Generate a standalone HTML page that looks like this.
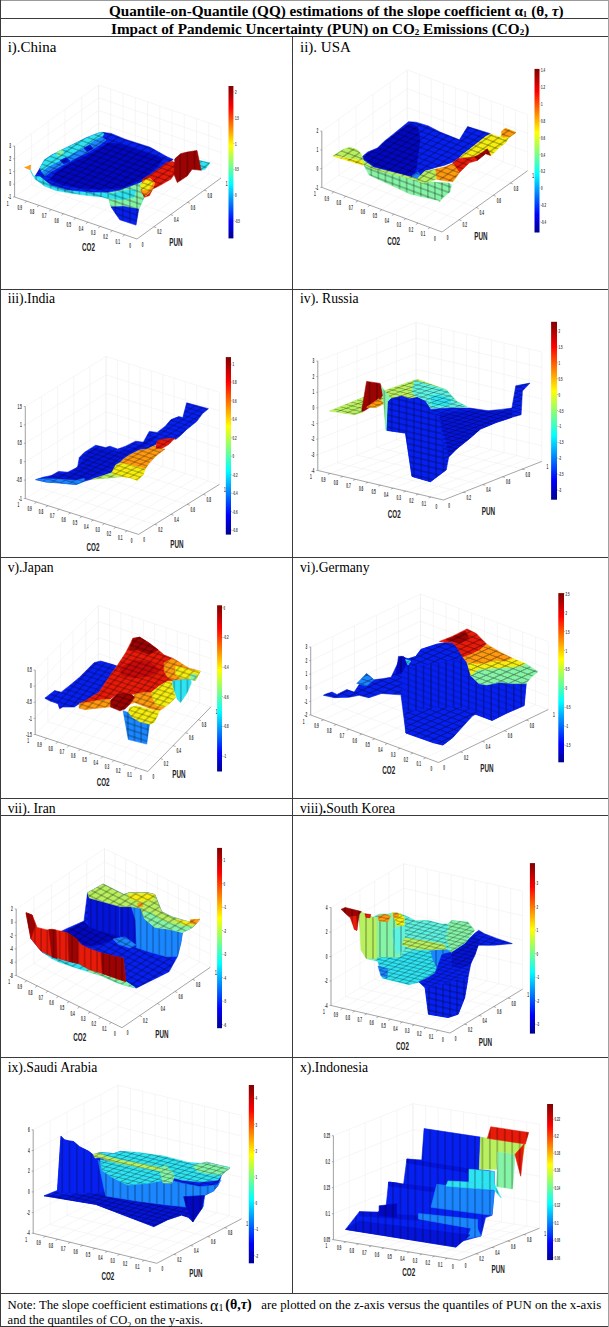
<!DOCTYPE html>
<html><head><meta charset="utf-8">
<style>
*{margin:0;padding:0;box-sizing:border-box}
html,body{width:609px;height:1327px;background:#fff;overflow:hidden}
body{position:relative;font-family:"Liberation Serif",serif;color:#111}
.h{position:absolute;left:0;width:609px;height:1px;background:#3a3a3a}
.v{position:absolute;width:1px;background:#3a3a3a}
.t{position:absolute;white-space:nowrap;line-height:1}
.hd{font-weight:bold;font-size:15.2px;color:#000}
.lb{font-size:13.7px;color:#000}
.note{font-size:12.75px;color:#000}
svg{position:absolute}
.sf{font-family:"Liberation Sans",sans-serif}
</style></head><body>
<!-- borders -->
<div class="h" style="top:0;background:#9a9a9a"></div>
<div class="h" style="top:18px"></div>
<div class="h" style="top:36px"></div>
<div class="h" style="top:289px"></div>
<div class="h" style="top:557px"></div>
<div class="h" style="top:798px"></div>
<div class="h" style="top:815px"></div>
<div class="h" style="top:1057px"></div>
<div class="h" style="top:1293px"></div>
<div class="h" style="top:1326px"></div>
<div class="v" style="left:0;top:0;height:1327px"></div>
<div class="v" style="left:608px;top:0;height:1327px;background:#a0a0a0"></div>
<div class="v" style="left:292px;top:36px;height:1257px"></div>

<div class="t hd" style="left:109px;top:3px">Quantile-on-Quantile (QQ) estimations of the slope coefficient α<sub style="font-size:9px;vertical-align:-1px">1</sub> (θ, <i>τ</i>)</div>
<div class="t hd" style="left:111px;top:21px">Impact of Pandemic Uncertainty (PUN) on CO<sub style="font-size:9px;vertical-align:-1px">2</sub> Emissions (CO<sub style="font-size:9px;vertical-align:-1px">2</sub>)</div>

<div class="t lb" style="left:7.7px;top:39.5px;font-size:15px">i).China</div>
<div class="t lb" style="left:300px;top:39.5px;font-size:15px">ii). USA</div>
<div class="t lb" style="left:7.7px;top:292px">iii).India</div>
<div class="t lb" style="left:300px;top:292px">iv). Russia</div>
<div class="t lb" style="left:7.7px;top:560.5px">v).Japan</div>
<div class="t lb" style="left:300px;top:560.5px">vi).Germany</div>
<div class="t lb" style="left:7.7px;top:801.5px">vii). Iran</div>
<div class="t lb" style="left:300px;top:801.5px">viii)<b>.</b>South Korea</div>
<div class="t lb" style="left:7.7px;top:1060.5px">ix).Saudi Arabia</div>
<div class="t lb" style="left:300px;top:1060.5px">x).Indonesia</div>

<div class="t note" style="left:7.6px;top:1298.5px">Note: The slope coefficient estimations</div>
<div class="t note" style="left:210px;top:1297.5px"><span style="font-size:16px">α</span><span style="font-size:10px">1</span></div>
<div class="t note" style="left:225.3px;top:1297.5px;font-weight:bold;font-size:14px">(θ,<i>τ</i>)</div>
<div class="t note" style="left:261.3px;top:1298.5px;font-size:12.84px">are plotted on the z-axis versus the quantiles of PUN on the x-axis</div>
<div class="t note" style="left:7.6px;top:1313.5px;font-size:12.62px">and the quantiles of CO<sub style="font-size:8px">2</sub> on the y-axis.</div>

<svg width="609" height="1327" viewBox="0 0 609 1327" style="left:0;top:0" font-family="Liberation Sans, sans-serif"><defs><linearGradient id="jet" x1="0" y1="1" x2="0" y2="0"><stop offset="0" stop-color="#00008f"/><stop offset="0.11" stop-color="#0000ff"/><stop offset="0.36" stop-color="#00ffff"/><stop offset="0.61" stop-color="#ffff00"/><stop offset="0.86" stop-color="#ff0000"/><stop offset="1" stop-color="#800000"/></linearGradient></defs>
<line x1="31.4" y1="184.8" x2="153.8" y2="226.8" stroke="#ececec" stroke-width="0.5"/>
<line x1="48.2" y1="172.6" x2="170.6" y2="214.6" stroke="#ececec" stroke-width="0.5"/>
<line x1="65.0" y1="160.4" x2="187.4" y2="202.4" stroke="#ececec" stroke-width="0.5"/>
<line x1="81.8" y1="148.2" x2="204.2" y2="190.2" stroke="#ececec" stroke-width="0.5"/>
<line x1="26.8" y1="201.2" x2="110.8" y2="140.2" stroke="#ececec" stroke-width="0.5"/>
<line x1="39.1" y1="205.4" x2="123.1" y2="144.4" stroke="#ececec" stroke-width="0.5"/>
<line x1="51.3" y1="209.6" x2="135.3" y2="148.6" stroke="#ececec" stroke-width="0.5"/>
<line x1="63.6" y1="213.8" x2="147.6" y2="152.8" stroke="#ececec" stroke-width="0.5"/>
<line x1="75.8" y1="218.0" x2="159.8" y2="157.0" stroke="#ececec" stroke-width="0.5"/>
<line x1="88.0" y1="222.2" x2="172.0" y2="161.2" stroke="#ececec" stroke-width="0.5"/>
<line x1="100.3" y1="226.4" x2="184.3" y2="165.4" stroke="#ececec" stroke-width="0.5"/>
<line x1="112.5" y1="230.6" x2="196.5" y2="169.6" stroke="#ececec" stroke-width="0.5"/>
<line x1="124.8" y1="234.8" x2="208.8" y2="173.8" stroke="#ececec" stroke-width="0.5"/>
<line x1="14.6" y1="197.0" x2="14.6" y2="146.0" stroke="#ececec" stroke-width="0.5"/>
<line x1="31.4" y1="184.8" x2="31.4" y2="133.8" stroke="#ececec" stroke-width="0.5"/>
<line x1="48.2" y1="172.6" x2="48.2" y2="121.6" stroke="#ececec" stroke-width="0.5"/>
<line x1="65.0" y1="160.4" x2="65.0" y2="109.4" stroke="#ececec" stroke-width="0.5"/>
<line x1="81.8" y1="148.2" x2="81.8" y2="97.2" stroke="#ececec" stroke-width="0.5"/>
<line x1="98.6" y1="136.0" x2="98.6" y2="85.0" stroke="#ececec" stroke-width="0.5"/>
<line x1="14.6" y1="197.0" x2="98.6" y2="136.0" stroke="#ececec" stroke-width="0.5"/>
<line x1="14.6" y1="184.2" x2="98.6" y2="123.2" stroke="#ececec" stroke-width="0.5"/>
<line x1="14.6" y1="171.5" x2="98.6" y2="110.5" stroke="#ececec" stroke-width="0.5"/>
<line x1="14.6" y1="158.8" x2="98.6" y2="97.8" stroke="#ececec" stroke-width="0.5"/>
<line x1="14.6" y1="146.0" x2="98.6" y2="85.0" stroke="#ececec" stroke-width="0.5"/>
<line x1="98.6" y1="136.0" x2="98.6" y2="85.0" stroke="#ececec" stroke-width="0.5"/>
<line x1="110.8" y1="140.2" x2="110.8" y2="89.2" stroke="#ececec" stroke-width="0.5"/>
<line x1="123.1" y1="144.4" x2="123.1" y2="93.4" stroke="#ececec" stroke-width="0.5"/>
<line x1="135.3" y1="148.6" x2="135.3" y2="97.6" stroke="#ececec" stroke-width="0.5"/>
<line x1="147.6" y1="152.8" x2="147.6" y2="101.8" stroke="#ececec" stroke-width="0.5"/>
<line x1="159.8" y1="157.0" x2="159.8" y2="106.0" stroke="#ececec" stroke-width="0.5"/>
<line x1="172.0" y1="161.2" x2="172.0" y2="110.2" stroke="#ececec" stroke-width="0.5"/>
<line x1="184.3" y1="165.4" x2="184.3" y2="114.4" stroke="#ececec" stroke-width="0.5"/>
<line x1="196.5" y1="169.6" x2="196.5" y2="118.6" stroke="#ececec" stroke-width="0.5"/>
<line x1="208.8" y1="173.8" x2="208.8" y2="122.8" stroke="#ececec" stroke-width="0.5"/>
<line x1="221.0" y1="178.0" x2="221.0" y2="127.0" stroke="#ececec" stroke-width="0.5"/>
<line x1="98.6" y1="136.0" x2="221.0" y2="178.0" stroke="#ececec" stroke-width="0.5"/>
<line x1="98.6" y1="123.2" x2="221.0" y2="165.2" stroke="#ececec" stroke-width="0.5"/>
<line x1="98.6" y1="110.5" x2="221.0" y2="152.5" stroke="#ececec" stroke-width="0.5"/>
<line x1="98.6" y1="97.8" x2="221.0" y2="139.8" stroke="#ececec" stroke-width="0.5"/>
<line x1="98.6" y1="85.0" x2="221.0" y2="127.0" stroke="#ececec" stroke-width="0.5"/>
<line x1="14.6" y1="197.0" x2="14.6" y2="146.0" stroke="#808080" stroke-width="0.7"/>
<line x1="14.6" y1="197.0" x2="137.0" y2="239.0" stroke="#808080" stroke-width="0.7"/>
<line x1="137.0" y1="239.0" x2="221.0" y2="178.0" stroke="#808080" stroke-width="0.7"/>
<line x1="14.6" y1="197.0" x2="13.1" y2="197.0" stroke="#808080" stroke-width="0.6"/>
<text x="11.1" y="199.2" font-size="6.3" text-anchor="end" fill="#333" font-weight="bold" transform="translate(11.1 199.2) scale(0.50 1) translate(-11.1 -199.2)">-1</text>
<line x1="14.6" y1="184.2" x2="13.1" y2="184.2" stroke="#808080" stroke-width="0.6"/>
<text x="11.1" y="186.4" font-size="6.3" text-anchor="end" fill="#333" font-weight="bold" transform="translate(11.1 186.4) scale(0.50 1) translate(-11.1 -186.4)">0</text>
<line x1="14.6" y1="171.5" x2="13.1" y2="171.5" stroke="#808080" stroke-width="0.6"/>
<text x="11.1" y="173.7" font-size="6.3" text-anchor="end" fill="#333" font-weight="bold" transform="translate(11.1 173.7) scale(0.50 1) translate(-11.1 -173.7)">1</text>
<line x1="14.6" y1="158.8" x2="13.1" y2="158.8" stroke="#808080" stroke-width="0.6"/>
<text x="11.1" y="160.9" font-size="6.3" text-anchor="end" fill="#333" font-weight="bold" transform="translate(11.1 160.9) scale(0.50 1) translate(-11.1 -160.9)">2</text>
<line x1="14.6" y1="146.0" x2="13.1" y2="146.0" stroke="#808080" stroke-width="0.6"/>
<text x="11.1" y="148.2" font-size="6.3" text-anchor="end" fill="#333" font-weight="bold" transform="translate(11.1 148.2) scale(0.50 1) translate(-11.1 -148.2)">3</text>
<text x="7.6" y="205.8" font-size="6.3" text-anchor="middle" fill="#333" font-weight="bold" transform="translate(7.6 205.8) scale(0.50 1) translate(-7.6 -205.8)">1</text>
<text x="19.8" y="210.0" font-size="6.3" text-anchor="middle" fill="#333" font-weight="bold" transform="translate(19.8 210.0) scale(0.50 1) translate(-19.8 -210.0)">0.9</text>
<line x1="26.8" y1="201.2" x2="24.7" y2="202.7" stroke="#777" stroke-width="0.6"/>
<text x="32.1" y="214.2" font-size="6.3" text-anchor="middle" fill="#333" font-weight="bold" transform="translate(32.1 214.2) scale(0.50 1) translate(-32.1 -214.2)">0.8</text>
<line x1="39.1" y1="205.4" x2="37.0" y2="206.9" stroke="#777" stroke-width="0.6"/>
<text x="44.3" y="218.4" font-size="6.3" text-anchor="middle" fill="#333" font-weight="bold" transform="translate(44.3 218.4) scale(0.50 1) translate(-44.3 -218.4)">0.7</text>
<line x1="51.3" y1="209.6" x2="49.2" y2="211.1" stroke="#777" stroke-width="0.6"/>
<text x="56.6" y="222.6" font-size="6.3" text-anchor="middle" fill="#333" font-weight="bold" transform="translate(56.6 222.6) scale(0.50 1) translate(-56.6 -222.6)">0.6</text>
<line x1="63.6" y1="213.8" x2="61.5" y2="215.3" stroke="#777" stroke-width="0.6"/>
<text x="68.8" y="226.8" font-size="6.3" text-anchor="middle" fill="#333" font-weight="bold" transform="translate(68.8 226.8) scale(0.50 1) translate(-68.8 -226.8)">0.5</text>
<line x1="75.8" y1="218.0" x2="73.7" y2="219.5" stroke="#777" stroke-width="0.6"/>
<text x="81.0" y="231.0" font-size="6.3" text-anchor="middle" fill="#333" font-weight="bold" transform="translate(81.0 231.0) scale(0.50 1) translate(-81.0 -231.0)">0.4</text>
<line x1="88.0" y1="222.2" x2="85.9" y2="223.7" stroke="#777" stroke-width="0.6"/>
<text x="93.3" y="235.2" font-size="6.3" text-anchor="middle" fill="#333" font-weight="bold" transform="translate(93.3 235.2) scale(0.50 1) translate(-93.3 -235.2)">0.3</text>
<line x1="100.3" y1="226.4" x2="98.2" y2="227.9" stroke="#777" stroke-width="0.6"/>
<text x="105.5" y="239.4" font-size="6.3" text-anchor="middle" fill="#333" font-weight="bold" transform="translate(105.5 239.4) scale(0.50 1) translate(-105.5 -239.4)">0.2</text>
<line x1="112.5" y1="230.6" x2="110.4" y2="232.1" stroke="#777" stroke-width="0.6"/>
<text x="117.8" y="243.6" font-size="6.3" text-anchor="middle" fill="#333" font-weight="bold" transform="translate(117.8 243.6) scale(0.50 1) translate(-117.8 -243.6)">0.1</text>
<line x1="124.8" y1="234.8" x2="122.7" y2="236.3" stroke="#777" stroke-width="0.6"/>
<text x="130.0" y="247.8" font-size="6.3" text-anchor="middle" fill="#333" font-weight="bold" transform="translate(130.0 247.8) scale(0.50 1) translate(-130.0 -247.8)">0</text>
<text x="142.6" y="246.6" font-size="6.3" text-anchor="middle" fill="#333" font-weight="bold" transform="translate(142.6 246.6) scale(0.50 1) translate(-142.6 -246.6)">0</text>
<text x="159.4" y="234.4" font-size="6.3" text-anchor="middle" fill="#333" font-weight="bold" transform="translate(159.4 234.4) scale(0.50 1) translate(-159.4 -234.4)">0.2</text>
<line x1="153.8" y1="226.8" x2="156.3" y2="227.6" stroke="#777" stroke-width="0.6"/>
<text x="176.2" y="222.2" font-size="6.3" text-anchor="middle" fill="#333" font-weight="bold" transform="translate(176.2 222.2) scale(0.50 1) translate(-176.2 -222.2)">0.4</text>
<line x1="170.6" y1="214.6" x2="173.1" y2="215.4" stroke="#777" stroke-width="0.6"/>
<text x="193.0" y="210.0" font-size="6.3" text-anchor="middle" fill="#333" font-weight="bold" transform="translate(193.0 210.0) scale(0.50 1) translate(-193.0 -210.0)">0.6</text>
<line x1="187.4" y1="202.4" x2="189.9" y2="203.2" stroke="#777" stroke-width="0.6"/>
<text x="209.8" y="197.8" font-size="6.3" text-anchor="middle" fill="#333" font-weight="bold" transform="translate(209.8 197.8) scale(0.50 1) translate(-209.8 -197.8)">0.8</text>
<line x1="204.2" y1="190.2" x2="206.7" y2="191.0" stroke="#777" stroke-width="0.6"/>
<text x="226.6" y="185.6" font-size="6.3" text-anchor="middle" fill="#333" font-weight="bold" transform="translate(226.6 185.6) scale(0.50 1) translate(-226.6 -185.6)">1</text>
<text x="88.5" y="251.0" font-size="10.5" text-anchor="middle" fill="#222" font-weight="bold" font-weight="bold" transform="translate(88.5 251.0) scale(0.6 1) translate(-88.5 -251.0)">CO2</text>
<text x="176.0" y="246.5" font-size="10.5" text-anchor="middle" fill="#222" font-weight="bold" font-weight="bold" transform="translate(176.0 246.5) scale(0.6 1) translate(-176.0 -246.5)">PUN</text>
<defs><pattern id="m0f" patternUnits="userSpaceOnUse" width="100" height="100" patternTransform="matrix(0.0720 0.0247 0.0494 -0.0359 14.60 197.00)"><path d="M0 0V100M100 0V100M0 0H100M0 100H100" stroke="#000" stroke-opacity="0.55" stroke-width="12" fill="none"/></pattern><pattern id="m0u" patternUnits="userSpaceOnUse" width="100" height="100" patternTransform="matrix(0.0720 0.0247 0.0000 0.0500 14.60 197.00)"><path d="M0 0V100M100 0V100" stroke="#000" stroke-opacity="0.55" stroke-width="12" fill="none"/></pattern><pattern id="m0v" patternUnits="userSpaceOnUse" width="100" height="100" patternTransform="matrix(0.0494 -0.0359 0.0000 0.0500 14.60 197.00)"><path d="M0 0V100M100 0V100" stroke="#000" stroke-opacity="0.55" stroke-width="12" fill="none"/></pattern><pattern id="m0w" patternUnits="userSpaceOnUse" width="100" height="100" patternTransform="matrix(0.0720 0.0247 0.0000 0.0600 14.60 197.00)"><path d="M0 0V100M100 0V100M0 0H100M0 100H100" stroke="#000" stroke-opacity="0.55" stroke-width="12" fill="none"/></pattern></defs>
<polygon points="24.6,167.4 30.7,165.2 30.2,169.7" fill="#ff9a10" stroke="#ff9a10" stroke-width="0.6" stroke-linejoin="round"/>
<polygon points="24.6,167.4 30.7,165.2 30.2,169.7" fill="url(#m0f)"/>
<polygon points="30.2,169.7 33.0,176.0 39.9,176.0 51.4,185.2 67.5,189.8 90.5,192.1 108.9,192.1 120.3,189.8 138.7,182.9 146.0,180.0 150.0,186.0 146.1,193.6 143.3,199.0 138.7,209.3 111.1,207.0 108.9,199.0 102.0,197.0 85.9,195.3 69.8,193.0 56.0,190.5 44.5,186.0 35.0,179.0" fill="#2ee4f2" stroke="#2ee4f2" stroke-width="0.6" stroke-linejoin="round"/>
<polygon points="30.2,169.7 33.0,176.0 39.9,176.0 51.4,185.2 67.5,189.8 90.5,192.1 108.9,192.1 120.3,189.8 138.7,182.9 146.0,180.0 150.0,186.0 146.1,193.6 143.3,199.0 138.7,209.3 111.1,207.0 108.9,199.0 102.0,197.0 85.9,195.3 69.8,193.0 56.0,190.5 44.5,186.0 35.0,179.0" fill="url(#m0w)"/>
<polygon points="108.9,192.1 120.3,189.8 138.7,182.9 146.0,180.0 150.0,186.0 146.1,193.6 143.3,199.0 138.7,209.3 125.0,208.0 111.1,207.0 108.9,199.0" fill="#86f4a6" stroke="#86f4a6" stroke-width="0.6" stroke-linejoin="round"/>
<polygon points="108.9,192.1 120.3,189.8 138.7,182.9 146.0,180.0 150.0,186.0 146.1,193.6 143.3,199.0 138.7,209.3 125.0,208.0 111.1,207.0 108.9,199.0" fill="url(#m0w)"/>
<polygon points="104.0,194.0 115.0,193.0 128.0,190.0 136.0,190.0 134.0,197.0 122.0,200.0 108.0,198.0" fill="#2ee4f2" stroke="#2ee4f2" stroke-width="0.6" stroke-linejoin="round"/>
<polygon points="104.0,194.0 115.0,193.0 128.0,190.0 136.0,190.0 134.0,197.0 122.0,200.0 108.0,198.0" fill="url(#m0w)"/>
<polygon points="35.3,176.0 40.0,168.0 44.5,159.9 51.4,155.3 62.9,149.5 74.4,143.8 85.9,138.0 97.4,133.4 102.0,132.3 111.1,133.4 125.0,139.2 150.0,147.2 167.1,156.8 173.2,159.5 167.5,163.6 159.3,168.5 149.4,176.0 142.8,180.8 138.7,182.9 120.3,189.8 108.9,192.1 90.5,192.1 67.5,189.8 51.4,185.2 39.9,176.0" fill="#0620f2" stroke="#0620f2" stroke-width="0.6" stroke-linejoin="round"/>
<polygon points="35.3,176.0 40.0,168.0 44.5,159.9 51.4,155.3 62.9,149.5 74.4,143.8 85.9,138.0 97.4,133.4 102.0,132.3 111.1,133.4 125.0,139.2 150.0,147.2 167.1,156.8 173.2,159.5 167.5,163.6 159.3,168.5 149.4,176.0 142.8,180.8 138.7,182.9 120.3,189.8 108.9,192.1 90.5,192.1 67.5,189.8 51.4,185.2 39.9,176.0" fill="url(#m0f)"/>
<polygon points="50.0,180.0 56.0,172.0 66.0,166.0 78.0,160.0 90.0,154.0 100.0,148.0 108.0,143.0 120.0,144.0 135.0,149.0 150.0,154.0 163.0,159.0 158.0,166.0 150.0,173.0 142.0,179.0 132.0,184.0 120.0,188.0 100.0,189.5 80.0,188.0 62.0,185.0" fill="#0208c0" stroke="#0208c0" stroke-width="0.6" stroke-linejoin="round"/>
<polygon points="50.0,180.0 56.0,172.0 66.0,166.0 78.0,160.0 90.0,154.0 100.0,148.0 108.0,143.0 120.0,144.0 135.0,149.0 150.0,154.0 163.0,159.0 158.0,166.0 150.0,173.0 142.0,179.0 132.0,184.0 120.0,188.0 100.0,189.5 80.0,188.0 62.0,185.0" fill="url(#m0f)"/>
<polygon points="40.0,168.0 44.5,159.9 51.4,155.3 62.9,149.5 74.4,143.8 85.9,138.0 97.4,133.4 102.0,132.3 104.0,134.0 102.0,136.9 95.0,140.3 85.9,147.2 74.4,153.0 62.9,159.9 49.0,166.8 42.0,172.0" fill="#2ee4f2" stroke="#2ee4f2" stroke-width="0.6" stroke-linejoin="round"/>
<polygon points="40.0,168.0 44.5,159.9 51.4,155.3 62.9,149.5 74.4,143.8 85.9,138.0 97.4,133.4 102.0,132.3 104.0,134.0 102.0,136.9 95.0,140.3 85.9,147.2 74.4,153.0 62.9,159.9 49.0,166.8 42.0,172.0" fill="url(#m0f)"/>
<polygon points="42.0,172.0 49.0,166.8 62.9,159.9 74.4,153.0 85.9,147.2 95.0,140.3 102.0,136.9 106.0,140.0 98.0,146.0 88.0,152.0 76.0,158.0 64.0,164.5 52.0,171.0 45.0,176.0" fill="#1a86ff" stroke="#1a86ff" stroke-width="0.6" stroke-linejoin="round"/>
<polygon points="42.0,172.0 49.0,166.8 62.9,159.9 74.4,153.0 85.9,147.2 95.0,140.3 102.0,136.9 106.0,140.0 98.0,146.0 88.0,152.0 76.0,158.0 64.0,164.5 52.0,171.0 45.0,176.0" fill="url(#m0f)"/>
<polygon points="60.0,160.5 66.0,157.5 70.0,161.0 64.0,164.0" fill="#0414d8" stroke="#0414d8" stroke-width="0.6" stroke-linejoin="round"/>
<polygon points="60.0,160.5 66.0,157.5 70.0,161.0 64.0,164.0" fill="url(#m0f)"/>
<polygon points="84.0,148.0 90.0,145.0 93.0,148.5 87.0,151.5" fill="#0414d8" stroke="#0414d8" stroke-width="0.6" stroke-linejoin="round"/>
<polygon points="84.0,148.0 90.0,145.0 93.0,148.5 87.0,151.5" fill="url(#m0f)"/>
<polygon points="56.0,152.5 62.0,149.6 64.0,153.0 58.0,156.0" fill="#86f4a6" stroke="#86f4a6" stroke-width="0.6" stroke-linejoin="round"/>
<polygon points="56.0,152.5 62.0,149.6 64.0,153.0 58.0,156.0" fill="url(#m0f)"/>
<polygon points="166.6,162.4 172.4,161.5 179.0,164.4 175.7,172.6 170.8,179.2 159.3,185.8 152.7,189.0 149.4,195.6 144.5,197.2 141.2,190.7 142.8,179.2 151.0,174.3 159.3,168.5" fill="#e81a0a" stroke="#e81a0a" stroke-width="0.6" stroke-linejoin="round"/>
<polygon points="166.6,162.4 172.4,161.5 179.0,164.4 175.7,172.6 170.8,179.2 159.3,185.8 152.7,189.0 149.4,195.6 144.5,197.2 141.2,190.7 142.8,179.2 151.0,174.3 159.3,168.5" fill="url(#m0f)"/>
<polygon points="141.2,190.7 142.8,181.0 150.0,178.0 155.0,183.0 152.0,190.0 146.0,196.0" fill="#ff9a10" stroke="#ff9a10" stroke-width="0.6" stroke-linejoin="round"/>
<polygon points="141.2,190.7 142.8,181.0 150.0,178.0 155.0,183.0 152.0,190.0 146.0,196.0" fill="url(#m0f)"/>
<polygon points="140.0,186.0 146.0,180.0 152.7,183.0 149.0,189.0 143.0,190.0" fill="#f6ee10" stroke="#f6ee10" stroke-width="0.6" stroke-linejoin="round"/>
<polygon points="140.0,186.0 146.0,180.0 152.7,183.0 149.0,189.0 143.0,190.0" fill="url(#m0f)"/>
<polygon points="198.7,160.3 210.0,162.8 205.2,169.3 201.1,170.2" fill="#2ee4f2" stroke="#2ee4f2" stroke-width="0.6" stroke-linejoin="round"/>
<polygon points="198.7,160.3 210.0,162.8 205.2,169.3 201.1,170.2" fill="url(#m0f)"/>
<polygon points="174.0,160.0 178.0,156.0 181.0,157.0 177.0,162.0" fill="#2ee4f2" stroke="#2ee4f2" stroke-width="0.6" stroke-linejoin="round"/>
<polygon points="174.0,160.0 178.0,156.0 181.0,157.0 177.0,162.0" fill="url(#m0f)"/>
<polygon points="174.9,158.7 180.6,153.7 187.2,152.1 197.0,150.5 201.1,170.2 192.1,169.3 187.2,175.9 177.3,182.5 174.0,174.3" fill="#9c0404" stroke="#9c0404" stroke-width="0.6" stroke-linejoin="round"/>
<polygon points="174.9,158.7 180.6,153.7 187.2,152.1 197.0,150.5 201.1,170.2 192.1,169.3 187.2,175.9 177.3,182.5 174.0,174.3" fill="url(#m0u)"/>
<polygon points="111.1,207.0 124.0,206.5 138.7,209.3 136.0,225.1 119.8,219.8 114.6,212.2" fill="#0620f2" stroke="#0620f2" stroke-width="0.6" stroke-linejoin="round"/>
<polygon points="111.1,207.0 124.0,206.5 138.7,209.3 136.0,225.1 119.8,219.8 114.6,212.2" fill="url(#m0w)"/>
<rect x="228.5" y="86" width="4.900000000000006" height="152.4" fill="url(#jet)"/>
<line x1="233.4" y1="92.0" x2="234.4" y2="92.0" stroke="#808080" stroke-width="0.5"/>
<text x="235.0" y="94.1" font-size="6.2" text-anchor="start" fill="#333" font-weight="bold" transform="translate(235.0 94.1) scale(0.46 1) translate(-235.0 -94.1)">2</text>
<line x1="233.4" y1="118.0" x2="234.4" y2="118.0" stroke="#808080" stroke-width="0.5"/>
<text x="235.0" y="120.1" font-size="6.2" text-anchor="start" fill="#333" font-weight="bold" transform="translate(235.0 120.1) scale(0.46 1) translate(-235.0 -120.1)">1.5</text>
<line x1="233.4" y1="143.5" x2="234.4" y2="143.5" stroke="#808080" stroke-width="0.5"/>
<text x="235.0" y="145.6" font-size="6.2" text-anchor="start" fill="#333" font-weight="bold" transform="translate(235.0 145.6) scale(0.46 1) translate(-235.0 -145.6)">1</text>
<line x1="233.4" y1="169.4" x2="234.4" y2="169.4" stroke="#808080" stroke-width="0.5"/>
<text x="235.0" y="171.5" font-size="6.2" text-anchor="start" fill="#333" font-weight="bold" transform="translate(235.0 171.5) scale(0.46 1) translate(-235.0 -171.5)">0.5</text>
<line x1="233.4" y1="195.3" x2="234.4" y2="195.3" stroke="#808080" stroke-width="0.5"/>
<text x="235.0" y="197.4" font-size="6.2" text-anchor="start" fill="#333" font-weight="bold" transform="translate(235.0 197.4) scale(0.46 1) translate(-235.0 -197.4)">0</text>
<line x1="233.4" y1="220.6" x2="234.4" y2="220.6" stroke="#808080" stroke-width="0.5"/>
<text x="235.0" y="222.7" font-size="6.2" text-anchor="start" fill="#333" font-weight="bold" transform="translate(235.0 222.7) scale(0.46 1) translate(-235.0 -222.7)">-0.5</text>
<line x1="338.9" y1="175.2" x2="459.1" y2="219.8" stroke="#ececec" stroke-width="0.5"/>
<line x1="356.0" y1="162.9" x2="476.2" y2="207.5" stroke="#ececec" stroke-width="0.5"/>
<line x1="373.1" y1="150.7" x2="493.3" y2="195.3" stroke="#ececec" stroke-width="0.5"/>
<line x1="390.2" y1="138.4" x2="510.4" y2="183.0" stroke="#ececec" stroke-width="0.5"/>
<line x1="333.8" y1="191.9" x2="419.3" y2="130.7" stroke="#ececec" stroke-width="0.5"/>
<line x1="345.8" y1="196.3" x2="431.3" y2="135.1" stroke="#ececec" stroke-width="0.5"/>
<line x1="357.9" y1="200.8" x2="443.4" y2="139.6" stroke="#ececec" stroke-width="0.5"/>
<line x1="369.9" y1="205.2" x2="455.4" y2="144.0" stroke="#ececec" stroke-width="0.5"/>
<line x1="381.9" y1="209.7" x2="467.4" y2="148.5" stroke="#ececec" stroke-width="0.5"/>
<line x1="393.9" y1="214.2" x2="479.4" y2="153.0" stroke="#ececec" stroke-width="0.5"/>
<line x1="405.9" y1="218.6" x2="491.4" y2="157.4" stroke="#ececec" stroke-width="0.5"/>
<line x1="418.0" y1="223.1" x2="503.5" y2="161.9" stroke="#ececec" stroke-width="0.5"/>
<line x1="430.0" y1="227.5" x2="515.5" y2="166.3" stroke="#ececec" stroke-width="0.5"/>
<line x1="321.8" y1="187.4" x2="321.8" y2="131.1" stroke="#ececec" stroke-width="0.5"/>
<line x1="338.9" y1="175.2" x2="338.9" y2="118.9" stroke="#ececec" stroke-width="0.5"/>
<line x1="356.0" y1="162.9" x2="356.0" y2="106.6" stroke="#ececec" stroke-width="0.5"/>
<line x1="373.1" y1="150.7" x2="373.1" y2="94.4" stroke="#ececec" stroke-width="0.5"/>
<line x1="390.2" y1="138.4" x2="390.2" y2="82.1" stroke="#ececec" stroke-width="0.5"/>
<line x1="407.3" y1="126.2" x2="407.3" y2="69.9" stroke="#ececec" stroke-width="0.5"/>
<line x1="321.8" y1="187.4" x2="407.3" y2="126.2" stroke="#ececec" stroke-width="0.5"/>
<line x1="321.8" y1="168.6" x2="407.3" y2="107.4" stroke="#ececec" stroke-width="0.5"/>
<line x1="321.8" y1="149.9" x2="407.3" y2="88.7" stroke="#ececec" stroke-width="0.5"/>
<line x1="321.8" y1="131.1" x2="407.3" y2="69.9" stroke="#ececec" stroke-width="0.5"/>
<line x1="407.3" y1="126.2" x2="407.3" y2="69.9" stroke="#ececec" stroke-width="0.5"/>
<line x1="419.3" y1="130.7" x2="419.3" y2="74.4" stroke="#ececec" stroke-width="0.5"/>
<line x1="431.3" y1="135.1" x2="431.3" y2="78.8" stroke="#ececec" stroke-width="0.5"/>
<line x1="443.4" y1="139.6" x2="443.4" y2="83.3" stroke="#ececec" stroke-width="0.5"/>
<line x1="455.4" y1="144.0" x2="455.4" y2="87.7" stroke="#ececec" stroke-width="0.5"/>
<line x1="467.4" y1="148.5" x2="467.4" y2="92.2" stroke="#ececec" stroke-width="0.5"/>
<line x1="479.4" y1="153.0" x2="479.4" y2="96.7" stroke="#ececec" stroke-width="0.5"/>
<line x1="491.4" y1="157.4" x2="491.4" y2="101.1" stroke="#ececec" stroke-width="0.5"/>
<line x1="503.5" y1="161.9" x2="503.5" y2="105.6" stroke="#ececec" stroke-width="0.5"/>
<line x1="515.5" y1="166.3" x2="515.5" y2="110.0" stroke="#ececec" stroke-width="0.5"/>
<line x1="527.5" y1="170.8" x2="527.5" y2="114.5" stroke="#ececec" stroke-width="0.5"/>
<line x1="407.3" y1="126.2" x2="527.5" y2="170.8" stroke="#ececec" stroke-width="0.5"/>
<line x1="407.3" y1="107.4" x2="527.5" y2="152.0" stroke="#ececec" stroke-width="0.5"/>
<line x1="407.3" y1="88.7" x2="527.5" y2="133.3" stroke="#ececec" stroke-width="0.5"/>
<line x1="407.3" y1="69.9" x2="527.5" y2="114.5" stroke="#ececec" stroke-width="0.5"/>
<line x1="321.8" y1="187.4" x2="321.8" y2="131.1" stroke="#808080" stroke-width="0.7"/>
<line x1="321.8" y1="187.4" x2="442.0" y2="232.0" stroke="#808080" stroke-width="0.7"/>
<line x1="442.0" y1="232.0" x2="527.5" y2="170.8" stroke="#808080" stroke-width="0.7"/>
<line x1="321.8" y1="187.4" x2="320.3" y2="187.4" stroke="#808080" stroke-width="0.6"/>
<text x="318.3" y="189.6" font-size="6.3" text-anchor="end" fill="#333" font-weight="bold" transform="translate(318.3 189.6) scale(0.50 1) translate(-318.3 -189.6)">-1</text>
<line x1="321.8" y1="168.6" x2="320.3" y2="168.6" stroke="#808080" stroke-width="0.6"/>
<text x="318.3" y="170.8" font-size="6.3" text-anchor="end" fill="#333" font-weight="bold" transform="translate(318.3 170.8) scale(0.50 1) translate(-318.3 -170.8)">0</text>
<line x1="321.8" y1="149.9" x2="320.3" y2="149.9" stroke="#808080" stroke-width="0.6"/>
<text x="318.3" y="152.1" font-size="6.3" text-anchor="end" fill="#333" font-weight="bold" transform="translate(318.3 152.1) scale(0.50 1) translate(-318.3 -152.1)">1</text>
<line x1="321.8" y1="131.1" x2="320.3" y2="131.1" stroke="#808080" stroke-width="0.6"/>
<text x="318.3" y="133.3" font-size="6.3" text-anchor="end" fill="#333" font-weight="bold" transform="translate(318.3 133.3) scale(0.50 1) translate(-318.3 -133.3)">2</text>
<text x="314.8" y="196.2" font-size="6.3" text-anchor="middle" fill="#333" font-weight="bold" transform="translate(314.8 196.2) scale(0.50 1) translate(-314.8 -196.2)">1</text>
<text x="326.8" y="200.7" font-size="6.3" text-anchor="middle" fill="#333" font-weight="bold" transform="translate(326.8 200.7) scale(0.50 1) translate(-326.8 -200.7)">0.9</text>
<line x1="333.8" y1="191.9" x2="331.7" y2="193.4" stroke="#777" stroke-width="0.6"/>
<text x="338.8" y="205.1" font-size="6.3" text-anchor="middle" fill="#333" font-weight="bold" transform="translate(338.8 205.1) scale(0.50 1) translate(-338.8 -205.1)">0.8</text>
<line x1="345.8" y1="196.3" x2="343.7" y2="197.8" stroke="#777" stroke-width="0.6"/>
<text x="350.9" y="209.6" font-size="6.3" text-anchor="middle" fill="#333" font-weight="bold" transform="translate(350.9 209.6) scale(0.50 1) translate(-350.9 -209.6)">0.7</text>
<line x1="357.9" y1="200.8" x2="355.7" y2="202.3" stroke="#777" stroke-width="0.6"/>
<text x="362.9" y="214.0" font-size="6.3" text-anchor="middle" fill="#333" font-weight="bold" transform="translate(362.9 214.0) scale(0.50 1) translate(-362.9 -214.0)">0.6</text>
<line x1="369.9" y1="205.2" x2="367.8" y2="206.8" stroke="#777" stroke-width="0.6"/>
<text x="374.9" y="218.5" font-size="6.3" text-anchor="middle" fill="#333" font-weight="bold" transform="translate(374.9 218.5) scale(0.50 1) translate(-374.9 -218.5)">0.5</text>
<line x1="381.9" y1="209.7" x2="379.8" y2="211.2" stroke="#777" stroke-width="0.6"/>
<text x="386.9" y="223.0" font-size="6.3" text-anchor="middle" fill="#333" font-weight="bold" transform="translate(386.9 223.0) scale(0.50 1) translate(-386.9 -223.0)">0.4</text>
<line x1="393.9" y1="214.2" x2="391.8" y2="215.7" stroke="#777" stroke-width="0.6"/>
<text x="398.9" y="227.4" font-size="6.3" text-anchor="middle" fill="#333" font-weight="bold" transform="translate(398.9 227.4) scale(0.50 1) translate(-398.9 -227.4)">0.3</text>
<line x1="405.9" y1="218.6" x2="403.8" y2="220.1" stroke="#777" stroke-width="0.6"/>
<text x="411.0" y="231.9" font-size="6.3" text-anchor="middle" fill="#333" font-weight="bold" transform="translate(411.0 231.9) scale(0.50 1) translate(-411.0 -231.9)">0.2</text>
<line x1="418.0" y1="223.1" x2="415.8" y2="224.6" stroke="#777" stroke-width="0.6"/>
<text x="423.0" y="236.3" font-size="6.3" text-anchor="middle" fill="#333" font-weight="bold" transform="translate(423.0 236.3) scale(0.50 1) translate(-423.0 -236.3)">0.1</text>
<line x1="430.0" y1="227.5" x2="427.9" y2="229.1" stroke="#777" stroke-width="0.6"/>
<text x="435.0" y="240.8" font-size="6.3" text-anchor="middle" fill="#333" font-weight="bold" transform="translate(435.0 240.8) scale(0.50 1) translate(-435.0 -240.8)">0</text>
<text x="447.6" y="239.6" font-size="6.3" text-anchor="middle" fill="#333" font-weight="bold" transform="translate(447.6 239.6) scale(0.50 1) translate(-447.6 -239.6)">0</text>
<text x="464.7" y="227.4" font-size="6.3" text-anchor="middle" fill="#333" font-weight="bold" transform="translate(464.7 227.4) scale(0.50 1) translate(-464.7 -227.4)">0.2</text>
<line x1="459.1" y1="219.8" x2="461.5" y2="220.7" stroke="#777" stroke-width="0.6"/>
<text x="481.8" y="215.1" font-size="6.3" text-anchor="middle" fill="#333" font-weight="bold" transform="translate(481.8 215.1) scale(0.50 1) translate(-481.8 -215.1)">0.4</text>
<line x1="476.2" y1="207.5" x2="478.6" y2="208.4" stroke="#777" stroke-width="0.6"/>
<text x="498.9" y="202.9" font-size="6.3" text-anchor="middle" fill="#333" font-weight="bold" transform="translate(498.9 202.9) scale(0.50 1) translate(-498.9 -202.9)">0.6</text>
<line x1="493.3" y1="195.3" x2="495.7" y2="196.2" stroke="#777" stroke-width="0.6"/>
<text x="516.0" y="190.6" font-size="6.3" text-anchor="middle" fill="#333" font-weight="bold" transform="translate(516.0 190.6) scale(0.50 1) translate(-516.0 -190.6)">0.8</text>
<line x1="510.4" y1="183.0" x2="512.8" y2="183.9" stroke="#777" stroke-width="0.6"/>
<text x="533.1" y="178.4" font-size="6.3" text-anchor="middle" fill="#333" font-weight="bold" transform="translate(533.1 178.4) scale(0.50 1) translate(-533.1 -178.4)">1</text>
<text x="393.6" y="245.0" font-size="10.5" text-anchor="middle" fill="#222" font-weight="bold" font-weight="bold" transform="translate(393.6 245.0) scale(0.6 1) translate(-393.6 -245.0)">CO2</text>
<text x="481.0" y="240.5" font-size="10.5" text-anchor="middle" fill="#222" font-weight="bold" font-weight="bold" transform="translate(481.0 240.5) scale(0.6 1) translate(-481.0 -240.5)">PUN</text>
<defs><pattern id="m1f" patternUnits="userSpaceOnUse" width="100" height="100" patternTransform="matrix(0.0707 0.0262 0.0503 -0.0360 321.80 187.40)"><path d="M0 0V100M100 0V100M0 0H100M0 100H100" stroke="#000" stroke-opacity="0.55" stroke-width="12" fill="none"/></pattern><pattern id="m1u" patternUnits="userSpaceOnUse" width="100" height="100" patternTransform="matrix(0.0707 0.0262 0.0000 0.0500 321.80 187.40)"><path d="M0 0V100M100 0V100" stroke="#000" stroke-opacity="0.55" stroke-width="12" fill="none"/></pattern><pattern id="m1v" patternUnits="userSpaceOnUse" width="100" height="100" patternTransform="matrix(0.0503 -0.0360 0.0000 0.0500 321.80 187.40)"><path d="M0 0V100M100 0V100" stroke="#000" stroke-opacity="0.55" stroke-width="12" fill="none"/></pattern><pattern id="m1w" patternUnits="userSpaceOnUse" width="100" height="100" patternTransform="matrix(0.0707 0.0262 0.0000 0.0600 321.80 187.40)"><path d="M0 0V100M100 0V100M0 0H100M0 100H100" stroke="#000" stroke-opacity="0.55" stroke-width="12" fill="none"/></pattern></defs>
<polygon points="362.8,163.0 374.3,167.5 390.7,171.6 407.0,176.5 410.0,179.1 423.8,181.4 449.0,183.1 451.4,184.8 450.2,191.7 444.5,196.3 438.7,202.1 440.5,201.0 410.0,194.0 369.1,175.1" fill="#86f4a6" stroke="#86f4a6" stroke-width="0.6" stroke-linejoin="round"/>
<polygon points="362.8,163.0 374.3,167.5 390.7,171.6 407.0,176.5 410.0,179.1 423.8,181.4 449.0,183.1 451.4,184.8 450.2,191.7 444.5,196.3 438.7,202.1 440.5,201.0 410.0,194.0 369.1,175.1" fill="url(#m1w)"/>
<polygon points="362.8,159.0 374.0,165.0 396.0,170.5 416.0,175.5 424.0,179.0 424.0,183.0 416.0,180.0 396.0,175.0 374.0,169.5 362.8,164.0" fill="#b8f060" stroke="#b8f060" stroke-width="0.6" stroke-linejoin="round"/>
<polygon points="362.8,159.0 374.0,165.0 396.0,170.5 416.0,175.5 424.0,179.0 424.0,183.0 416.0,180.0 396.0,175.0 374.0,169.5 362.8,164.0" fill="url(#m1f)"/>
<polygon points="332.9,155.9 343.0,149.6 349.6,147.2 357.0,149.6 360.3,152.9 362.8,157.0 362.8,161.0 341.4,156.5" fill="#b8f060" stroke="#b8f060" stroke-width="0.6" stroke-linejoin="round"/>
<polygon points="332.9,155.9 343.0,149.6 349.6,147.2 357.0,149.6 360.3,152.9 362.8,157.0 362.8,161.0 341.4,156.5" fill="url(#m1f)"/>
<polygon points="332.9,155.9 362.8,161.0 362.8,165.2 341.4,158.7" fill="#f6ee10" stroke="#f6ee10" stroke-width="0.6" stroke-linejoin="round"/>
<polygon points="332.9,155.9 362.8,161.0 362.8,165.2 341.4,158.7" fill="url(#m1f)"/>
<polygon points="362.8,156.2 367.7,152.1 377.5,148.0 384.1,141.4 392.3,134.9 400.5,128.3 408.5,121.7 416.0,122.2 428.2,125.9 440.0,132.0 459.4,139.8 467.6,126.6 489.0,133.2 490.6,134.0 485.7,136.5 477.5,143.0 469.3,149.6 462.7,154.6 459.4,157.8 452.8,162.0 444.6,165.2 434.8,167.7 424.9,171.0 420.0,177.5 416.0,177.5 396.0,172.5 374.0,167.0 364.0,160.0" fill="#0620f2" stroke="#0620f2" stroke-width="0.6" stroke-linejoin="round"/>
<polygon points="362.8,156.2 367.7,152.1 377.5,148.0 384.1,141.4 392.3,134.9 400.5,128.3 408.5,121.7 416.0,122.2 428.2,125.9 440.0,132.0 459.4,139.8 467.6,126.6 489.0,133.2 490.6,134.0 485.7,136.5 477.5,143.0 469.3,149.6 462.7,154.6 459.4,157.8 452.8,162.0 444.6,165.2 434.8,167.7 424.9,171.0 420.0,177.5 416.0,177.5 396.0,172.5 374.0,167.0 364.0,160.0" fill="url(#m1f)"/>
<polygon points="364.0,158.0 368.0,153.0 378.0,149.0 385.0,142.0 393.0,136.0 401.0,130.0 408.0,125.0 412.0,124.0 418.0,128.0 420.0,140.0 418.0,155.0 416.0,170.0 412.0,176.0 396.0,172.0 374.0,166.0" fill="#0208c0" stroke="#0208c0" stroke-width="0.6" stroke-linejoin="round"/>
<polygon points="364.0,158.0 368.0,153.0 378.0,149.0 385.0,142.0 393.0,136.0 401.0,130.0 408.0,125.0 412.0,124.0 418.0,128.0 420.0,140.0 418.0,155.0 416.0,170.0 412.0,176.0 396.0,172.0 374.0,166.0" fill="url(#m1f)"/>
<polygon points="412.0,176.0 418.0,172.0 421.0,176.0 418.0,179.0" fill="#1a86ff" stroke="#1a86ff" stroke-width="0.6" stroke-linejoin="round"/>
<polygon points="412.0,176.0 418.0,172.0 421.0,176.0 418.0,179.0" fill="url(#m1f)"/>
<polygon points="462.7,154.6 469.3,149.6 477.5,143.0 485.7,136.5 490.6,134.0 500.5,137.3 502.1,132.4 505.4,128.3 516.0,132.4 508.7,138.1 505.4,143.0 498.8,148.0 492.2,154.6 489.0,155.4 487.3,149.6 479.1,156.2 472.5,157.8 466.0,157.8 459.4,157.8" fill="#f6ee10" stroke="#f6ee10" stroke-width="0.6" stroke-linejoin="round"/>
<polygon points="462.7,154.6 469.3,149.6 477.5,143.0 485.7,136.5 490.6,134.0 500.5,137.3 502.1,132.4 505.4,128.3 516.0,132.4 508.7,138.1 505.4,143.0 498.8,148.0 492.2,154.6 489.0,155.4 487.3,149.6 479.1,156.2 472.5,157.8 466.0,157.8 459.4,157.8" fill="url(#m1f)"/>
<polygon points="501.3,131.6 505.4,128.3 516.0,132.4 510.0,136.5 503.0,137.3" fill="#ff9a10" stroke="#ff9a10" stroke-width="0.6" stroke-linejoin="round"/>
<polygon points="501.3,131.6 505.4,128.3 516.0,132.4 510.0,136.5 503.0,137.3" fill="url(#m1f)"/>
<polygon points="472.5,157.8 479.1,154.6 487.3,148.8 490.6,155.4 485.7,153.7 477.5,160.3 472.5,160.3" fill="#9c0404" stroke="#9c0404" stroke-width="0.6" stroke-linejoin="round"/>
<polygon points="472.5,157.8 479.1,154.6 487.3,148.8 490.6,155.4 485.7,153.7 477.5,160.3 472.5,160.3" fill="url(#m1f)"/>
<polygon points="452.8,162.8 457.8,158.7 466.0,157.8 474.2,157.0 477.5,160.3 469.3,162.8 462.7,169.3 459.4,172.6 452.8,170.2" fill="#e81a0a" stroke="#e81a0a" stroke-width="0.6" stroke-linejoin="round"/>
<polygon points="452.8,162.8 457.8,158.7 466.0,157.8 474.2,157.0 477.5,160.3 469.3,162.8 462.7,169.3 459.4,172.6 452.8,170.2" fill="url(#m1f)"/>
<polygon points="434.8,169.3 444.6,166.9 452.8,163.6 459.4,172.6 456.1,177.5 452.8,181.7 444.6,180.8 436.4,179.2" fill="#ff9a10" stroke="#ff9a10" stroke-width="0.6" stroke-linejoin="round"/>
<polygon points="434.8,169.3 444.6,166.9 452.8,163.6 459.4,172.6 456.1,177.5 452.8,181.7 444.6,180.8 436.4,179.2" fill="url(#m1f)"/>
<polygon points="418.0,178.0 420.0,176.0 424.9,171.0 434.8,169.3 436.4,179.2 429.9,181.7 423.3,182.5 418.0,181.5" fill="#b8f060" stroke="#b8f060" stroke-width="0.6" stroke-linejoin="round"/>
<polygon points="418.0,178.0 420.0,176.0 424.9,171.0 434.8,169.3 436.4,179.2 429.9,181.7 423.3,182.5 418.0,181.5" fill="url(#m1f)"/>
<rect x="534.5" y="68.9" width="5.0" height="163.6" fill="url(#jet)"/>
<line x1="539.5" y1="70.0" x2="540.5" y2="70.0" stroke="#808080" stroke-width="0.5"/>
<text x="541.1" y="72.1" font-size="6.2" text-anchor="start" fill="#333" font-weight="bold" transform="translate(541.1 72.1) scale(0.46 1) translate(-541.1 -72.1)">1.4</text>
<line x1="539.5" y1="87.0" x2="540.5" y2="87.0" stroke="#808080" stroke-width="0.5"/>
<text x="541.1" y="89.1" font-size="6.2" text-anchor="start" fill="#333" font-weight="bold" transform="translate(541.1 89.1) scale(0.46 1) translate(-541.1 -89.1)">1.2</text>
<line x1="539.5" y1="104.0" x2="540.5" y2="104.0" stroke="#808080" stroke-width="0.5"/>
<text x="541.1" y="106.1" font-size="6.2" text-anchor="start" fill="#333" font-weight="bold" transform="translate(541.1 106.1) scale(0.46 1) translate(-541.1 -106.1)">1</text>
<line x1="539.5" y1="121.0" x2="540.5" y2="121.0" stroke="#808080" stroke-width="0.5"/>
<text x="541.1" y="123.1" font-size="6.2" text-anchor="start" fill="#333" font-weight="bold" transform="translate(541.1 123.1) scale(0.46 1) translate(-541.1 -123.1)">0.8</text>
<line x1="539.5" y1="137.8" x2="540.5" y2="137.8" stroke="#808080" stroke-width="0.5"/>
<text x="541.1" y="139.9" font-size="6.2" text-anchor="start" fill="#333" font-weight="bold" transform="translate(541.1 139.9) scale(0.46 1) translate(-541.1 -139.9)">0.6</text>
<line x1="539.5" y1="154.6" x2="540.5" y2="154.6" stroke="#808080" stroke-width="0.5"/>
<text x="541.1" y="156.7" font-size="6.2" text-anchor="start" fill="#333" font-weight="bold" transform="translate(541.1 156.7) scale(0.46 1) translate(-541.1 -156.7)">0.4</text>
<line x1="539.5" y1="171.4" x2="540.5" y2="171.4" stroke="#808080" stroke-width="0.5"/>
<text x="541.1" y="173.5" font-size="6.2" text-anchor="start" fill="#333" font-weight="bold" transform="translate(541.1 173.5) scale(0.46 1) translate(-541.1 -173.5)">0.2</text>
<line x1="539.5" y1="188.2" x2="540.5" y2="188.2" stroke="#808080" stroke-width="0.5"/>
<text x="541.1" y="190.3" font-size="6.2" text-anchor="start" fill="#333" font-weight="bold" transform="translate(541.1 190.3) scale(0.46 1) translate(-541.1 -190.3)">0</text>
<line x1="539.5" y1="205.0" x2="540.5" y2="205.0" stroke="#808080" stroke-width="0.5"/>
<text x="541.1" y="207.1" font-size="6.2" text-anchor="start" fill="#333" font-weight="bold" transform="translate(541.1 207.1) scale(0.46 1) translate(-541.1 -207.1)">-0.2</text>
<line x1="539.5" y1="221.8" x2="540.5" y2="221.8" stroke="#808080" stroke-width="0.5"/>
<text x="541.1" y="223.9" font-size="6.2" text-anchor="start" fill="#333" font-weight="bold" transform="translate(541.1 223.9) scale(0.46 1) translate(-541.1 -223.9)">-0.4</text>
<line x1="41.5" y1="488.5" x2="154.8" y2="524.4" stroke="#ececec" stroke-width="0.5"/>
<line x1="57.6" y1="478.5" x2="170.9" y2="514.4" stroke="#ececec" stroke-width="0.5"/>
<line x1="73.8" y1="468.5" x2="187.1" y2="504.4" stroke="#ececec" stroke-width="0.5"/>
<line x1="89.9" y1="458.5" x2="203.2" y2="494.4" stroke="#ececec" stroke-width="0.5"/>
<line x1="36.6" y1="502.1" x2="117.4" y2="452.1" stroke="#ececec" stroke-width="0.5"/>
<line x1="48.0" y1="505.7" x2="128.8" y2="455.7" stroke="#ececec" stroke-width="0.5"/>
<line x1="59.3" y1="509.3" x2="140.1" y2="459.3" stroke="#ececec" stroke-width="0.5"/>
<line x1="70.6" y1="512.9" x2="151.4" y2="462.9" stroke="#ececec" stroke-width="0.5"/>
<line x1="82.0" y1="516.5" x2="162.8" y2="466.4" stroke="#ececec" stroke-width="0.5"/>
<line x1="93.3" y1="520.0" x2="174.1" y2="470.0" stroke="#ececec" stroke-width="0.5"/>
<line x1="104.6" y1="523.6" x2="185.4" y2="473.6" stroke="#ececec" stroke-width="0.5"/>
<line x1="115.9" y1="527.2" x2="196.7" y2="477.2" stroke="#ececec" stroke-width="0.5"/>
<line x1="127.3" y1="530.8" x2="208.1" y2="480.8" stroke="#ececec" stroke-width="0.5"/>
<line x1="25.3" y1="498.5" x2="25.3" y2="406.5" stroke="#ececec" stroke-width="0.5"/>
<line x1="41.5" y1="488.5" x2="41.5" y2="396.5" stroke="#ececec" stroke-width="0.5"/>
<line x1="57.6" y1="478.5" x2="57.6" y2="386.5" stroke="#ececec" stroke-width="0.5"/>
<line x1="73.8" y1="468.5" x2="73.8" y2="376.5" stroke="#ececec" stroke-width="0.5"/>
<line x1="89.9" y1="458.5" x2="89.9" y2="366.5" stroke="#ececec" stroke-width="0.5"/>
<line x1="106.1" y1="448.5" x2="106.1" y2="356.5" stroke="#ececec" stroke-width="0.5"/>
<line x1="25.3" y1="498.5" x2="106.1" y2="448.5" stroke="#ececec" stroke-width="0.5"/>
<line x1="25.3" y1="480.1" x2="106.1" y2="430.1" stroke="#ececec" stroke-width="0.5"/>
<line x1="25.3" y1="461.7" x2="106.1" y2="411.7" stroke="#ececec" stroke-width="0.5"/>
<line x1="25.3" y1="443.3" x2="106.1" y2="393.3" stroke="#ececec" stroke-width="0.5"/>
<line x1="25.3" y1="424.9" x2="106.1" y2="374.9" stroke="#ececec" stroke-width="0.5"/>
<line x1="25.3" y1="406.5" x2="106.1" y2="356.5" stroke="#ececec" stroke-width="0.5"/>
<line x1="106.1" y1="448.5" x2="106.1" y2="356.5" stroke="#ececec" stroke-width="0.5"/>
<line x1="117.4" y1="452.1" x2="117.4" y2="360.1" stroke="#ececec" stroke-width="0.5"/>
<line x1="128.8" y1="455.7" x2="128.8" y2="363.7" stroke="#ececec" stroke-width="0.5"/>
<line x1="140.1" y1="459.3" x2="140.1" y2="367.3" stroke="#ececec" stroke-width="0.5"/>
<line x1="151.4" y1="462.9" x2="151.4" y2="370.9" stroke="#ececec" stroke-width="0.5"/>
<line x1="162.8" y1="466.4" x2="162.8" y2="374.4" stroke="#ececec" stroke-width="0.5"/>
<line x1="174.1" y1="470.0" x2="174.1" y2="378.0" stroke="#ececec" stroke-width="0.5"/>
<line x1="185.4" y1="473.6" x2="185.4" y2="381.6" stroke="#ececec" stroke-width="0.5"/>
<line x1="196.7" y1="477.2" x2="196.7" y2="385.2" stroke="#ececec" stroke-width="0.5"/>
<line x1="208.1" y1="480.8" x2="208.1" y2="388.8" stroke="#ececec" stroke-width="0.5"/>
<line x1="219.4" y1="484.4" x2="219.4" y2="392.4" stroke="#ececec" stroke-width="0.5"/>
<line x1="106.1" y1="448.5" x2="219.4" y2="484.4" stroke="#ececec" stroke-width="0.5"/>
<line x1="106.1" y1="430.1" x2="219.4" y2="466.0" stroke="#ececec" stroke-width="0.5"/>
<line x1="106.1" y1="411.7" x2="219.4" y2="447.6" stroke="#ececec" stroke-width="0.5"/>
<line x1="106.1" y1="393.3" x2="219.4" y2="429.2" stroke="#ececec" stroke-width="0.5"/>
<line x1="106.1" y1="374.9" x2="219.4" y2="410.8" stroke="#ececec" stroke-width="0.5"/>
<line x1="106.1" y1="356.5" x2="219.4" y2="392.4" stroke="#ececec" stroke-width="0.5"/>
<line x1="25.3" y1="498.5" x2="25.3" y2="406.5" stroke="#808080" stroke-width="0.7"/>
<line x1="25.3" y1="498.5" x2="138.6" y2="534.4" stroke="#808080" stroke-width="0.7"/>
<line x1="138.6" y1="534.4" x2="219.4" y2="484.4" stroke="#808080" stroke-width="0.7"/>
<line x1="25.3" y1="498.5" x2="23.8" y2="498.5" stroke="#808080" stroke-width="0.6"/>
<text x="21.8" y="500.7" font-size="6.3" text-anchor="end" fill="#333" font-weight="bold" transform="translate(21.8 500.7) scale(0.50 1) translate(-21.8 -500.7)">-1</text>
<line x1="25.3" y1="480.1" x2="23.8" y2="480.1" stroke="#808080" stroke-width="0.6"/>
<text x="21.8" y="482.3" font-size="6.3" text-anchor="end" fill="#333" font-weight="bold" transform="translate(21.8 482.3) scale(0.50 1) translate(-21.8 -482.3)">-0.5</text>
<line x1="25.3" y1="461.7" x2="23.8" y2="461.7" stroke="#808080" stroke-width="0.6"/>
<text x="21.8" y="463.9" font-size="6.3" text-anchor="end" fill="#333" font-weight="bold" transform="translate(21.8 463.9) scale(0.50 1) translate(-21.8 -463.9)">0</text>
<line x1="25.3" y1="443.3" x2="23.8" y2="443.3" stroke="#808080" stroke-width="0.6"/>
<text x="21.8" y="445.5" font-size="6.3" text-anchor="end" fill="#333" font-weight="bold" transform="translate(21.8 445.5) scale(0.50 1) translate(-21.8 -445.5)">0.5</text>
<line x1="25.3" y1="424.9" x2="23.8" y2="424.9" stroke="#808080" stroke-width="0.6"/>
<text x="21.8" y="427.1" font-size="6.3" text-anchor="end" fill="#333" font-weight="bold" transform="translate(21.8 427.1) scale(0.50 1) translate(-21.8 -427.1)">1</text>
<line x1="25.3" y1="406.5" x2="23.8" y2="406.5" stroke="#808080" stroke-width="0.6"/>
<text x="21.8" y="408.7" font-size="6.3" text-anchor="end" fill="#333" font-weight="bold" transform="translate(21.8 408.7) scale(0.50 1) translate(-21.8 -408.7)">1.5</text>
<text x="18.3" y="507.3" font-size="6.3" text-anchor="middle" fill="#333" font-weight="bold" transform="translate(18.3 507.3) scale(0.50 1) translate(-18.3 -507.3)">1</text>
<text x="29.6" y="510.9" font-size="6.3" text-anchor="middle" fill="#333" font-weight="bold" transform="translate(29.6 510.9) scale(0.50 1) translate(-29.6 -510.9)">0.9</text>
<line x1="36.6" y1="502.1" x2="34.4" y2="503.5" stroke="#777" stroke-width="0.6"/>
<text x="41.0" y="514.5" font-size="6.3" text-anchor="middle" fill="#333" font-weight="bold" transform="translate(41.0 514.5) scale(0.50 1) translate(-41.0 -514.5)">0.8</text>
<line x1="48.0" y1="505.7" x2="45.7" y2="507.0" stroke="#777" stroke-width="0.6"/>
<text x="52.3" y="518.1" font-size="6.3" text-anchor="middle" fill="#333" font-weight="bold" transform="translate(52.3 518.1) scale(0.50 1) translate(-52.3 -518.1)">0.7</text>
<line x1="59.3" y1="509.3" x2="57.1" y2="510.6" stroke="#777" stroke-width="0.6"/>
<text x="63.6" y="521.7" font-size="6.3" text-anchor="middle" fill="#333" font-weight="bold" transform="translate(63.6 521.7) scale(0.50 1) translate(-63.6 -521.7)">0.6</text>
<line x1="70.6" y1="512.9" x2="68.4" y2="514.2" stroke="#777" stroke-width="0.6"/>
<text x="75.0" y="525.2" font-size="6.3" text-anchor="middle" fill="#333" font-weight="bold" transform="translate(75.0 525.2) scale(0.50 1) translate(-75.0 -525.2)">0.5</text>
<line x1="82.0" y1="516.5" x2="79.7" y2="517.8" stroke="#777" stroke-width="0.6"/>
<text x="86.3" y="528.8" font-size="6.3" text-anchor="middle" fill="#333" font-weight="bold" transform="translate(86.3 528.8) scale(0.50 1) translate(-86.3 -528.8)">0.4</text>
<line x1="93.3" y1="520.0" x2="91.1" y2="521.4" stroke="#777" stroke-width="0.6"/>
<text x="97.6" y="532.4" font-size="6.3" text-anchor="middle" fill="#333" font-weight="bold" transform="translate(97.6 532.4) scale(0.50 1) translate(-97.6 -532.4)">0.3</text>
<line x1="104.6" y1="523.6" x2="102.4" y2="525.0" stroke="#777" stroke-width="0.6"/>
<text x="108.9" y="536.0" font-size="6.3" text-anchor="middle" fill="#333" font-weight="bold" transform="translate(108.9 536.0) scale(0.50 1) translate(-108.9 -536.0)">0.2</text>
<line x1="115.9" y1="527.2" x2="113.7" y2="528.6" stroke="#777" stroke-width="0.6"/>
<text x="120.3" y="539.6" font-size="6.3" text-anchor="middle" fill="#333" font-weight="bold" transform="translate(120.3 539.6) scale(0.50 1) translate(-120.3 -539.6)">0.1</text>
<line x1="127.3" y1="530.8" x2="125.1" y2="532.2" stroke="#777" stroke-width="0.6"/>
<text x="131.6" y="543.2" font-size="6.3" text-anchor="middle" fill="#333" font-weight="bold" transform="translate(131.6 543.2) scale(0.50 1) translate(-131.6 -543.2)">0</text>
<text x="144.2" y="542.0" font-size="6.3" text-anchor="middle" fill="#333" font-weight="bold" transform="translate(144.2 542.0) scale(0.50 1) translate(-144.2 -542.0)">0</text>
<text x="160.4" y="532.0" font-size="6.3" text-anchor="middle" fill="#333" font-weight="bold" transform="translate(160.4 532.0) scale(0.50 1) translate(-160.4 -532.0)">0.2</text>
<line x1="154.8" y1="524.4" x2="157.2" y2="525.2" stroke="#777" stroke-width="0.6"/>
<text x="176.5" y="522.0" font-size="6.3" text-anchor="middle" fill="#333" font-weight="bold" transform="translate(176.5 522.0) scale(0.50 1) translate(-176.5 -522.0)">0.4</text>
<line x1="170.9" y1="514.4" x2="173.4" y2="515.2" stroke="#777" stroke-width="0.6"/>
<text x="192.7" y="512.0" font-size="6.3" text-anchor="middle" fill="#333" font-weight="bold" transform="translate(192.7 512.0) scale(0.50 1) translate(-192.7 -512.0)">0.6</text>
<line x1="187.1" y1="504.4" x2="189.6" y2="505.2" stroke="#777" stroke-width="0.6"/>
<text x="208.8" y="502.0" font-size="6.3" text-anchor="middle" fill="#333" font-weight="bold" transform="translate(208.8 502.0) scale(0.50 1) translate(-208.8 -502.0)">0.8</text>
<line x1="203.2" y1="494.4" x2="205.7" y2="495.2" stroke="#777" stroke-width="0.6"/>
<text x="225.0" y="492.0" font-size="6.3" text-anchor="middle" fill="#333" font-weight="bold" transform="translate(225.0 492.0) scale(0.50 1) translate(-225.0 -492.0)">1</text>
<text x="93.0" y="551.0" font-size="10.5" text-anchor="middle" fill="#222" font-weight="bold" font-weight="bold" transform="translate(93.0 551.0) scale(0.6 1) translate(-93.0 -551.0)">CO2</text>
<text x="177.0" y="548.0" font-size="10.5" text-anchor="middle" fill="#222" font-weight="bold" font-weight="bold" transform="translate(177.0 548.0) scale(0.6 1) translate(-177.0 -548.0)">PUN</text>
<defs><pattern id="m2f" patternUnits="userSpaceOnUse" width="100" height="100" patternTransform="matrix(0.0666 0.0211 0.0475 -0.0294 25.30 498.50)"><path d="M0 0V100M100 0V100M0 0H100M0 100H100" stroke="#000" stroke-opacity="0.55" stroke-width="12" fill="none"/></pattern><pattern id="m2u" patternUnits="userSpaceOnUse" width="100" height="100" patternTransform="matrix(0.0666 0.0211 0.0000 0.0500 25.30 498.50)"><path d="M0 0V100M100 0V100" stroke="#000" stroke-opacity="0.55" stroke-width="12" fill="none"/></pattern><pattern id="m2v" patternUnits="userSpaceOnUse" width="100" height="100" patternTransform="matrix(0.0475 -0.0294 0.0000 0.0500 25.30 498.50)"><path d="M0 0V100M100 0V100" stroke="#000" stroke-opacity="0.55" stroke-width="12" fill="none"/></pattern><pattern id="m2w" patternUnits="userSpaceOnUse" width="100" height="100" patternTransform="matrix(0.0666 0.0211 0.0000 0.0600 25.30 498.50)"><path d="M0 0V100M100 0V100M0 0H100M0 100H100" stroke="#000" stroke-opacity="0.55" stroke-width="12" fill="none"/></pattern></defs>
<polygon points="35.7,479.6 43.1,477.2 51.3,475.5 58.7,471.4 67.8,472.2 77.6,467.3 79.3,457.5 84.2,452.5 95.7,445.2 105.5,447.6 109.9,446.2 117.7,449.1 125.6,446.2 135.5,441.2 143.3,442.2 149.3,431.4 157.1,432.4 165.0,426.5 171.0,419.6 178.8,416.6 182.8,417.6 186.7,402.8 208.4,408.7 202.5,413.6 196.6,421.5 186.7,429.4 180.8,435.3 175.9,439.3 170.9,438.3 159.1,440.2 155.2,445.2 147.3,449.1 139.4,450.1 129.6,455.0 123.6,459.0 115.8,468.8 111.8,472.8 100.0,476.7 84.2,481.3 76.0,484.6 59.6,482.9 46.4,482.1" fill="#0620f2" stroke="#0620f2" stroke-width="0.6" stroke-linejoin="round"/>
<polygon points="35.7,479.6 43.1,477.2 51.3,475.5 58.7,471.4 67.8,472.2 77.6,467.3 79.3,457.5 84.2,452.5 95.7,445.2 105.5,447.6 109.9,446.2 117.7,449.1 125.6,446.2 135.5,441.2 143.3,442.2 149.3,431.4 157.1,432.4 165.0,426.5 171.0,419.6 178.8,416.6 182.8,417.6 186.7,402.8 208.4,408.7 202.5,413.6 196.6,421.5 186.7,429.4 180.8,435.3 175.9,439.3 170.9,438.3 159.1,440.2 155.2,445.2 147.3,449.1 139.4,450.1 129.6,455.0 123.6,459.0 115.8,468.8 111.8,472.8 100.0,476.7 84.2,481.3 76.0,484.6 59.6,482.9 46.4,482.1" fill="url(#m2f)"/>
<polygon points="48.0,478.0 60.0,474.0 70.0,473.0 80.0,465.0 88.0,452.0 96.0,448.0 106.0,450.0 118.0,452.0 128.0,450.0 140.0,445.0 150.0,438.0 158.0,436.0 145.0,446.0 130.0,452.0 120.0,458.0 112.0,468.0 100.0,474.0 84.0,479.0 70.0,481.0" fill="#0414d8" stroke="#0414d8" stroke-width="0.6" stroke-linejoin="round"/>
<polygon points="48.0,478.0 60.0,474.0 70.0,473.0 80.0,465.0 88.0,452.0 96.0,448.0 106.0,450.0 118.0,452.0 128.0,450.0 140.0,445.0 150.0,438.0 158.0,436.0 145.0,446.0 130.0,452.0 120.0,458.0 112.0,468.0 100.0,474.0 84.0,479.0 70.0,481.0" fill="url(#m2f)"/>
<polygon points="35.7,479.6 46.4,478.8 59.6,479.3 76.0,480.5 84.2,478.5 84.2,481.3 76.0,484.6 59.6,482.9 46.4,482.1" fill="#1a86ff" stroke="#1a86ff" stroke-width="0.6" stroke-linejoin="round"/>
<polygon points="35.7,479.6 46.4,478.8 59.6,479.3 76.0,480.5 84.2,478.5 84.2,481.3 76.0,484.6 59.6,482.9 46.4,482.1" fill="url(#m2f)"/>
<polygon points="157.1,441.2 161.1,439.3 174.9,438.3 169.0,444.2 161.1,449.1 155.2,449.1" fill="#e81a0a" stroke="#e81a0a" stroke-width="0.6" stroke-linejoin="round"/>
<polygon points="157.1,441.2 161.1,439.3 174.9,438.3 169.0,444.2 161.1,449.1 155.2,449.1" fill="url(#m2f)"/>
<polygon points="129.6,455.0 139.4,450.1 147.3,449.1 155.2,445.2 155.2,449.1 161.1,449.1 165.0,449.1 157.1,455.0 149.3,462.9 145.3,468.8 129.6,464.9 119.7,462.9 123.6,459.0" fill="#ff9a10" stroke="#ff9a10" stroke-width="0.6" stroke-linejoin="round"/>
<polygon points="129.6,455.0 139.4,450.1 147.3,449.1 155.2,445.2 155.2,449.1 161.1,449.1 165.0,449.1 157.1,455.0 149.3,462.9 145.3,468.8 129.6,464.9 119.7,462.9 123.6,459.0" fill="url(#m2f)"/>
<polygon points="115.8,464.9 119.7,462.9 129.6,464.9 145.3,468.8 143.3,474.7 137.4,480.6 129.6,477.7 121.7,476.7 111.8,474.7 111.8,472.8" fill="#f6ee10" stroke="#f6ee10" stroke-width="0.6" stroke-linejoin="round"/>
<polygon points="115.8,464.9 119.7,462.9 129.6,464.9 145.3,468.8 143.3,474.7 137.4,480.6 129.6,477.7 121.7,476.7 111.8,474.7 111.8,472.8" fill="url(#m2f)"/>
<polygon points="100.0,476.7 111.8,472.8 111.8,474.7 121.7,476.7 111.8,477.7 100.0,478.7 92.0,479.5" fill="#b8f060" stroke="#b8f060" stroke-width="0.6" stroke-linejoin="round"/>
<polygon points="100.0,476.7 111.8,472.8 111.8,474.7 121.7,476.7 111.8,477.7 100.0,478.7 92.0,479.5" fill="url(#m2f)"/>
<rect x="225.8" y="357.1" width="5.199999999999989" height="177.5" fill="url(#jet)"/>
<line x1="231.0" y1="364.2" x2="232.0" y2="364.2" stroke="#808080" stroke-width="0.5"/>
<text x="232.6" y="366.3" font-size="6.2" text-anchor="start" fill="#333" font-weight="bold" transform="translate(232.6 366.3) scale(0.46 1) translate(-232.6 -366.3)">1</text>
<line x1="231.0" y1="382.2" x2="232.0" y2="382.2" stroke="#808080" stroke-width="0.5"/>
<text x="232.6" y="384.3" font-size="6.2" text-anchor="start" fill="#333" font-weight="bold" transform="translate(232.6 384.3) scale(0.46 1) translate(-232.6 -384.3)">0.8</text>
<line x1="231.0" y1="400.8" x2="232.0" y2="400.8" stroke="#808080" stroke-width="0.5"/>
<text x="232.6" y="402.9" font-size="6.2" text-anchor="start" fill="#333" font-weight="bold" transform="translate(232.6 402.9) scale(0.46 1) translate(-232.6 -402.9)">0.6</text>
<line x1="231.0" y1="419.3" x2="232.0" y2="419.3" stroke="#808080" stroke-width="0.5"/>
<text x="232.6" y="421.4" font-size="6.2" text-anchor="start" fill="#333" font-weight="bold" transform="translate(232.6 421.4) scale(0.46 1) translate(-232.6 -421.4)">0.4</text>
<line x1="231.0" y1="437.8" x2="232.0" y2="437.8" stroke="#808080" stroke-width="0.5"/>
<text x="232.6" y="439.9" font-size="6.2" text-anchor="start" fill="#333" font-weight="bold" transform="translate(232.6 439.9) scale(0.46 1) translate(-232.6 -439.9)">0.2</text>
<line x1="231.0" y1="456.2" x2="232.0" y2="456.2" stroke="#808080" stroke-width="0.5"/>
<text x="232.6" y="458.3" font-size="6.2" text-anchor="start" fill="#333" font-weight="bold" transform="translate(232.6 458.3) scale(0.46 1) translate(-232.6 -458.3)">0</text>
<line x1="231.0" y1="474.7" x2="232.0" y2="474.7" stroke="#808080" stroke-width="0.5"/>
<text x="232.6" y="476.8" font-size="6.2" text-anchor="start" fill="#333" font-weight="bold" transform="translate(232.6 476.8) scale(0.46 1) translate(-232.6 -476.8)">-0.2</text>
<line x1="231.0" y1="493.2" x2="232.0" y2="493.2" stroke="#808080" stroke-width="0.5"/>
<text x="232.6" y="495.3" font-size="6.2" text-anchor="start" fill="#333" font-weight="bold" transform="translate(232.6 495.3) scale(0.46 1) translate(-232.6 -495.3)">-0.4</text>
<line x1="231.0" y1="511.6" x2="232.0" y2="511.6" stroke="#808080" stroke-width="0.5"/>
<text x="232.6" y="513.7" font-size="6.2" text-anchor="start" fill="#333" font-weight="bold" transform="translate(232.6 513.7) scale(0.46 1) translate(-232.6 -513.7)">-0.6</text>
<line x1="231.0" y1="530.1" x2="232.0" y2="530.1" stroke="#808080" stroke-width="0.5"/>
<text x="232.6" y="532.2" font-size="6.2" text-anchor="start" fill="#333" font-weight="bold" transform="translate(232.6 532.2) scale(0.46 1) translate(-232.6 -532.2)">-0.8</text>
<line x1="337.5" y1="462.8" x2="463.2" y2="492.3" stroke="#ececec" stroke-width="0.5"/>
<line x1="357.1" y1="455.1" x2="482.8" y2="484.6" stroke="#ececec" stroke-width="0.5"/>
<line x1="376.8" y1="447.3" x2="502.5" y2="476.8" stroke="#ececec" stroke-width="0.5"/>
<line x1="396.4" y1="439.6" x2="522.1" y2="469.1" stroke="#ececec" stroke-width="0.5"/>
<line x1="330.4" y1="473.4" x2="428.7" y2="434.8" stroke="#ececec" stroke-width="0.5"/>
<line x1="342.9" y1="476.4" x2="441.2" y2="437.8" stroke="#ececec" stroke-width="0.5"/>
<line x1="355.5" y1="479.4" x2="453.8" y2="440.8" stroke="#ececec" stroke-width="0.5"/>
<line x1="368.1" y1="482.3" x2="466.4" y2="443.7" stroke="#ececec" stroke-width="0.5"/>
<line x1="380.6" y1="485.2" x2="478.9" y2="446.6" stroke="#ececec" stroke-width="0.5"/>
<line x1="393.2" y1="488.2" x2="491.5" y2="449.6" stroke="#ececec" stroke-width="0.5"/>
<line x1="405.8" y1="491.1" x2="504.1" y2="452.5" stroke="#ececec" stroke-width="0.5"/>
<line x1="418.4" y1="494.1" x2="516.7" y2="455.5" stroke="#ececec" stroke-width="0.5"/>
<line x1="430.9" y1="497.1" x2="529.2" y2="458.4" stroke="#ececec" stroke-width="0.5"/>
<line x1="317.8" y1="470.5" x2="317.8" y2="361.0" stroke="#ececec" stroke-width="0.5"/>
<line x1="337.5" y1="462.8" x2="337.5" y2="353.3" stroke="#ececec" stroke-width="0.5"/>
<line x1="357.1" y1="455.1" x2="357.1" y2="345.6" stroke="#ececec" stroke-width="0.5"/>
<line x1="376.8" y1="447.3" x2="376.8" y2="337.8" stroke="#ececec" stroke-width="0.5"/>
<line x1="396.4" y1="439.6" x2="396.4" y2="330.1" stroke="#ececec" stroke-width="0.5"/>
<line x1="416.1" y1="431.9" x2="416.1" y2="322.4" stroke="#ececec" stroke-width="0.5"/>
<line x1="317.8" y1="470.5" x2="416.1" y2="431.9" stroke="#ececec" stroke-width="0.5"/>
<line x1="317.8" y1="454.9" x2="416.1" y2="416.3" stroke="#ececec" stroke-width="0.5"/>
<line x1="317.8" y1="439.2" x2="416.1" y2="400.6" stroke="#ececec" stroke-width="0.5"/>
<line x1="317.8" y1="423.6" x2="416.1" y2="385.0" stroke="#ececec" stroke-width="0.5"/>
<line x1="317.8" y1="407.9" x2="416.1" y2="369.3" stroke="#ececec" stroke-width="0.5"/>
<line x1="317.8" y1="392.3" x2="416.1" y2="353.7" stroke="#ececec" stroke-width="0.5"/>
<line x1="317.8" y1="376.6" x2="416.1" y2="338.0" stroke="#ececec" stroke-width="0.5"/>
<line x1="317.8" y1="361.0" x2="416.1" y2="322.4" stroke="#ececec" stroke-width="0.5"/>
<line x1="416.1" y1="431.9" x2="416.1" y2="322.4" stroke="#ececec" stroke-width="0.5"/>
<line x1="428.7" y1="434.8" x2="428.7" y2="325.3" stroke="#ececec" stroke-width="0.5"/>
<line x1="441.2" y1="437.8" x2="441.2" y2="328.3" stroke="#ececec" stroke-width="0.5"/>
<line x1="453.8" y1="440.8" x2="453.8" y2="331.2" stroke="#ececec" stroke-width="0.5"/>
<line x1="466.4" y1="443.7" x2="466.4" y2="334.2" stroke="#ececec" stroke-width="0.5"/>
<line x1="478.9" y1="446.6" x2="478.9" y2="337.1" stroke="#ececec" stroke-width="0.5"/>
<line x1="491.5" y1="449.6" x2="491.5" y2="340.1" stroke="#ececec" stroke-width="0.5"/>
<line x1="504.1" y1="452.5" x2="504.1" y2="343.0" stroke="#ececec" stroke-width="0.5"/>
<line x1="516.7" y1="455.5" x2="516.7" y2="346.0" stroke="#ececec" stroke-width="0.5"/>
<line x1="529.2" y1="458.4" x2="529.2" y2="348.9" stroke="#ececec" stroke-width="0.5"/>
<line x1="541.8" y1="461.4" x2="541.8" y2="351.9" stroke="#ececec" stroke-width="0.5"/>
<line x1="416.1" y1="431.9" x2="541.8" y2="461.4" stroke="#ececec" stroke-width="0.5"/>
<line x1="416.1" y1="416.3" x2="541.8" y2="445.8" stroke="#ececec" stroke-width="0.5"/>
<line x1="416.1" y1="400.6" x2="541.8" y2="430.1" stroke="#ececec" stroke-width="0.5"/>
<line x1="416.1" y1="385.0" x2="541.8" y2="414.5" stroke="#ececec" stroke-width="0.5"/>
<line x1="416.1" y1="369.3" x2="541.8" y2="398.8" stroke="#ececec" stroke-width="0.5"/>
<line x1="416.1" y1="353.7" x2="541.8" y2="383.2" stroke="#ececec" stroke-width="0.5"/>
<line x1="416.1" y1="338.0" x2="541.8" y2="367.5" stroke="#ececec" stroke-width="0.5"/>
<line x1="416.1" y1="322.4" x2="541.8" y2="351.9" stroke="#ececec" stroke-width="0.5"/>
<line x1="317.8" y1="470.5" x2="317.8" y2="361.0" stroke="#808080" stroke-width="0.7"/>
<line x1="317.8" y1="470.5" x2="443.5" y2="500.0" stroke="#808080" stroke-width="0.7"/>
<line x1="443.5" y1="500.0" x2="541.8" y2="461.4" stroke="#808080" stroke-width="0.7"/>
<line x1="317.8" y1="470.5" x2="316.3" y2="470.5" stroke="#808080" stroke-width="0.6"/>
<text x="314.3" y="472.7" font-size="6.3" text-anchor="end" fill="#333" font-weight="bold" transform="translate(314.3 472.7) scale(0.50 1) translate(-314.3 -472.7)">-4</text>
<line x1="317.8" y1="454.9" x2="316.3" y2="454.9" stroke="#808080" stroke-width="0.6"/>
<text x="314.3" y="457.1" font-size="6.3" text-anchor="end" fill="#333" font-weight="bold" transform="translate(314.3 457.1) scale(0.50 1) translate(-314.3 -457.1)">-3</text>
<line x1="317.8" y1="439.2" x2="316.3" y2="439.2" stroke="#808080" stroke-width="0.6"/>
<text x="314.3" y="441.4" font-size="6.3" text-anchor="end" fill="#333" font-weight="bold" transform="translate(314.3 441.4) scale(0.50 1) translate(-314.3 -441.4)">-2</text>
<line x1="317.8" y1="423.6" x2="316.3" y2="423.6" stroke="#808080" stroke-width="0.6"/>
<text x="314.3" y="425.8" font-size="6.3" text-anchor="end" fill="#333" font-weight="bold" transform="translate(314.3 425.8) scale(0.50 1) translate(-314.3 -425.8)">-1</text>
<line x1="317.8" y1="407.9" x2="316.3" y2="407.9" stroke="#808080" stroke-width="0.6"/>
<text x="314.3" y="410.1" font-size="6.3" text-anchor="end" fill="#333" font-weight="bold" transform="translate(314.3 410.1) scale(0.50 1) translate(-314.3 -410.1)">0</text>
<line x1="317.8" y1="392.3" x2="316.3" y2="392.3" stroke="#808080" stroke-width="0.6"/>
<text x="314.3" y="394.5" font-size="6.3" text-anchor="end" fill="#333" font-weight="bold" transform="translate(314.3 394.5) scale(0.50 1) translate(-314.3 -394.5)">1</text>
<line x1="317.8" y1="376.6" x2="316.3" y2="376.6" stroke="#808080" stroke-width="0.6"/>
<text x="314.3" y="378.8" font-size="6.3" text-anchor="end" fill="#333" font-weight="bold" transform="translate(314.3 378.8) scale(0.50 1) translate(-314.3 -378.8)">2</text>
<line x1="317.8" y1="361.0" x2="316.3" y2="361.0" stroke="#808080" stroke-width="0.6"/>
<text x="314.3" y="363.2" font-size="6.3" text-anchor="end" fill="#333" font-weight="bold" transform="translate(314.3 363.2) scale(0.50 1) translate(-314.3 -363.2)">3</text>
<text x="310.8" y="479.3" font-size="6.3" text-anchor="middle" fill="#333" font-weight="bold" transform="translate(310.8 479.3) scale(0.50 1) translate(-310.8 -479.3)">1</text>
<text x="323.4" y="482.2" font-size="6.3" text-anchor="middle" fill="#333" font-weight="bold" transform="translate(323.4 482.2) scale(0.50 1) translate(-323.4 -482.2)">0.9</text>
<line x1="330.4" y1="473.4" x2="327.9" y2="474.4" stroke="#777" stroke-width="0.6"/>
<text x="335.9" y="485.2" font-size="6.3" text-anchor="middle" fill="#333" font-weight="bold" transform="translate(335.9 485.2) scale(0.50 1) translate(-335.9 -485.2)">0.8</text>
<line x1="342.9" y1="476.4" x2="340.5" y2="477.4" stroke="#777" stroke-width="0.6"/>
<text x="348.5" y="488.2" font-size="6.3" text-anchor="middle" fill="#333" font-weight="bold" transform="translate(348.5 488.2) scale(0.50 1) translate(-348.5 -488.2)">0.7</text>
<line x1="355.5" y1="479.4" x2="353.1" y2="480.3" stroke="#777" stroke-width="0.6"/>
<text x="361.1" y="491.1" font-size="6.3" text-anchor="middle" fill="#333" font-weight="bold" transform="translate(361.1 491.1) scale(0.50 1) translate(-361.1 -491.1)">0.6</text>
<line x1="368.1" y1="482.3" x2="365.7" y2="483.3" stroke="#777" stroke-width="0.6"/>
<text x="373.6" y="494.1" font-size="6.3" text-anchor="middle" fill="#333" font-weight="bold" transform="translate(373.6 494.1) scale(0.50 1) translate(-373.6 -494.1)">0.5</text>
<line x1="380.6" y1="485.2" x2="378.2" y2="486.2" stroke="#777" stroke-width="0.6"/>
<text x="386.2" y="497.0" font-size="6.3" text-anchor="middle" fill="#333" font-weight="bold" transform="translate(386.2 497.0) scale(0.50 1) translate(-386.2 -497.0)">0.4</text>
<line x1="393.2" y1="488.2" x2="390.8" y2="489.2" stroke="#777" stroke-width="0.6"/>
<text x="398.8" y="499.9" font-size="6.3" text-anchor="middle" fill="#333" font-weight="bold" transform="translate(398.8 499.9) scale(0.50 1) translate(-398.8 -499.9)">0.3</text>
<line x1="405.8" y1="491.1" x2="403.4" y2="492.1" stroke="#777" stroke-width="0.6"/>
<text x="411.4" y="502.9" font-size="6.3" text-anchor="middle" fill="#333" font-weight="bold" transform="translate(411.4 502.9) scale(0.50 1) translate(-411.4 -502.9)">0.2</text>
<line x1="418.4" y1="494.1" x2="415.9" y2="495.1" stroke="#777" stroke-width="0.6"/>
<text x="423.9" y="505.9" font-size="6.3" text-anchor="middle" fill="#333" font-weight="bold" transform="translate(423.9 505.9) scale(0.50 1) translate(-423.9 -505.9)">0.1</text>
<line x1="430.9" y1="497.1" x2="428.5" y2="498.0" stroke="#777" stroke-width="0.6"/>
<text x="436.5" y="508.8" font-size="6.3" text-anchor="middle" fill="#333" font-weight="bold" transform="translate(436.5 508.8) scale(0.50 1) translate(-436.5 -508.8)">0</text>
<text x="449.1" y="507.6" font-size="6.3" text-anchor="middle" fill="#333" font-weight="bold" transform="translate(449.1 507.6) scale(0.50 1) translate(-449.1 -507.6)">0</text>
<text x="468.8" y="499.9" font-size="6.3" text-anchor="middle" fill="#333" font-weight="bold" transform="translate(468.8 499.9) scale(0.50 1) translate(-468.8 -499.9)">0.2</text>
<line x1="463.2" y1="492.3" x2="465.7" y2="492.9" stroke="#777" stroke-width="0.6"/>
<text x="488.4" y="492.2" font-size="6.3" text-anchor="middle" fill="#333" font-weight="bold" transform="translate(488.4 492.2) scale(0.50 1) translate(-488.4 -492.2)">0.4</text>
<line x1="482.8" y1="484.6" x2="485.4" y2="485.2" stroke="#777" stroke-width="0.6"/>
<text x="508.1" y="484.4" font-size="6.3" text-anchor="middle" fill="#333" font-weight="bold" transform="translate(508.1 484.4) scale(0.50 1) translate(-508.1 -484.4)">0.6</text>
<line x1="502.5" y1="476.8" x2="505.0" y2="477.4" stroke="#777" stroke-width="0.6"/>
<text x="527.7" y="476.7" font-size="6.3" text-anchor="middle" fill="#333" font-weight="bold" transform="translate(527.7 476.7) scale(0.50 1) translate(-527.7 -476.7)">0.8</text>
<line x1="522.1" y1="469.1" x2="524.7" y2="469.7" stroke="#777" stroke-width="0.6"/>
<text x="547.4" y="469.0" font-size="6.3" text-anchor="middle" fill="#333" font-weight="bold" transform="translate(547.4 469.0) scale(0.50 1) translate(-547.4 -469.0)">1</text>
<text x="394.2" y="518.0" font-size="10.5" text-anchor="middle" fill="#222" font-weight="bold" font-weight="bold" transform="translate(394.2 518.0) scale(0.6 1) translate(-394.2 -518.0)">CO2</text>
<text x="488.5" y="515.0" font-size="10.5" text-anchor="middle" fill="#222" font-weight="bold" font-weight="bold" transform="translate(488.5 515.0) scale(0.6 1) translate(-488.5 -515.0)">PUN</text>
<defs><pattern id="m3f" patternUnits="userSpaceOnUse" width="100" height="100" patternTransform="matrix(0.0739 0.0174 0.0578 -0.0227 317.80 470.50)"><path d="M0 0V100M100 0V100M0 0H100M0 100H100" stroke="#000" stroke-opacity="0.55" stroke-width="12" fill="none"/></pattern><pattern id="m3u" patternUnits="userSpaceOnUse" width="100" height="100" patternTransform="matrix(0.0739 0.0174 0.0000 0.0500 317.80 470.50)"><path d="M0 0V100M100 0V100" stroke="#000" stroke-opacity="0.55" stroke-width="12" fill="none"/></pattern><pattern id="m3v" patternUnits="userSpaceOnUse" width="100" height="100" patternTransform="matrix(0.0578 -0.0227 0.0000 0.0500 317.80 470.50)"><path d="M0 0V100M100 0V100" stroke="#000" stroke-opacity="0.55" stroke-width="12" fill="none"/></pattern><pattern id="m3w" patternUnits="userSpaceOnUse" width="100" height="100" patternTransform="matrix(0.0739 0.0174 0.0000 0.0600 317.80 470.50)"><path d="M0 0V100M100 0V100M0 0H100M0 100H100" stroke="#000" stroke-opacity="0.55" stroke-width="12" fill="none"/></pattern></defs>
<polygon points="329.6,411.0 361.7,398.0 383.1,391.0 417.3,379.2 446.2,389.7 456.7,401.5 467.2,406.8 448.8,408.1 430.4,409.4 425.2,401.5 417.3,397.6 409.4,398.9 401.5,396.3 391.0,398.9 388.4,401.5 383.8,403.6 376.4,407.3 366.6,407.3 362.9,412.2 354.3,414.7" fill="#b8f060" stroke="#b8f060" stroke-width="0.6" stroke-linejoin="round"/>
<polygon points="329.6,411.0 361.7,398.0 383.1,391.0 417.3,379.2 446.2,389.7 456.7,401.5 467.2,406.8 448.8,408.1 430.4,409.4 425.2,401.5 417.3,397.6 409.4,398.9 401.5,396.3 391.0,398.9 388.4,401.5 383.8,403.6 376.4,407.3 366.6,407.3 362.9,412.2 354.3,414.7" fill="url(#m3f)"/>
<polygon points="366.6,381.4 380.1,383.4 383.8,393.7 378.9,401.1 364.1,411.0 361.7,411.0" fill="#9c0404" stroke="#9c0404" stroke-width="0.6" stroke-linejoin="round"/>
<polygon points="366.6,381.4 380.1,383.4 383.8,393.7 378.9,401.1 364.1,411.0 361.7,411.0" fill="url(#m3u)"/>
<polygon points="366.6,407.3 378.9,398.7 383.8,403.6 376.4,407.3" fill="#ff9a10" stroke="#ff9a10" stroke-width="0.6" stroke-linejoin="round"/>
<polygon points="366.6,407.3 378.9,398.7 383.8,403.6 376.4,407.3" fill="url(#m3f)"/>
<polygon points="381.4,386.4 391.0,398.9 388.4,430.4 385.8,430.4 383.0,395.0" fill="#86f4a6" stroke="#86f4a6" stroke-width="0.6" stroke-linejoin="round"/>
<polygon points="381.4,386.4 391.0,398.9 388.4,430.4 385.8,430.4 383.0,395.0" fill="url(#m3u)"/>
<polygon points="414.7,380.5 430.0,385.0 446.2,389.7 456.7,401.5 467.2,406.8 448.8,408.1 430.4,409.4 425.2,401.5 417.3,397.6 412.0,392.0" fill="#5ef2e0" stroke="#5ef2e0" stroke-width="0.6" stroke-linejoin="round"/>
<polygon points="414.7,380.5 430.0,385.0 446.2,389.7 456.7,401.5 467.2,406.8 448.8,408.1 430.4,409.4 425.2,401.5 417.3,397.6 412.0,392.0" fill="url(#m3f)"/>
<polygon points="430.4,396.3 440.0,395.0 451.5,400.0 448.0,405.5 432.0,405.0" fill="#2ee4f2" stroke="#2ee4f2" stroke-width="0.6" stroke-linejoin="round"/>
<polygon points="430.4,396.3 440.0,395.0 451.5,400.0 448.0,405.5 432.0,405.0" fill="url(#m3f)"/>
<polygon points="391.0,398.9 401.5,396.3 409.4,398.9 417.3,397.6 425.2,401.5 430.4,409.4 448.8,408.1 469.8,408.1 488.2,410.7 501.4,409.4 511.9,408.1 515.8,385.8 530.0,383.1 522.4,391.0 521.1,414.7 511.9,417.3 496.1,422.5 480.4,429.1 469.8,438.3 456.7,448.8 448.8,456.7 446.2,469.8 435.7,477.7 430.4,481.7 412.0,476.4 405.5,433.1 387.1,430.4 388.4,401.5" fill="#0620f2" stroke="#0620f2" stroke-width="0.6" stroke-linejoin="round"/>
<polygon points="391.0,398.9 401.5,396.3 409.4,398.9 417.3,397.6 425.2,401.5 430.4,409.4 448.8,408.1 469.8,408.1 488.2,410.7 501.4,409.4 511.9,408.1 515.8,385.8 530.0,383.1 522.4,391.0 521.1,414.7 511.9,417.3 496.1,422.5 480.4,429.1 469.8,438.3 456.7,448.8 448.8,456.7 446.2,469.8 435.7,477.7 430.4,481.7 412.0,476.4 405.5,433.1 387.1,430.4 388.4,401.5" fill="url(#m3f)"/>
<polygon points="440.0,414.0 470.0,410.5 500.0,411.5 512.0,410.0 511.9,417.3 496.1,422.5 480.4,429.1 469.8,438.3 456.7,448.8 448.8,456.7 446.0,440.0 440.0,425.0" fill="#0414d8" stroke="#0414d8" stroke-width="0.6" stroke-linejoin="round"/>
<polygon points="440.0,414.0 470.0,410.5 500.0,411.5 512.0,410.0 511.9,417.3 496.1,422.5 480.4,429.1 469.8,438.3 456.7,448.8 448.8,456.7 446.0,440.0 440.0,425.0" fill="url(#m3f)"/>
<polygon points="391.0,398.9 401.5,396.3 409.4,398.9 417.3,397.6 425.2,401.5 430.4,409.4 440.0,420.0 446.2,469.8 435.7,477.7 430.4,481.7 412.0,476.4 405.5,433.1 387.1,430.4 388.4,401.5" fill="#0620f2" stroke="#0620f2" stroke-width="0.6" stroke-linejoin="round"/>
<polygon points="391.0,398.9 401.5,396.3 409.4,398.9 417.3,397.6 425.2,401.5 430.4,409.4 440.0,420.0 446.2,469.8 435.7,477.7 430.4,481.7 412.0,476.4 405.5,433.1 387.1,430.4 388.4,401.5" fill="url(#m3w)"/>
<rect x="551.1" y="321.8" width="5.899999999999977" height="177.89999999999998" fill="url(#jet)"/>
<line x1="557.0" y1="331.0" x2="558.0" y2="331.0" stroke="#808080" stroke-width="0.5"/>
<text x="558.6" y="333.1" font-size="6.2" text-anchor="start" fill="#333" font-weight="bold" transform="translate(558.6 333.1) scale(0.46 1) translate(-558.6 -333.1)">2</text>
<line x1="557.0" y1="347.0" x2="558.0" y2="347.0" stroke="#808080" stroke-width="0.5"/>
<text x="558.6" y="349.1" font-size="6.2" text-anchor="start" fill="#333" font-weight="bold" transform="translate(558.6 349.1) scale(0.46 1) translate(-558.6 -349.1)">1.5</text>
<line x1="557.0" y1="362.8" x2="558.0" y2="362.8" stroke="#808080" stroke-width="0.5"/>
<text x="558.6" y="364.9" font-size="6.2" text-anchor="start" fill="#333" font-weight="bold" transform="translate(558.6 364.9) scale(0.46 1) translate(-558.6 -364.9)">1</text>
<line x1="557.0" y1="378.8" x2="558.0" y2="378.8" stroke="#808080" stroke-width="0.5"/>
<text x="558.6" y="380.9" font-size="6.2" text-anchor="start" fill="#333" font-weight="bold" transform="translate(558.6 380.9) scale(0.46 1) translate(-558.6 -380.9)">0.5</text>
<line x1="557.0" y1="394.6" x2="558.0" y2="394.6" stroke="#808080" stroke-width="0.5"/>
<text x="558.6" y="396.7" font-size="6.2" text-anchor="start" fill="#333" font-weight="bold" transform="translate(558.6 396.7) scale(0.46 1) translate(-558.6 -396.7)">0</text>
<line x1="557.0" y1="410.5" x2="558.0" y2="410.5" stroke="#808080" stroke-width="0.5"/>
<text x="558.6" y="412.6" font-size="6.2" text-anchor="start" fill="#333" font-weight="bold" transform="translate(558.6 412.6) scale(0.46 1) translate(-558.6 -412.6)">-0.5</text>
<line x1="557.0" y1="426.3" x2="558.0" y2="426.3" stroke="#808080" stroke-width="0.5"/>
<text x="558.6" y="428.4" font-size="6.2" text-anchor="start" fill="#333" font-weight="bold" transform="translate(558.6 428.4) scale(0.46 1) translate(-558.6 -428.4)">-1</text>
<line x1="557.0" y1="442.2" x2="558.0" y2="442.2" stroke="#808080" stroke-width="0.5"/>
<text x="558.6" y="444.3" font-size="6.2" text-anchor="start" fill="#333" font-weight="bold" transform="translate(558.6 444.3) scale(0.46 1) translate(-558.6 -444.3)">-1.5</text>
<line x1="557.0" y1="458.0" x2="558.0" y2="458.0" stroke="#808080" stroke-width="0.5"/>
<text x="558.6" y="460.1" font-size="6.2" text-anchor="start" fill="#333" font-weight="bold" transform="translate(558.6 460.1) scale(0.46 1) translate(-558.6 -460.1)">-2</text>
<line x1="557.0" y1="474.0" x2="558.0" y2="474.0" stroke="#808080" stroke-width="0.5"/>
<text x="558.6" y="476.1" font-size="6.2" text-anchor="start" fill="#333" font-weight="bold" transform="translate(558.6 476.1) scale(0.46 1) translate(-558.6 -476.1)">-2.5</text>
<line x1="557.0" y1="490.0" x2="558.0" y2="490.0" stroke="#808080" stroke-width="0.5"/>
<text x="558.6" y="492.1" font-size="6.2" text-anchor="start" fill="#333" font-weight="bold" transform="translate(558.6 492.1) scale(0.46 1) translate(-558.6 -492.1)">-3</text>
<line x1="47.8" y1="721.6" x2="160.4" y2="758.6" stroke="#ececec" stroke-width="0.5"/>
<line x1="60.5" y1="708.6" x2="173.1" y2="745.6" stroke="#ececec" stroke-width="0.5"/>
<line x1="73.1" y1="695.7" x2="185.7" y2="732.7" stroke="#ececec" stroke-width="0.5"/>
<line x1="85.8" y1="682.7" x2="198.4" y2="719.7" stroke="#ececec" stroke-width="0.5"/>
<line x1="46.5" y1="738.2" x2="109.7" y2="673.5" stroke="#ececec" stroke-width="0.5"/>
<line x1="57.7" y1="741.9" x2="120.9" y2="677.2" stroke="#ececec" stroke-width="0.5"/>
<line x1="69.0" y1="745.6" x2="132.2" y2="680.9" stroke="#ececec" stroke-width="0.5"/>
<line x1="80.2" y1="749.3" x2="143.4" y2="684.6" stroke="#ececec" stroke-width="0.5"/>
<line x1="91.5" y1="753.0" x2="154.7" y2="688.3" stroke="#ececec" stroke-width="0.5"/>
<line x1="102.8" y1="756.7" x2="166.0" y2="692.0" stroke="#ececec" stroke-width="0.5"/>
<line x1="114.0" y1="760.4" x2="177.2" y2="695.7" stroke="#ececec" stroke-width="0.5"/>
<line x1="125.3" y1="764.1" x2="188.5" y2="699.4" stroke="#ececec" stroke-width="0.5"/>
<line x1="136.5" y1="767.8" x2="199.7" y2="703.1" stroke="#ececec" stroke-width="0.5"/>
<line x1="35.2" y1="734.5" x2="35.2" y2="670.1" stroke="#ececec" stroke-width="0.5"/>
<line x1="47.8" y1="721.6" x2="47.8" y2="657.2" stroke="#ececec" stroke-width="0.5"/>
<line x1="60.5" y1="708.6" x2="60.5" y2="644.2" stroke="#ececec" stroke-width="0.5"/>
<line x1="73.1" y1="695.7" x2="73.1" y2="631.3" stroke="#ececec" stroke-width="0.5"/>
<line x1="85.8" y1="682.7" x2="85.8" y2="618.3" stroke="#ececec" stroke-width="0.5"/>
<line x1="98.4" y1="669.8" x2="98.4" y2="605.4" stroke="#ececec" stroke-width="0.5"/>
<line x1="35.2" y1="734.5" x2="98.4" y2="669.8" stroke="#ececec" stroke-width="0.5"/>
<line x1="35.2" y1="718.4" x2="98.4" y2="653.7" stroke="#ececec" stroke-width="0.5"/>
<line x1="35.2" y1="702.3" x2="98.4" y2="637.6" stroke="#ececec" stroke-width="0.5"/>
<line x1="35.2" y1="686.2" x2="98.4" y2="621.5" stroke="#ececec" stroke-width="0.5"/>
<line x1="35.2" y1="670.1" x2="98.4" y2="605.4" stroke="#ececec" stroke-width="0.5"/>
<line x1="98.4" y1="669.8" x2="98.4" y2="605.4" stroke="#ececec" stroke-width="0.5"/>
<line x1="109.7" y1="673.5" x2="109.7" y2="609.1" stroke="#ececec" stroke-width="0.5"/>
<line x1="120.9" y1="677.2" x2="120.9" y2="612.8" stroke="#ececec" stroke-width="0.5"/>
<line x1="132.2" y1="680.9" x2="132.2" y2="616.5" stroke="#ececec" stroke-width="0.5"/>
<line x1="143.4" y1="684.6" x2="143.4" y2="620.2" stroke="#ececec" stroke-width="0.5"/>
<line x1="154.7" y1="688.3" x2="154.7" y2="623.9" stroke="#ececec" stroke-width="0.5"/>
<line x1="166.0" y1="692.0" x2="166.0" y2="627.6" stroke="#ececec" stroke-width="0.5"/>
<line x1="177.2" y1="695.7" x2="177.2" y2="631.3" stroke="#ececec" stroke-width="0.5"/>
<line x1="188.5" y1="699.4" x2="188.5" y2="635.0" stroke="#ececec" stroke-width="0.5"/>
<line x1="199.7" y1="703.1" x2="199.7" y2="638.7" stroke="#ececec" stroke-width="0.5"/>
<line x1="211.0" y1="706.8" x2="211.0" y2="642.4" stroke="#ececec" stroke-width="0.5"/>
<line x1="98.4" y1="669.8" x2="211.0" y2="706.8" stroke="#ececec" stroke-width="0.5"/>
<line x1="98.4" y1="653.7" x2="211.0" y2="690.7" stroke="#ececec" stroke-width="0.5"/>
<line x1="98.4" y1="637.6" x2="211.0" y2="674.6" stroke="#ececec" stroke-width="0.5"/>
<line x1="98.4" y1="621.5" x2="211.0" y2="658.5" stroke="#ececec" stroke-width="0.5"/>
<line x1="98.4" y1="605.4" x2="211.0" y2="642.4" stroke="#ececec" stroke-width="0.5"/>
<line x1="35.2" y1="734.5" x2="35.2" y2="670.1" stroke="#808080" stroke-width="0.7"/>
<line x1="35.2" y1="734.5" x2="147.8" y2="771.5" stroke="#808080" stroke-width="0.7"/>
<line x1="147.8" y1="771.5" x2="211.0" y2="706.8" stroke="#808080" stroke-width="0.7"/>
<line x1="35.2" y1="734.5" x2="33.7" y2="734.5" stroke="#808080" stroke-width="0.6"/>
<text x="31.7" y="736.7" font-size="6.3" text-anchor="end" fill="#333" font-weight="bold" transform="translate(31.7 736.7) scale(0.50 1) translate(-31.7 -736.7)">-1.5</text>
<line x1="35.2" y1="718.4" x2="33.7" y2="718.4" stroke="#808080" stroke-width="0.6"/>
<text x="31.7" y="720.6" font-size="6.3" text-anchor="end" fill="#333" font-weight="bold" transform="translate(31.7 720.6) scale(0.50 1) translate(-31.7 -720.6)">-1</text>
<line x1="35.2" y1="702.3" x2="33.7" y2="702.3" stroke="#808080" stroke-width="0.6"/>
<text x="31.7" y="704.5" font-size="6.3" text-anchor="end" fill="#333" font-weight="bold" transform="translate(31.7 704.5) scale(0.50 1) translate(-31.7 -704.5)">-0.5</text>
<line x1="35.2" y1="686.2" x2="33.7" y2="686.2" stroke="#808080" stroke-width="0.6"/>
<text x="31.7" y="688.4" font-size="6.3" text-anchor="end" fill="#333" font-weight="bold" transform="translate(31.7 688.4) scale(0.50 1) translate(-31.7 -688.4)">0</text>
<line x1="35.2" y1="670.1" x2="33.7" y2="670.1" stroke="#808080" stroke-width="0.6"/>
<text x="31.7" y="672.3" font-size="6.3" text-anchor="end" fill="#333" font-weight="bold" transform="translate(31.7 672.3) scale(0.50 1) translate(-31.7 -672.3)">0.5</text>
<text x="28.2" y="743.3" font-size="6.3" text-anchor="middle" fill="#333" font-weight="bold" transform="translate(28.2 743.3) scale(0.50 1) translate(-28.2 -743.3)">1</text>
<text x="39.5" y="747.0" font-size="6.3" text-anchor="middle" fill="#333" font-weight="bold" transform="translate(39.5 747.0) scale(0.50 1) translate(-39.5 -747.0)">0.9</text>
<line x1="46.5" y1="738.2" x2="44.6" y2="740.1" stroke="#777" stroke-width="0.6"/>
<text x="50.7" y="750.7" font-size="6.3" text-anchor="middle" fill="#333" font-weight="bold" transform="translate(50.7 750.7) scale(0.50 1) translate(-50.7 -750.7)">0.8</text>
<line x1="57.7" y1="741.9" x2="55.9" y2="743.8" stroke="#777" stroke-width="0.6"/>
<text x="62.0" y="754.4" font-size="6.3" text-anchor="middle" fill="#333" font-weight="bold" transform="translate(62.0 754.4) scale(0.50 1) translate(-62.0 -754.4)">0.7</text>
<line x1="69.0" y1="745.6" x2="67.2" y2="747.5" stroke="#777" stroke-width="0.6"/>
<text x="73.2" y="758.1" font-size="6.3" text-anchor="middle" fill="#333" font-weight="bold" transform="translate(73.2 758.1) scale(0.50 1) translate(-73.2 -758.1)">0.6</text>
<line x1="80.2" y1="749.3" x2="78.4" y2="751.2" stroke="#777" stroke-width="0.6"/>
<text x="84.5" y="761.8" font-size="6.3" text-anchor="middle" fill="#333" font-weight="bold" transform="translate(84.5 761.8) scale(0.50 1) translate(-84.5 -761.8)">0.5</text>
<line x1="91.5" y1="753.0" x2="89.7" y2="754.9" stroke="#777" stroke-width="0.6"/>
<text x="95.8" y="765.5" font-size="6.3" text-anchor="middle" fill="#333" font-weight="bold" transform="translate(95.8 765.5) scale(0.50 1) translate(-95.8 -765.5)">0.4</text>
<line x1="102.8" y1="756.7" x2="100.9" y2="758.6" stroke="#777" stroke-width="0.6"/>
<text x="107.0" y="769.2" font-size="6.3" text-anchor="middle" fill="#333" font-weight="bold" transform="translate(107.0 769.2) scale(0.50 1) translate(-107.0 -769.2)">0.3</text>
<line x1="114.0" y1="760.4" x2="112.2" y2="762.3" stroke="#777" stroke-width="0.6"/>
<text x="118.3" y="772.9" font-size="6.3" text-anchor="middle" fill="#333" font-weight="bold" transform="translate(118.3 772.9) scale(0.50 1) translate(-118.3 -772.9)">0.2</text>
<line x1="125.3" y1="764.1" x2="123.5" y2="766.0" stroke="#777" stroke-width="0.6"/>
<text x="129.5" y="776.6" font-size="6.3" text-anchor="middle" fill="#333" font-weight="bold" transform="translate(129.5 776.6) scale(0.50 1) translate(-129.5 -776.6)">0.1</text>
<line x1="136.5" y1="767.8" x2="134.7" y2="769.7" stroke="#777" stroke-width="0.6"/>
<text x="140.8" y="780.3" font-size="6.3" text-anchor="middle" fill="#333" font-weight="bold" transform="translate(140.8 780.3) scale(0.50 1) translate(-140.8 -780.3)">0</text>
<text x="153.4" y="779.1" font-size="6.3" text-anchor="middle" fill="#333" font-weight="bold" transform="translate(153.4 779.1) scale(0.50 1) translate(-153.4 -779.1)">0</text>
<text x="166.0" y="766.2" font-size="6.3" text-anchor="middle" fill="#333" font-weight="bold" transform="translate(166.0 766.2) scale(0.50 1) translate(-166.0 -766.2)">0.2</text>
<line x1="160.4" y1="758.6" x2="162.9" y2="759.4" stroke="#777" stroke-width="0.6"/>
<text x="178.7" y="753.2" font-size="6.3" text-anchor="middle" fill="#333" font-weight="bold" transform="translate(178.7 753.2) scale(0.50 1) translate(-178.7 -753.2)">0.4</text>
<line x1="173.1" y1="745.6" x2="175.6" y2="746.4" stroke="#777" stroke-width="0.6"/>
<text x="191.3" y="740.3" font-size="6.3" text-anchor="middle" fill="#333" font-weight="bold" transform="translate(191.3 740.3) scale(0.50 1) translate(-191.3 -740.3)">0.6</text>
<line x1="185.7" y1="732.7" x2="188.2" y2="733.5" stroke="#777" stroke-width="0.6"/>
<text x="204.0" y="727.3" font-size="6.3" text-anchor="middle" fill="#333" font-weight="bold" transform="translate(204.0 727.3) scale(0.50 1) translate(-204.0 -727.3)">0.8</text>
<line x1="198.4" y1="719.7" x2="200.8" y2="720.6" stroke="#777" stroke-width="0.6"/>
<text x="216.6" y="714.4" font-size="6.3" text-anchor="middle" fill="#333" font-weight="bold" transform="translate(216.6 714.4) scale(0.50 1) translate(-216.6 -714.4)">1</text>
<text x="103.1" y="786.0" font-size="10.5" text-anchor="middle" fill="#222" font-weight="bold" font-weight="bold" transform="translate(103.1 786.0) scale(0.6 1) translate(-103.1 -786.0)">CO2</text>
<text x="179.0" y="778.5" font-size="10.5" text-anchor="middle" fill="#222" font-weight="bold" font-weight="bold" transform="translate(179.0 778.5) scale(0.6 1) translate(-179.0 -778.5)">PUN</text>
<defs><pattern id="m4f" patternUnits="userSpaceOnUse" width="100" height="100" patternTransform="matrix(0.0662 0.0218 0.0372 -0.0381 35.20 734.50)"><path d="M0 0V100M100 0V100M0 0H100M0 100H100" stroke="#000" stroke-opacity="0.55" stroke-width="12" fill="none"/></pattern><pattern id="m4u" patternUnits="userSpaceOnUse" width="100" height="100" patternTransform="matrix(0.0662 0.0218 0.0000 0.0500 35.20 734.50)"><path d="M0 0V100M100 0V100" stroke="#000" stroke-opacity="0.55" stroke-width="12" fill="none"/></pattern><pattern id="m4v" patternUnits="userSpaceOnUse" width="100" height="100" patternTransform="matrix(0.0372 -0.0381 0.0000 0.0500 35.20 734.50)"><path d="M0 0V100M100 0V100" stroke="#000" stroke-opacity="0.55" stroke-width="12" fill="none"/></pattern><pattern id="m4w" patternUnits="userSpaceOnUse" width="100" height="100" patternTransform="matrix(0.0662 0.0218 0.0000 0.0600 35.20 734.50)"><path d="M0 0V100M100 0V100M0 0H100M0 100H100" stroke="#000" stroke-opacity="0.55" stroke-width="12" fill="none"/></pattern></defs>
<polygon points="44.8,698.2 54.6,690.6 61.2,692.2 69.4,685.7 79.3,677.5 87.5,669.3 94.0,662.7 100.6,661.0 112.1,664.3 117.0,666.0 112.1,672.5 105.5,682.4 99.0,692.2 85.8,700.5 79.3,703.7 74.3,707.0 62.8,707.0 59.6,708.7 57.9,703.7 50.0,701.0" fill="#0620f2" stroke="#0620f2" stroke-width="0.6" stroke-linejoin="round"/>
<polygon points="44.8,698.2 54.6,690.6 61.2,692.2 69.4,685.7 79.3,677.5 87.5,669.3 94.0,662.7 100.6,661.0 112.1,664.3 117.0,666.0 112.1,672.5 105.5,682.4 99.0,692.2 85.8,700.5 79.3,703.7 74.3,707.0 62.8,707.0 59.6,708.7 57.9,703.7 50.0,701.0" fill="url(#m4f)"/>
<polygon points="117.0,666.0 126.0,652.2 132.9,638.4 139.8,637.2 149.0,643.0 158.2,649.9 164.2,655.0 172.4,658.2 180.6,663.1 175.7,674.6 174.0,680.4 171.6,681.2 167.5,681.2 159.3,686.1 151.0,692.7 142.8,692.7 134.6,694.3 131.3,694.3 123.1,692.7 116.6,694.3 110.0,699.3 100.0,703.0 90.0,705.0 79.3,703.7 85.8,700.5 99.0,692.2 105.5,682.4 112.1,672.5" fill="#e81a0a" stroke="#e81a0a" stroke-width="0.6" stroke-linejoin="round"/>
<polygon points="117.0,666.0 126.0,652.2 132.9,638.4 139.8,637.2 149.0,643.0 158.2,649.9 164.2,655.0 172.4,658.2 180.6,663.1 175.7,674.6 174.0,680.4 171.6,681.2 167.5,681.2 159.3,686.1 151.0,692.7 142.8,692.7 134.6,694.3 131.3,694.3 123.1,692.7 116.6,694.3 110.0,699.3 100.0,703.0 90.0,705.0 79.3,703.7 85.8,700.5 99.0,692.2 105.5,682.4 112.1,672.5" fill="url(#m4f)"/>
<polygon points="132.9,638.4 139.8,637.2 149.0,643.0 158.2,649.9 149.0,654.5 137.5,649.9 129.4,649.9" fill="#9c0404" stroke="#9c0404" stroke-width="0.6" stroke-linejoin="round"/>
<polygon points="132.9,638.4 139.8,637.2 149.0,643.0 158.2,649.9 149.0,654.5 137.5,649.9 129.4,649.9" fill="url(#m4f)"/>
<polygon points="120.0,668.0 135.0,660.0 150.0,662.0 160.0,670.0 150.0,676.0 135.0,678.0 122.0,676.0" fill="#c80a0a" stroke="#c80a0a" stroke-width="0.6" stroke-linejoin="round"/>
<polygon points="120.0,668.0 135.0,660.0 150.0,662.0 160.0,670.0 150.0,676.0 135.0,678.0 122.0,676.0" fill="url(#m4f)"/>
<polygon points="164.2,663.1 172.4,658.2 180.6,663.1 188.8,668.1 200.3,671.3 195.4,680.4 190.5,679.6 182.2,681.2 174.0,680.4 167.5,677.1 164.2,671.3" fill="#ff9a10" stroke="#ff9a10" stroke-width="0.6" stroke-linejoin="round"/>
<polygon points="164.2,663.1 172.4,658.2 180.6,663.1 188.8,668.1 200.3,671.3 195.4,680.4 190.5,679.6 182.2,681.2 174.0,680.4 167.5,677.1 164.2,671.3" fill="url(#m4f)"/>
<polygon points="175.7,666.4 183.9,668.1 192.1,670.5 200.3,671.3 195.4,680.4 188.8,678.7 180.6,677.9 175.7,674.6" fill="#f6ee10" stroke="#f6ee10" stroke-width="0.6" stroke-linejoin="round"/>
<polygon points="175.7,666.4 183.9,668.1 192.1,670.5 200.3,671.3 195.4,680.4 188.8,678.7 180.6,677.9 175.7,674.6" fill="url(#m4f)"/>
<polygon points="190.5,674.6 197.0,674.0 195.4,680.4 190.5,679.6" fill="#86f4a6" stroke="#86f4a6" stroke-width="0.6" stroke-linejoin="round"/>
<polygon points="190.5,674.6 197.0,674.0 195.4,680.4 190.5,679.6" fill="url(#m4f)"/>
<polygon points="171.6,681.2 182.2,679.6 190.5,679.6 191.3,682.8 187.2,692.7 180.6,702.5 177.3,699.3 172.4,686.1" fill="#2ee4f2" stroke="#2ee4f2" stroke-width="0.6" stroke-linejoin="round"/>
<polygon points="171.6,681.2 182.2,679.6 190.5,679.6 191.3,682.8 187.2,692.7 180.6,702.5 177.3,699.3 172.4,686.1" fill="url(#m4u)"/>
<polygon points="151.0,692.7 159.3,686.1 167.5,681.2 171.6,681.2 172.4,686.1 175.7,697.6 170.8,702.5 164.2,707.5 156.0,705.8 152.7,699.3" fill="#f6ee10" stroke="#f6ee10" stroke-width="0.6" stroke-linejoin="round"/>
<polygon points="151.0,692.7 159.3,686.1 167.5,681.2 171.6,681.2 172.4,686.1 175.7,697.6 170.8,702.5 164.2,707.5 156.0,705.8 152.7,699.3" fill="url(#m4f)"/>
<polygon points="134.6,694.3 142.8,692.7 151.0,692.7 152.7,699.3 156.0,705.8 164.2,707.5 159.3,710.8 151.0,709.1 142.8,705.8 134.6,702.5 129.7,704.2" fill="#ff9a10" stroke="#ff9a10" stroke-width="0.6" stroke-linejoin="round"/>
<polygon points="134.6,694.3 142.8,692.7 151.0,692.7 152.7,699.3 156.0,705.8 164.2,707.5 159.3,710.8 151.0,709.1 142.8,705.8 134.6,702.5 129.7,704.2" fill="url(#m4f)"/>
<polygon points="110.0,700.9 116.6,694.3 123.1,692.7 131.3,694.3 134.6,697.6 129.7,704.2 124.8,709.1 119.9,710.8 110.0,706.7" fill="#9c0404" stroke="#9c0404" stroke-width="0.6" stroke-linejoin="round"/>
<polygon points="110.0,700.9 116.6,694.3 123.1,692.7 131.3,694.3 134.6,697.6 129.7,704.2 124.8,709.1 119.9,710.8 110.0,706.7" fill="url(#m4f)"/>
<polygon points="79.3,703.7 90.0,702.0 100.0,700.0 110.0,699.3 110.0,706.7 100.0,708.0 93.8,708.5 85.0,709.7 79.0,708.0" fill="#ff9a10" stroke="#ff9a10" stroke-width="0.6" stroke-linejoin="round"/>
<polygon points="79.3,703.7 90.0,702.0 100.0,700.0 110.0,699.3 110.0,706.7 100.0,708.0 93.8,708.5 85.0,709.7 79.0,708.0" fill="url(#m4f)"/>
<polygon points="129.7,707.5 136.3,705.8 142.8,707.5 151.0,710.0 159.3,710.8 157.6,715.7 154.3,722.2 149.4,724.7 139.6,722.2 131.3,717.3 128.1,712.4" fill="#f6ee10" stroke="#f6ee10" stroke-width="0.6" stroke-linejoin="round"/>
<polygon points="129.7,707.5 136.3,705.8 142.8,707.5 151.0,710.0 159.3,710.8 157.6,715.7 154.3,722.2 149.4,724.7 139.6,722.2 131.3,717.3 128.1,712.4" fill="url(#m4f)"/>
<polygon points="123.1,710.8 128.1,712.4 131.3,717.3 139.6,722.2 149.4,724.7 146.7,744.1 128.3,739.5" fill="#1a86ff" stroke="#1a86ff" stroke-width="0.6" stroke-linejoin="round"/>
<polygon points="123.1,710.8 128.1,712.4 131.3,717.3 139.6,722.2 149.4,724.7 146.7,744.1 128.3,739.5" fill="url(#m4w)"/>
<rect x="217.1" y="605.3" width="4.900000000000006" height="166.20000000000005" fill="url(#jet)"/>
<line x1="222.0" y1="607.8" x2="223.0" y2="607.8" stroke="#808080" stroke-width="0.5"/>
<text x="223.6" y="609.9" font-size="6.2" text-anchor="start" fill="#333" font-weight="bold" transform="translate(223.6 609.9) scale(0.46 1) translate(-223.6 -609.9)">0</text>
<line x1="222.0" y1="637.4" x2="223.0" y2="637.4" stroke="#808080" stroke-width="0.5"/>
<text x="223.6" y="639.5" font-size="6.2" text-anchor="start" fill="#333" font-weight="bold" transform="translate(223.6 639.5) scale(0.46 1) translate(-223.6 -639.5)">-0.2</text>
<line x1="222.0" y1="667.0" x2="223.0" y2="667.0" stroke="#808080" stroke-width="0.5"/>
<text x="223.6" y="669.1" font-size="6.2" text-anchor="start" fill="#333" font-weight="bold" transform="translate(223.6 669.1) scale(0.46 1) translate(-223.6 -669.1)">-0.4</text>
<line x1="222.0" y1="696.6" x2="223.0" y2="696.6" stroke="#808080" stroke-width="0.5"/>
<text x="223.6" y="698.7" font-size="6.2" text-anchor="start" fill="#333" font-weight="bold" transform="translate(223.6 698.7) scale(0.46 1) translate(-223.6 -698.7)">-0.6</text>
<line x1="222.0" y1="726.4" x2="223.0" y2="726.4" stroke="#808080" stroke-width="0.5"/>
<text x="223.6" y="728.5" font-size="6.2" text-anchor="start" fill="#333" font-weight="bold" transform="translate(223.6 728.5) scale(0.46 1) translate(-223.6 -728.5)">-0.8</text>
<line x1="222.0" y1="756.0" x2="223.0" y2="756.0" stroke="#808080" stroke-width="0.5"/>
<text x="223.6" y="758.1" font-size="6.2" text-anchor="start" fill="#333" font-weight="bold" transform="translate(223.6 758.1) scale(0.46 1) translate(-223.6 -758.1)">-1</text>
<line x1="332.7" y1="704.4" x2="460.5" y2="751.9" stroke="#ececec" stroke-width="0.5"/>
<line x1="354.6" y1="693.8" x2="482.4" y2="741.3" stroke="#ececec" stroke-width="0.5"/>
<line x1="376.6" y1="683.2" x2="504.4" y2="730.7" stroke="#ececec" stroke-width="0.5"/>
<line x1="398.5" y1="672.6" x2="526.3" y2="720.1" stroke="#ececec" stroke-width="0.5"/>
<line x1="323.5" y1="719.8" x2="433.3" y2="666.8" stroke="#ececec" stroke-width="0.5"/>
<line x1="336.3" y1="724.5" x2="446.1" y2="671.5" stroke="#ececec" stroke-width="0.5"/>
<line x1="349.0" y1="729.2" x2="458.8" y2="676.2" stroke="#ececec" stroke-width="0.5"/>
<line x1="361.8" y1="734.0" x2="471.6" y2="681.0" stroke="#ececec" stroke-width="0.5"/>
<line x1="374.6" y1="738.8" x2="484.4" y2="685.8" stroke="#ececec" stroke-width="0.5"/>
<line x1="387.4" y1="743.5" x2="497.2" y2="690.5" stroke="#ececec" stroke-width="0.5"/>
<line x1="400.2" y1="748.2" x2="510.0" y2="695.2" stroke="#ececec" stroke-width="0.5"/>
<line x1="412.9" y1="753.0" x2="522.7" y2="700.0" stroke="#ececec" stroke-width="0.5"/>
<line x1="425.7" y1="757.8" x2="535.5" y2="704.8" stroke="#ececec" stroke-width="0.5"/>
<line x1="310.7" y1="715.0" x2="310.7" y2="647.0" stroke="#ececec" stroke-width="0.5"/>
<line x1="332.7" y1="704.4" x2="332.7" y2="636.4" stroke="#ececec" stroke-width="0.5"/>
<line x1="354.6" y1="693.8" x2="354.6" y2="625.8" stroke="#ececec" stroke-width="0.5"/>
<line x1="376.6" y1="683.2" x2="376.6" y2="615.2" stroke="#ececec" stroke-width="0.5"/>
<line x1="398.5" y1="672.6" x2="398.5" y2="604.6" stroke="#ececec" stroke-width="0.5"/>
<line x1="420.5" y1="662.0" x2="420.5" y2="594.0" stroke="#ececec" stroke-width="0.5"/>
<line x1="310.7" y1="715.0" x2="420.5" y2="662.0" stroke="#ececec" stroke-width="0.5"/>
<line x1="310.7" y1="701.4" x2="420.5" y2="648.4" stroke="#ececec" stroke-width="0.5"/>
<line x1="310.7" y1="687.8" x2="420.5" y2="634.8" stroke="#ececec" stroke-width="0.5"/>
<line x1="310.7" y1="674.2" x2="420.5" y2="621.2" stroke="#ececec" stroke-width="0.5"/>
<line x1="310.7" y1="660.6" x2="420.5" y2="607.6" stroke="#ececec" stroke-width="0.5"/>
<line x1="310.7" y1="647.0" x2="420.5" y2="594.0" stroke="#ececec" stroke-width="0.5"/>
<line x1="420.5" y1="662.0" x2="420.5" y2="594.0" stroke="#ececec" stroke-width="0.5"/>
<line x1="433.3" y1="666.8" x2="433.3" y2="598.8" stroke="#ececec" stroke-width="0.5"/>
<line x1="446.1" y1="671.5" x2="446.1" y2="603.5" stroke="#ececec" stroke-width="0.5"/>
<line x1="458.8" y1="676.2" x2="458.8" y2="608.2" stroke="#ececec" stroke-width="0.5"/>
<line x1="471.6" y1="681.0" x2="471.6" y2="613.0" stroke="#ececec" stroke-width="0.5"/>
<line x1="484.4" y1="685.8" x2="484.4" y2="617.8" stroke="#ececec" stroke-width="0.5"/>
<line x1="497.2" y1="690.5" x2="497.2" y2="622.5" stroke="#ececec" stroke-width="0.5"/>
<line x1="510.0" y1="695.2" x2="510.0" y2="627.2" stroke="#ececec" stroke-width="0.5"/>
<line x1="522.7" y1="700.0" x2="522.7" y2="632.0" stroke="#ececec" stroke-width="0.5"/>
<line x1="535.5" y1="704.8" x2="535.5" y2="636.8" stroke="#ececec" stroke-width="0.5"/>
<line x1="548.3" y1="709.5" x2="548.3" y2="641.5" stroke="#ececec" stroke-width="0.5"/>
<line x1="420.5" y1="662.0" x2="548.3" y2="709.5" stroke="#ececec" stroke-width="0.5"/>
<line x1="420.5" y1="648.4" x2="548.3" y2="695.9" stroke="#ececec" stroke-width="0.5"/>
<line x1="420.5" y1="634.8" x2="548.3" y2="682.3" stroke="#ececec" stroke-width="0.5"/>
<line x1="420.5" y1="621.2" x2="548.3" y2="668.7" stroke="#ececec" stroke-width="0.5"/>
<line x1="420.5" y1="607.6" x2="548.3" y2="655.1" stroke="#ececec" stroke-width="0.5"/>
<line x1="420.5" y1="594.0" x2="548.3" y2="641.5" stroke="#ececec" stroke-width="0.5"/>
<line x1="310.7" y1="715.0" x2="310.7" y2="647.0" stroke="#808080" stroke-width="0.7"/>
<line x1="310.7" y1="715.0" x2="438.5" y2="762.5" stroke="#808080" stroke-width="0.7"/>
<line x1="438.5" y1="762.5" x2="548.3" y2="709.5" stroke="#808080" stroke-width="0.7"/>
<line x1="310.7" y1="715.0" x2="309.2" y2="715.0" stroke="#808080" stroke-width="0.6"/>
<text x="307.2" y="717.2" font-size="6.3" text-anchor="end" fill="#333" font-weight="bold" transform="translate(307.2 717.2) scale(0.50 1) translate(-307.2 -717.2)">-2</text>
<line x1="310.7" y1="701.4" x2="309.2" y2="701.4" stroke="#808080" stroke-width="0.6"/>
<text x="307.2" y="703.6" font-size="6.3" text-anchor="end" fill="#333" font-weight="bold" transform="translate(307.2 703.6) scale(0.50 1) translate(-307.2 -703.6)">-1</text>
<line x1="310.7" y1="687.8" x2="309.2" y2="687.8" stroke="#808080" stroke-width="0.6"/>
<text x="307.2" y="690.0" font-size="6.3" text-anchor="end" fill="#333" font-weight="bold" transform="translate(307.2 690.0) scale(0.50 1) translate(-307.2 -690.0)">0</text>
<line x1="310.7" y1="674.2" x2="309.2" y2="674.2" stroke="#808080" stroke-width="0.6"/>
<text x="307.2" y="676.4" font-size="6.3" text-anchor="end" fill="#333" font-weight="bold" transform="translate(307.2 676.4) scale(0.50 1) translate(-307.2 -676.4)">1</text>
<line x1="310.7" y1="660.6" x2="309.2" y2="660.6" stroke="#808080" stroke-width="0.6"/>
<text x="307.2" y="662.8" font-size="6.3" text-anchor="end" fill="#333" font-weight="bold" transform="translate(307.2 662.8) scale(0.50 1) translate(-307.2 -662.8)">2</text>
<line x1="310.7" y1="647.0" x2="309.2" y2="647.0" stroke="#808080" stroke-width="0.6"/>
<text x="307.2" y="649.2" font-size="6.3" text-anchor="end" fill="#333" font-weight="bold" transform="translate(307.2 649.2) scale(0.50 1) translate(-307.2 -649.2)">3</text>
<text x="303.7" y="723.8" font-size="6.3" text-anchor="middle" fill="#333" font-weight="bold" transform="translate(303.7 723.8) scale(0.50 1) translate(-303.7 -723.8)">1</text>
<text x="316.5" y="728.5" font-size="6.3" text-anchor="middle" fill="#333" font-weight="bold" transform="translate(316.5 728.5) scale(0.50 1) translate(-316.5 -728.5)">0.9</text>
<line x1="323.5" y1="719.8" x2="321.1" y2="720.9" stroke="#777" stroke-width="0.6"/>
<text x="329.3" y="733.3" font-size="6.3" text-anchor="middle" fill="#333" font-weight="bold" transform="translate(329.3 733.3) scale(0.50 1) translate(-329.3 -733.3)">0.8</text>
<line x1="336.3" y1="724.5" x2="333.9" y2="725.6" stroke="#777" stroke-width="0.6"/>
<text x="342.0" y="738.0" font-size="6.3" text-anchor="middle" fill="#333" font-weight="bold" transform="translate(342.0 738.0) scale(0.50 1) translate(-342.0 -738.0)">0.7</text>
<line x1="349.0" y1="729.2" x2="346.7" y2="730.4" stroke="#777" stroke-width="0.6"/>
<text x="354.8" y="742.8" font-size="6.3" text-anchor="middle" fill="#333" font-weight="bold" transform="translate(354.8 742.8) scale(0.50 1) translate(-354.8 -742.8)">0.6</text>
<line x1="361.8" y1="734.0" x2="359.5" y2="735.1" stroke="#777" stroke-width="0.6"/>
<text x="367.6" y="747.5" font-size="6.3" text-anchor="middle" fill="#333" font-weight="bold" transform="translate(367.6 747.5) scale(0.50 1) translate(-367.6 -747.5)">0.5</text>
<line x1="374.6" y1="738.8" x2="372.3" y2="739.9" stroke="#777" stroke-width="0.6"/>
<text x="380.4" y="752.3" font-size="6.3" text-anchor="middle" fill="#333" font-weight="bold" transform="translate(380.4 752.3) scale(0.50 1) translate(-380.4 -752.3)">0.4</text>
<line x1="387.4" y1="743.5" x2="385.0" y2="744.6" stroke="#777" stroke-width="0.6"/>
<text x="393.2" y="757.0" font-size="6.3" text-anchor="middle" fill="#333" font-weight="bold" transform="translate(393.2 757.0) scale(0.50 1) translate(-393.2 -757.0)">0.3</text>
<line x1="400.2" y1="748.2" x2="397.8" y2="749.4" stroke="#777" stroke-width="0.6"/>
<text x="405.9" y="761.8" font-size="6.3" text-anchor="middle" fill="#333" font-weight="bold" transform="translate(405.9 761.8) scale(0.50 1) translate(-405.9 -761.8)">0.2</text>
<line x1="412.9" y1="753.0" x2="410.6" y2="754.1" stroke="#777" stroke-width="0.6"/>
<text x="418.7" y="766.5" font-size="6.3" text-anchor="middle" fill="#333" font-weight="bold" transform="translate(418.7 766.5) scale(0.50 1) translate(-418.7 -766.5)">0.1</text>
<line x1="425.7" y1="757.8" x2="423.4" y2="758.9" stroke="#777" stroke-width="0.6"/>
<text x="431.5" y="771.3" font-size="6.3" text-anchor="middle" fill="#333" font-weight="bold" transform="translate(431.5 771.3) scale(0.50 1) translate(-431.5 -771.3)">0</text>
<text x="444.1" y="770.1" font-size="6.3" text-anchor="middle" fill="#333" font-weight="bold" transform="translate(444.1 770.1) scale(0.50 1) translate(-444.1 -770.1)">0</text>
<text x="466.1" y="759.5" font-size="6.3" text-anchor="middle" fill="#333" font-weight="bold" transform="translate(466.1 759.5) scale(0.50 1) translate(-466.1 -759.5)">0.2</text>
<line x1="460.5" y1="751.9" x2="462.9" y2="752.8" stroke="#777" stroke-width="0.6"/>
<text x="488.0" y="748.9" font-size="6.3" text-anchor="middle" fill="#333" font-weight="bold" transform="translate(488.0 748.9) scale(0.50 1) translate(-488.0 -748.9)">0.4</text>
<line x1="482.4" y1="741.3" x2="484.9" y2="742.2" stroke="#777" stroke-width="0.6"/>
<text x="510.0" y="738.3" font-size="6.3" text-anchor="middle" fill="#333" font-weight="bold" transform="translate(510.0 738.3) scale(0.50 1) translate(-510.0 -738.3)">0.6</text>
<line x1="504.4" y1="730.7" x2="506.8" y2="731.6" stroke="#777" stroke-width="0.6"/>
<text x="531.9" y="727.7" font-size="6.3" text-anchor="middle" fill="#333" font-weight="bold" transform="translate(531.9 727.7) scale(0.50 1) translate(-531.9 -727.7)">0.8</text>
<line x1="526.3" y1="720.1" x2="528.8" y2="721.0" stroke="#777" stroke-width="0.6"/>
<text x="553.9" y="717.1" font-size="6.3" text-anchor="middle" fill="#333" font-weight="bold" transform="translate(553.9 717.1) scale(0.50 1) translate(-553.9 -717.1)">1</text>
<text x="388.7" y="774.5" font-size="10.5" text-anchor="middle" fill="#222" font-weight="bold" font-weight="bold" transform="translate(388.7 774.5) scale(0.6 1) translate(-388.7 -774.5)">CO2</text>
<text x="487.0" y="772.5" font-size="10.5" text-anchor="middle" fill="#222" font-weight="bold" font-weight="bold" transform="translate(487.0 772.5) scale(0.6 1) translate(-487.0 -772.5)">PUN</text>
<defs><pattern id="m5f" patternUnits="userSpaceOnUse" width="100" height="100" patternTransform="matrix(0.0752 0.0279 0.0646 -0.0312 310.70 715.00)"><path d="M0 0V100M100 0V100M0 0H100M0 100H100" stroke="#000" stroke-opacity="0.55" stroke-width="12" fill="none"/></pattern><pattern id="m5u" patternUnits="userSpaceOnUse" width="100" height="100" patternTransform="matrix(0.0752 0.0279 0.0000 0.0500 310.70 715.00)"><path d="M0 0V100M100 0V100" stroke="#000" stroke-opacity="0.55" stroke-width="12" fill="none"/></pattern><pattern id="m5v" patternUnits="userSpaceOnUse" width="100" height="100" patternTransform="matrix(0.0646 -0.0312 0.0000 0.0500 310.70 715.00)"><path d="M0 0V100M100 0V100" stroke="#000" stroke-opacity="0.55" stroke-width="12" fill="none"/></pattern><pattern id="m5w" patternUnits="userSpaceOnUse" width="100" height="100" patternTransform="matrix(0.0752 0.0279 0.0000 0.0600 310.70 715.00)"><path d="M0 0V100M100 0V100M0 0H100M0 100H100" stroke="#000" stroke-opacity="0.55" stroke-width="12" fill="none"/></pattern></defs>
<polygon points="324.6,694.5 332.0,692.1 337.0,694.5 346.8,689.6 354.2,692.1 366.5,673.6 373.9,679.8 383.7,678.5 391.1,677.3 401.0,656.4 408.4,658.8 415.8,656.4 421.0,649.4 428.9,646.8 436.8,644.2 444.7,642.8 452.5,642.8 456.5,646.8 463.0,657.3 467.0,662.5 470.9,675.7 478.8,683.6 486.7,684.9 499.8,682.3 513.0,683.6 526.1,683.6 524.1,705.6 506.9,713.0 492.1,720.4 472.4,713.0 452.7,737.6 442.9,745.0 433.0,742.6 405.9,733.0 401.0,694.8 381.3,693.5 369.0,697.7 359.1,695.3 349.3,697.2 334.5,697.7 323.4,695.3" fill="#0620f2" stroke="#0620f2" stroke-width="0.6" stroke-linejoin="round"/>
<polygon points="324.6,694.5 332.0,692.1 337.0,694.5 346.8,689.6 354.2,692.1 366.5,673.6 373.9,679.8 383.7,678.5 391.1,677.3 401.0,656.4 408.4,658.8 415.8,656.4 421.0,649.4 428.9,646.8 436.8,644.2 444.7,642.8 452.5,642.8 456.5,646.8 463.0,657.3 467.0,662.5 470.9,675.7 478.8,683.6 486.7,684.9 499.8,682.3 513.0,683.6 526.1,683.6 524.1,705.6 506.9,713.0 492.1,720.4 472.4,713.0 452.7,737.6 442.9,745.0 433.0,742.6 405.9,733.0 401.0,694.8 381.3,693.5 369.0,697.7 359.1,695.3 349.3,697.2 334.5,697.7 323.4,695.3" fill="url(#m5f)"/>
<polygon points="401.0,662.0 415.0,660.0 430.0,652.0 445.0,648.0 455.0,650.0 463.0,657.3 467.0,662.5 470.9,675.7 478.8,683.6 486.7,684.9 499.8,682.3 513.0,683.6 526.1,683.6 524.1,705.6 506.9,713.0 492.1,720.4 472.4,713.0 455.0,712.0 430.0,712.0 404.0,714.0" fill="#0620f2" stroke="#0620f2" stroke-width="0.6" stroke-linejoin="round"/>
<polygon points="401.0,662.0 415.0,660.0 430.0,652.0 445.0,648.0 455.0,650.0 463.0,657.3 467.0,662.5 470.9,675.7 478.8,683.6 486.7,684.9 499.8,682.3 513.0,683.6 526.1,683.6 524.1,705.6 506.9,713.0 492.1,720.4 472.4,713.0 455.0,712.0 430.0,712.0 404.0,714.0" fill="url(#m5w)"/>
<polygon points="404.6,712.0 430.0,708.0 455.0,707.0 479.4,712.0 472.4,716.0 452.7,737.6 442.9,745.0 433.0,742.6 405.9,733.0" fill="#0620f2" stroke="#0620f2" stroke-width="0.6" stroke-linejoin="round"/>
<polygon points="404.6,712.0 430.0,708.0 455.0,707.0 479.4,712.0 472.4,716.0 452.7,737.6 442.9,745.0 433.0,742.6 405.9,733.0" fill="url(#m5f)"/>
<polygon points="401.0,660.0 408.4,658.8 415.8,656.4 421.0,649.4 428.9,646.8 436.8,644.2 444.7,642.8 452.5,642.8 456.5,646.8 463.0,657.3 455.0,660.0 440.0,662.0 425.0,665.0 410.0,666.0" fill="#0620f2" stroke="#0620f2" stroke-width="0.6" stroke-linejoin="round"/>
<polygon points="401.0,660.0 408.4,658.8 415.8,656.4 421.0,649.4 428.9,646.8 436.8,644.2 444.7,642.8 452.5,642.8 456.5,646.8 463.0,657.3 455.0,660.0 440.0,662.0 425.0,665.0 410.0,666.0" fill="url(#m5f)"/>
<polygon points="356.7,683.4 366.5,673.6 373.9,679.8 366.5,685.9" fill="#1a86ff" stroke="#1a86ff" stroke-width="0.6" stroke-linejoin="round"/>
<polygon points="356.7,683.4 366.5,673.6 373.9,679.8 366.5,685.9" fill="url(#m5f)"/>
<polygon points="398.5,656.4 403.4,656.4 408.4,661.3 401.0,673.6 396.1,674.8" fill="#0208c0" stroke="#0208c0" stroke-width="0.6" stroke-linejoin="round"/>
<polygon points="398.5,656.4 403.4,656.4 408.4,661.3 401.0,673.6 396.1,674.8" fill="url(#m5u)"/>
<polygon points="405.5,659.5 410.8,661.0 408.0,665.0" fill="#2ee4f2" stroke="#2ee4f2" stroke-width="0.6" stroke-linejoin="round"/>
<polygon points="405.5,659.5 410.8,661.0 408.0,665.0" fill="url(#m5f)"/>
<polygon points="439.4,641.5 452.5,636.3 467.0,628.9 476.2,633.6 486.7,644.2 480.0,650.0 470.0,655.0 463.0,657.3 456.5,646.8 452.5,642.8" fill="#e81a0a" stroke="#e81a0a" stroke-width="0.6" stroke-linejoin="round"/>
<polygon points="439.4,641.5 452.5,636.3 467.0,628.9 476.2,633.6 486.7,644.2 480.0,650.0 470.0,655.0 463.0,657.3 456.5,646.8 452.5,642.8" fill="url(#m5f)"/>
<polygon points="446.0,640.0 455.0,636.0 465.0,631.0 469.0,638.0 460.0,643.0 452.0,641.0" fill="#9c0404" stroke="#9c0404" stroke-width="0.6" stroke-linejoin="round"/>
<polygon points="446.0,640.0 455.0,636.0 465.0,631.0 469.0,638.0 460.0,643.0 452.0,641.0" fill="url(#m5f)"/>
<polygon points="463.0,657.3 470.0,655.0 480.0,650.0 486.7,644.2 499.8,652.0 513.0,658.6 505.0,662.0 495.0,661.0 485.0,664.0 475.0,664.0 467.0,662.5" fill="#ff9a10" stroke="#ff9a10" stroke-width="0.6" stroke-linejoin="round"/>
<polygon points="463.0,657.3 470.0,655.0 480.0,650.0 486.7,644.2 499.8,652.0 513.0,658.6 505.0,662.0 495.0,661.0 485.0,664.0 475.0,664.0 467.0,662.5" fill="url(#m5f)"/>
<polygon points="467.0,662.5 475.0,664.0 485.0,664.0 495.0,661.0 505.0,662.0 513.0,658.6 526.1,663.9 520.0,667.0 505.0,668.0 490.0,669.0 478.0,670.0 470.9,675.7" fill="#f6ee10" stroke="#f6ee10" stroke-width="0.6" stroke-linejoin="round"/>
<polygon points="467.0,662.5 475.0,664.0 485.0,664.0 495.0,661.0 505.0,662.0 513.0,658.6 526.1,663.9 520.0,667.0 505.0,668.0 490.0,669.0 478.0,670.0 470.9,675.7" fill="url(#m5f)"/>
<polygon points="470.9,675.7 478.0,670.0 490.0,669.0 505.0,668.0 520.0,667.0 526.1,663.9 538.0,671.7 531.4,677.0 526.1,683.6 513.0,683.6 499.8,682.3 486.7,684.9 478.8,683.6" fill="#86f4a6" stroke="#86f4a6" stroke-width="0.6" stroke-linejoin="round"/>
<polygon points="470.9,675.7 478.0,670.0 490.0,669.0 505.0,668.0 520.0,667.0 526.1,663.9 538.0,671.7 531.4,677.0 526.1,683.6 513.0,683.6 499.8,682.3 486.7,684.9 478.8,683.6" fill="url(#m5f)"/>
<rect x="558.3" y="593.1" width="5.7000000000000455" height="169.19999999999993" fill="url(#jet)"/>
<line x1="564.0" y1="593.8" x2="565.0" y2="593.8" stroke="#808080" stroke-width="0.5"/>
<text x="565.6" y="595.9" font-size="6.2" text-anchor="start" fill="#333" font-weight="bold" transform="translate(565.6 595.9) scale(0.46 1) translate(-565.6 -595.9)">2.5</text>
<line x1="564.0" y1="612.7" x2="565.0" y2="612.7" stroke="#808080" stroke-width="0.5"/>
<text x="565.6" y="614.8" font-size="6.2" text-anchor="start" fill="#333" font-weight="bold" transform="translate(565.6 614.8) scale(0.46 1) translate(-565.6 -614.8)">2</text>
<line x1="564.0" y1="631.6" x2="565.0" y2="631.6" stroke="#808080" stroke-width="0.5"/>
<text x="565.6" y="633.7" font-size="6.2" text-anchor="start" fill="#333" font-weight="bold" transform="translate(565.6 633.7) scale(0.46 1) translate(-565.6 -633.7)">1.5</text>
<line x1="564.0" y1="650.5" x2="565.0" y2="650.5" stroke="#808080" stroke-width="0.5"/>
<text x="565.6" y="652.6" font-size="6.2" text-anchor="start" fill="#333" font-weight="bold" transform="translate(565.6 652.6) scale(0.46 1) translate(-565.6 -652.6)">1</text>
<line x1="564.0" y1="669.4" x2="565.0" y2="669.4" stroke="#808080" stroke-width="0.5"/>
<text x="565.6" y="671.5" font-size="6.2" text-anchor="start" fill="#333" font-weight="bold" transform="translate(565.6 671.5) scale(0.46 1) translate(-565.6 -671.5)">0.5</text>
<line x1="564.0" y1="688.3" x2="565.0" y2="688.3" stroke="#808080" stroke-width="0.5"/>
<text x="565.6" y="690.4" font-size="6.2" text-anchor="start" fill="#333" font-weight="bold" transform="translate(565.6 690.4) scale(0.46 1) translate(-565.6 -690.4)">0</text>
<line x1="564.0" y1="707.2" x2="565.0" y2="707.2" stroke="#808080" stroke-width="0.5"/>
<text x="565.6" y="709.3" font-size="6.2" text-anchor="start" fill="#333" font-weight="bold" transform="translate(565.6 709.3) scale(0.46 1) translate(-565.6 -709.3)">-0.5</text>
<line x1="564.0" y1="726.1" x2="565.0" y2="726.1" stroke="#808080" stroke-width="0.5"/>
<text x="565.6" y="728.2" font-size="6.2" text-anchor="start" fill="#333" font-weight="bold" transform="translate(565.6 728.2) scale(0.46 1) translate(-565.6 -728.2)">-1</text>
<line x1="564.0" y1="745.0" x2="565.0" y2="745.0" stroke="#808080" stroke-width="0.5"/>
<text x="565.6" y="747.1" font-size="6.2" text-anchor="start" fill="#333" font-weight="bold" transform="translate(565.6 747.1) scale(0.46 1) translate(-565.6 -747.1)">-1.5</text>
<line x1="33.9" y1="963.4" x2="139.7" y2="1015.6" stroke="#ececec" stroke-width="0.5"/>
<line x1="51.5" y1="951.3" x2="157.3" y2="1003.5" stroke="#ececec" stroke-width="0.5"/>
<line x1="69.2" y1="939.3" x2="175.0" y2="991.5" stroke="#ececec" stroke-width="0.5"/>
<line x1="86.8" y1="927.2" x2="192.6" y2="979.4" stroke="#ececec" stroke-width="0.5"/>
<line x1="26.8" y1="980.7" x2="115.1" y2="920.3" stroke="#ececec" stroke-width="0.5"/>
<line x1="37.4" y1="985.9" x2="125.7" y2="925.5" stroke="#ececec" stroke-width="0.5"/>
<line x1="47.9" y1="991.2" x2="136.2" y2="930.8" stroke="#ececec" stroke-width="0.5"/>
<line x1="58.5" y1="996.4" x2="146.8" y2="936.0" stroke="#ececec" stroke-width="0.5"/>
<line x1="69.1" y1="1001.6" x2="157.4" y2="941.2" stroke="#ececec" stroke-width="0.5"/>
<line x1="79.7" y1="1006.8" x2="168.0" y2="946.4" stroke="#ececec" stroke-width="0.5"/>
<line x1="90.3" y1="1012.0" x2="178.6" y2="951.6" stroke="#ececec" stroke-width="0.5"/>
<line x1="100.8" y1="1017.3" x2="189.1" y2="956.9" stroke="#ececec" stroke-width="0.5"/>
<line x1="111.4" y1="1022.5" x2="199.7" y2="962.1" stroke="#ececec" stroke-width="0.5"/>
<line x1="16.2" y1="975.5" x2="16.2" y2="909.0" stroke="#ececec" stroke-width="0.5"/>
<line x1="33.9" y1="963.4" x2="33.9" y2="896.9" stroke="#ececec" stroke-width="0.5"/>
<line x1="51.5" y1="951.3" x2="51.5" y2="884.8" stroke="#ececec" stroke-width="0.5"/>
<line x1="69.2" y1="939.3" x2="69.2" y2="872.8" stroke="#ececec" stroke-width="0.5"/>
<line x1="86.8" y1="927.2" x2="86.8" y2="860.7" stroke="#ececec" stroke-width="0.5"/>
<line x1="104.5" y1="915.1" x2="104.5" y2="848.6" stroke="#ececec" stroke-width="0.5"/>
<line x1="16.2" y1="975.5" x2="104.5" y2="915.1" stroke="#ececec" stroke-width="0.5"/>
<line x1="16.2" y1="962.2" x2="104.5" y2="901.8" stroke="#ececec" stroke-width="0.5"/>
<line x1="16.2" y1="948.9" x2="104.5" y2="888.5" stroke="#ececec" stroke-width="0.5"/>
<line x1="16.2" y1="935.6" x2="104.5" y2="875.2" stroke="#ececec" stroke-width="0.5"/>
<line x1="16.2" y1="922.3" x2="104.5" y2="861.9" stroke="#ececec" stroke-width="0.5"/>
<line x1="16.2" y1="909.0" x2="104.5" y2="848.6" stroke="#ececec" stroke-width="0.5"/>
<line x1="104.5" y1="915.1" x2="104.5" y2="848.6" stroke="#ececec" stroke-width="0.5"/>
<line x1="115.1" y1="920.3" x2="115.1" y2="853.8" stroke="#ececec" stroke-width="0.5"/>
<line x1="125.7" y1="925.5" x2="125.7" y2="859.0" stroke="#ececec" stroke-width="0.5"/>
<line x1="136.2" y1="930.8" x2="136.2" y2="864.3" stroke="#ececec" stroke-width="0.5"/>
<line x1="146.8" y1="936.0" x2="146.8" y2="869.5" stroke="#ececec" stroke-width="0.5"/>
<line x1="157.4" y1="941.2" x2="157.4" y2="874.7" stroke="#ececec" stroke-width="0.5"/>
<line x1="168.0" y1="946.4" x2="168.0" y2="879.9" stroke="#ececec" stroke-width="0.5"/>
<line x1="178.6" y1="951.6" x2="178.6" y2="885.1" stroke="#ececec" stroke-width="0.5"/>
<line x1="189.1" y1="956.9" x2="189.1" y2="890.4" stroke="#ececec" stroke-width="0.5"/>
<line x1="199.7" y1="962.1" x2="199.7" y2="895.6" stroke="#ececec" stroke-width="0.5"/>
<line x1="210.3" y1="967.3" x2="210.3" y2="900.8" stroke="#ececec" stroke-width="0.5"/>
<line x1="104.5" y1="915.1" x2="210.3" y2="967.3" stroke="#ececec" stroke-width="0.5"/>
<line x1="104.5" y1="901.8" x2="210.3" y2="954.0" stroke="#ececec" stroke-width="0.5"/>
<line x1="104.5" y1="888.5" x2="210.3" y2="940.7" stroke="#ececec" stroke-width="0.5"/>
<line x1="104.5" y1="875.2" x2="210.3" y2="927.4" stroke="#ececec" stroke-width="0.5"/>
<line x1="104.5" y1="861.9" x2="210.3" y2="914.1" stroke="#ececec" stroke-width="0.5"/>
<line x1="104.5" y1="848.6" x2="210.3" y2="900.8" stroke="#ececec" stroke-width="0.5"/>
<line x1="16.2" y1="975.5" x2="16.2" y2="909.0" stroke="#808080" stroke-width="0.7"/>
<line x1="16.2" y1="975.5" x2="122.0" y2="1027.7" stroke="#808080" stroke-width="0.7"/>
<line x1="122.0" y1="1027.7" x2="210.3" y2="967.3" stroke="#808080" stroke-width="0.7"/>
<line x1="16.2" y1="975.5" x2="14.7" y2="975.5" stroke="#808080" stroke-width="0.6"/>
<text x="12.7" y="977.7" font-size="6.3" text-anchor="end" fill="#333" font-weight="bold" transform="translate(12.7 977.7) scale(0.50 1) translate(-12.7 -977.7)">-8</text>
<line x1="16.2" y1="962.2" x2="14.7" y2="962.2" stroke="#808080" stroke-width="0.6"/>
<text x="12.7" y="964.4" font-size="6.3" text-anchor="end" fill="#333" font-weight="bold" transform="translate(12.7 964.4) scale(0.50 1) translate(-12.7 -964.4)">-6</text>
<line x1="16.2" y1="948.9" x2="14.7" y2="948.9" stroke="#808080" stroke-width="0.6"/>
<text x="12.7" y="951.1" font-size="6.3" text-anchor="end" fill="#333" font-weight="bold" transform="translate(12.7 951.1) scale(0.50 1) translate(-12.7 -951.1)">-4</text>
<line x1="16.2" y1="935.6" x2="14.7" y2="935.6" stroke="#808080" stroke-width="0.6"/>
<text x="12.7" y="937.8" font-size="6.3" text-anchor="end" fill="#333" font-weight="bold" transform="translate(12.7 937.8) scale(0.50 1) translate(-12.7 -937.8)">-2</text>
<line x1="16.2" y1="922.3" x2="14.7" y2="922.3" stroke="#808080" stroke-width="0.6"/>
<text x="12.7" y="924.5" font-size="6.3" text-anchor="end" fill="#333" font-weight="bold" transform="translate(12.7 924.5) scale(0.50 1) translate(-12.7 -924.5)">0</text>
<line x1="16.2" y1="909.0" x2="14.7" y2="909.0" stroke="#808080" stroke-width="0.6"/>
<text x="12.7" y="911.2" font-size="6.3" text-anchor="end" fill="#333" font-weight="bold" transform="translate(12.7 911.2) scale(0.50 1) translate(-12.7 -911.2)">2</text>
<text x="9.2" y="984.3" font-size="6.3" text-anchor="middle" fill="#333" font-weight="bold" transform="translate(9.2 984.3) scale(0.50 1) translate(-9.2 -984.3)">1</text>
<text x="19.8" y="989.5" font-size="6.3" text-anchor="middle" fill="#333" font-weight="bold" transform="translate(19.8 989.5) scale(0.50 1) translate(-19.8 -989.5)">0.9</text>
<line x1="26.8" y1="980.7" x2="24.6" y2="982.2" stroke="#777" stroke-width="0.6"/>
<text x="30.4" y="994.7" font-size="6.3" text-anchor="middle" fill="#333" font-weight="bold" transform="translate(30.4 994.7) scale(0.50 1) translate(-30.4 -994.7)">0.8</text>
<line x1="37.4" y1="985.9" x2="35.2" y2="987.4" stroke="#777" stroke-width="0.6"/>
<text x="40.9" y="1000.0" font-size="6.3" text-anchor="middle" fill="#333" font-weight="bold" transform="translate(40.9 1000.0) scale(0.50 1) translate(-40.9 -1000.0)">0.7</text>
<line x1="47.9" y1="991.2" x2="45.8" y2="992.6" stroke="#777" stroke-width="0.6"/>
<text x="51.5" y="1005.2" font-size="6.3" text-anchor="middle" fill="#333" font-weight="bold" transform="translate(51.5 1005.2) scale(0.50 1) translate(-51.5 -1005.2)">0.6</text>
<line x1="58.5" y1="996.4" x2="56.4" y2="997.8" stroke="#777" stroke-width="0.6"/>
<text x="62.1" y="1010.4" font-size="6.3" text-anchor="middle" fill="#333" font-weight="bold" transform="translate(62.1 1010.4) scale(0.50 1) translate(-62.1 -1010.4)">0.5</text>
<line x1="69.1" y1="1001.6" x2="67.0" y2="1003.1" stroke="#777" stroke-width="0.6"/>
<text x="72.7" y="1015.6" font-size="6.3" text-anchor="middle" fill="#333" font-weight="bold" transform="translate(72.7 1015.6) scale(0.50 1) translate(-72.7 -1015.6)">0.4</text>
<line x1="79.7" y1="1006.8" x2="77.5" y2="1008.3" stroke="#777" stroke-width="0.6"/>
<text x="83.3" y="1020.8" font-size="6.3" text-anchor="middle" fill="#333" font-weight="bold" transform="translate(83.3 1020.8) scale(0.50 1) translate(-83.3 -1020.8)">0.3</text>
<line x1="90.3" y1="1012.0" x2="88.1" y2="1013.5" stroke="#777" stroke-width="0.6"/>
<text x="93.8" y="1026.1" font-size="6.3" text-anchor="middle" fill="#333" font-weight="bold" transform="translate(93.8 1026.1) scale(0.50 1) translate(-93.8 -1026.1)">0.2</text>
<line x1="100.8" y1="1017.3" x2="98.7" y2="1018.7" stroke="#777" stroke-width="0.6"/>
<text x="104.4" y="1031.3" font-size="6.3" text-anchor="middle" fill="#333" font-weight="bold" transform="translate(104.4 1031.3) scale(0.50 1) translate(-104.4 -1031.3)">0.1</text>
<line x1="111.4" y1="1022.5" x2="109.3" y2="1023.9" stroke="#777" stroke-width="0.6"/>
<text x="115.0" y="1036.5" font-size="6.3" text-anchor="middle" fill="#333" font-weight="bold" transform="translate(115.0 1036.5) scale(0.50 1) translate(-115.0 -1036.5)">0</text>
<text x="127.6" y="1035.3" font-size="6.3" text-anchor="middle" fill="#333" font-weight="bold" transform="translate(127.6 1035.3) scale(0.50 1) translate(-127.6 -1035.3)">0</text>
<text x="145.3" y="1023.2" font-size="6.3" text-anchor="middle" fill="#333" font-weight="bold" transform="translate(145.3 1023.2) scale(0.50 1) translate(-145.3 -1023.2)">0.2</text>
<line x1="139.7" y1="1015.6" x2="142.0" y2="1016.8" stroke="#777" stroke-width="0.6"/>
<text x="162.9" y="1011.1" font-size="6.3" text-anchor="middle" fill="#333" font-weight="bold" transform="translate(162.9 1011.1) scale(0.50 1) translate(-162.9 -1011.1)">0.4</text>
<line x1="157.3" y1="1003.5" x2="159.7" y2="1004.7" stroke="#777" stroke-width="0.6"/>
<text x="180.6" y="999.1" font-size="6.3" text-anchor="middle" fill="#333" font-weight="bold" transform="translate(180.6 999.1) scale(0.50 1) translate(-180.6 -999.1)">0.6</text>
<line x1="175.0" y1="991.5" x2="177.3" y2="992.6" stroke="#777" stroke-width="0.6"/>
<text x="198.2" y="987.0" font-size="6.3" text-anchor="middle" fill="#333" font-weight="bold" transform="translate(198.2 987.0) scale(0.50 1) translate(-198.2 -987.0)">0.8</text>
<line x1="192.6" y1="979.4" x2="195.0" y2="980.5" stroke="#777" stroke-width="0.6"/>
<text x="215.9" y="974.9" font-size="6.3" text-anchor="middle" fill="#333" font-weight="bold" transform="translate(215.9 974.9) scale(0.50 1) translate(-215.9 -974.9)">1</text>
<text x="79.8" y="1041.5" font-size="10.5" text-anchor="middle" fill="#222" font-weight="bold" font-weight="bold" transform="translate(79.8 1041.5) scale(0.6 1) translate(-79.8 -1041.5)">CO2</text>
<text x="161.9" y="1038.3" font-size="10.5" text-anchor="middle" fill="#222" font-weight="bold" font-weight="bold" transform="translate(161.9 1038.3) scale(0.6 1) translate(-161.9 -1038.3)">PUN</text>
<defs><pattern id="m6f" patternUnits="userSpaceOnUse" width="100" height="100" patternTransform="matrix(0.0622 0.0307 0.0519 -0.0355 16.20 975.50)"><path d="M0 0V100M100 0V100M0 0H100M0 100H100" stroke="#000" stroke-opacity="0.55" stroke-width="12" fill="none"/></pattern><pattern id="m6u" patternUnits="userSpaceOnUse" width="100" height="100" patternTransform="matrix(0.0622 0.0307 0.0000 0.0500 16.20 975.50)"><path d="M0 0V100M100 0V100" stroke="#000" stroke-opacity="0.55" stroke-width="12" fill="none"/></pattern><pattern id="m6v" patternUnits="userSpaceOnUse" width="100" height="100" patternTransform="matrix(0.0519 -0.0355 0.0000 0.0500 16.20 975.50)"><path d="M0 0V100M100 0V100" stroke="#000" stroke-opacity="0.55" stroke-width="12" fill="none"/></pattern><pattern id="m6w" patternUnits="userSpaceOnUse" width="100" height="100" patternTransform="matrix(0.0622 0.0307 0.0000 0.0600 16.20 975.50)"><path d="M0 0V100M100 0V100M0 0H100M0 100H100" stroke="#000" stroke-opacity="0.55" stroke-width="12" fill="none"/></pattern></defs>
<polygon points="58.0,933.0 66.0,929.0 84.0,921.0 87.6,892.8 103.1,884.1 123.8,894.5 129.0,892.8 147.9,892.8 154.8,894.5 161.7,911.7 172.0,916.9 189.3,922.1 199.7,919.3 192.8,927.2 182.4,932.4 180.8,942.8 177.4,956.6 169.0,971.7 136.4,988.0 129.2,986.1 123.3,977.9 106.1,973.0 91.3,969.3 74.0,964.4 55.6,959.5 42.0,952.1 30.9,938.5" fill="#0620f2" stroke="#0620f2" stroke-width="0.6" stroke-linejoin="round"/>
<polygon points="58.0,933.0 66.0,929.0 84.0,921.0 87.6,892.8 103.1,884.1 123.8,894.5 129.0,892.8 147.9,892.8 154.8,894.5 161.7,911.7 172.0,916.9 189.3,922.1 199.7,919.3 192.8,927.2 182.4,932.4 180.8,942.8 177.4,956.6 169.0,971.7 136.4,988.0 129.2,986.1 123.3,977.9 106.1,973.0 91.3,969.3 74.0,964.4 55.6,959.5 42.0,952.1 30.9,938.5" fill="url(#m6f)"/>
<polygon points="62.0,933.0 84.0,922.0 88.3,926.2 100.0,931.0 119.9,936.0 113.0,939.0 100.0,945.0 85.0,946.0 75.0,938.0" fill="#0208c0" stroke="#0208c0" stroke-width="0.6" stroke-linejoin="round"/>
<polygon points="62.0,933.0 84.0,922.0 88.3,926.2 100.0,931.0 119.9,936.0 113.0,939.0 100.0,945.0 85.0,946.0 75.0,938.0" fill="url(#m6f)"/>
<polygon points="87.6,893.0 120.0,906.6 120.0,936.0 100.0,931.0 88.3,926.2" fill="#0414d8" stroke="#0414d8" stroke-width="0.6" stroke-linejoin="round"/>
<polygon points="87.6,893.0 120.0,906.6 120.0,936.0 100.0,931.0 88.3,926.2" fill="url(#m6u)"/>
<polygon points="120.0,906.6 130.7,906.6 141.0,908.3 144.5,918.6 154.8,927.2 168.6,929.0 182.4,932.4 180.8,942.8 177.4,956.6 165.9,956.6 149.8,952.0 136.0,947.4 120.0,935.9" fill="#1a86ff" stroke="#1a86ff" stroke-width="0.6" stroke-linejoin="round"/>
<polygon points="120.0,906.6 130.7,906.6 141.0,908.3 144.5,918.6 154.8,927.2 168.6,929.0 182.4,932.4 180.8,942.8 177.4,956.6 165.9,956.6 149.8,952.0 136.0,947.4 120.0,935.9" fill="url(#m6u)"/>
<polygon points="120.0,906.6 130.7,906.6 135.0,920.0 136.0,947.4 120.0,935.9" fill="#0414d8" stroke="#0414d8" stroke-width="0.6" stroke-linejoin="round"/>
<polygon points="120.0,906.6 130.7,906.6 135.0,920.0 136.0,947.4 120.0,935.9" fill="url(#m6u)"/>
<polygon points="113.0,939.0 125.0,937.0 136.0,945.0 130.0,948.0 118.0,944.0" fill="#1a86ff" stroke="#1a86ff" stroke-width="0.6" stroke-linejoin="round"/>
<polygon points="113.0,939.0 125.0,937.0 136.0,945.0 130.0,948.0 118.0,944.0" fill="url(#m6f)"/>
<polygon points="87.6,892.8 103.1,884.1 123.8,894.5 129.0,892.8 147.9,892.8 154.8,894.5 161.7,911.7 172.0,916.9 189.3,922.1 199.7,919.3 192.8,927.2 182.4,932.4 168.6,929.0 154.8,927.2 144.5,918.6 141.0,908.3 130.7,906.6 120.3,906.6 89.3,897.9" fill="#b8f060" stroke="#b8f060" stroke-width="0.6" stroke-linejoin="round"/>
<polygon points="87.6,892.8 103.1,884.1 123.8,894.5 129.0,892.8 147.9,892.8 154.8,894.5 161.7,911.7 172.0,916.9 189.3,922.1 199.7,919.3 192.8,927.2 182.4,932.4 168.6,929.0 154.8,927.2 144.5,918.6 141.0,908.3 130.7,906.6 120.3,906.6 89.3,897.9" fill="url(#m6f)"/>
<polygon points="129.0,893.5 147.9,893.5 154.8,895.0 152.0,900.0 140.0,901.0 130.0,899.0" fill="#f6ee10" stroke="#f6ee10" stroke-width="0.6" stroke-linejoin="round"/>
<polygon points="129.0,893.5 147.9,893.5 154.8,895.0 152.0,900.0 140.0,901.0 130.0,899.0" fill="url(#m6f)"/>
<polygon points="144.5,912.0 150.0,912.0 161.7,920.0 172.0,924.0 182.4,926.0 192.8,927.2 182.4,932.4 168.6,929.0 154.8,927.2 144.5,918.6" fill="#86f4a6" stroke="#86f4a6" stroke-width="0.6" stroke-linejoin="round"/>
<polygon points="144.5,912.0 150.0,912.0 161.7,920.0 172.0,924.0 182.4,926.0 192.8,927.2 182.4,932.4 168.6,929.0 154.8,927.2 144.5,918.6" fill="url(#m6f)"/>
<polygon points="176.0,919.5 189.3,922.1 199.7,919.3 195.0,924.0 185.0,925.0" fill="#f6ee10" stroke="#f6ee10" stroke-width="0.6" stroke-linejoin="round"/>
<polygon points="176.0,919.5 189.3,922.1 199.7,919.3 195.0,924.0 185.0,925.0" fill="url(#m6f)"/>
<polygon points="190.5,919.6 199.7,919.3 195.5,924.5 190.0,923.0" fill="#ff9a10" stroke="#ff9a10" stroke-width="0.6" stroke-linejoin="round"/>
<polygon points="190.5,919.6 199.7,919.3 195.5,924.5 190.0,923.0" fill="url(#m6f)"/>
<polygon points="137.5,903.0 142.6,903.0 143.0,906.5 138.0,906.5" fill="#ff9a10" stroke="#ff9a10" stroke-width="0.6" stroke-linejoin="round"/>
<polygon points="137.5,903.0 142.6,903.0 143.0,906.5 138.0,906.5" fill="url(#m6f)"/>
<polygon points="40.8,950.8 51.7,956.3 66.1,960.8 78.8,963.5 89.6,969.8 102.3,973.4 114.9,977.9 125.7,981.5 134.8,987.5 125.7,985.5 116.7,982.5 102.3,976.0 87.8,971.5 73.4,967.0 58.9,962.0 51.7,958.5" fill="#2ee4f2" stroke="#2ee4f2" stroke-width="0.6" stroke-linejoin="round"/>
<polygon points="40.8,950.8 51.7,956.3 66.1,960.8 78.8,963.5 89.6,969.8 102.3,973.4 114.9,977.9 125.7,981.5 134.8,987.5 125.7,985.5 116.7,982.5 102.3,976.0 87.8,971.5 73.4,967.0 58.9,962.0 51.7,958.5" fill="url(#m6f)"/>
<polygon points="89.6,969.8 102.3,973.4 114.9,977.9 125.7,981.5 134.8,987.5 125.7,985.5 116.7,982.5 102.3,976.0 87.8,971.5" fill="#86f4a6" stroke="#86f4a6" stroke-width="0.6" stroke-linejoin="round"/>
<polygon points="89.6,969.8 102.3,973.4 114.9,977.9 125.7,981.5 134.8,987.5 125.7,985.5 116.7,982.5 102.3,976.0 87.8,971.5" fill="url(#m6f)"/>
<polygon points="26.0,912.7 32.2,915.1 37.1,927.4 47.0,929.9 51.9,929.2 66.7,932.4 74.0,937.3 81.4,944.7 88.8,948.4 98.7,952.1 103.6,953.8 123.3,958.2 125.7,981.5 114.9,977.9 102.3,973.4 89.6,969.8 78.8,963.5 66.1,960.8 51.7,956.3 40.8,950.8 30.9,938.5" fill="#e81a0a" stroke="#e81a0a" stroke-width="0.6" stroke-linejoin="round"/>
<polygon points="26.0,912.7 32.2,915.1 37.1,927.4 47.0,929.9 51.9,929.2 66.7,932.4 74.0,937.3 81.4,944.7 88.8,948.4 98.7,952.1 103.6,953.8 123.3,958.2 125.7,981.5 114.9,977.9 102.3,973.4 89.6,969.8 78.8,963.5 66.1,960.8 51.7,956.3 40.8,950.8 30.9,938.5" fill="url(#m6u)"/>
<polygon points="26.0,912.7 32.2,915.1 35.0,926.0 30.9,938.5" fill="#9c0404" stroke="#9c0404" stroke-width="0.6" stroke-linejoin="round"/>
<polygon points="26.0,912.7 32.2,915.1 35.0,926.0 30.9,938.5" fill="url(#m6u)"/>
<polygon points="49.0,929.5 56.0,930.0 57.0,958.6 52.0,957.0" fill="#9c0404" stroke="#9c0404" stroke-width="0.6" stroke-linejoin="round"/>
<polygon points="49.0,929.5 56.0,930.0 57.0,958.6 52.0,957.0" fill="url(#m6u)"/>
<polygon points="68.0,933.0 77.7,939.5 78.0,963.5 69.0,961.5" fill="#9c0404" stroke="#9c0404" stroke-width="0.6" stroke-linejoin="round"/>
<polygon points="68.0,933.0 77.7,939.5 78.0,963.5 69.0,961.5" fill="url(#m6u)"/>
<polygon points="101.0,953.0 123.3,958.2 125.7,981.5 102.3,973.4" fill="#9c0404" stroke="#9c0404" stroke-width="0.6" stroke-linejoin="round"/>
<polygon points="101.0,953.0 123.3,958.2 125.7,981.5 102.3,973.4" fill="url(#m6u)"/>
<rect x="217.1" y="847.9" width="4.900000000000006" height="180.30000000000007" fill="url(#jet)"/>
<line x1="222.0" y1="860.0" x2="223.0" y2="860.0" stroke="#808080" stroke-width="0.5"/>
<text x="223.6" y="862.1" font-size="6.2" text-anchor="start" fill="#333" font-weight="bold" transform="translate(223.6 862.1) scale(0.46 1) translate(-223.6 -862.1)">1</text>
<line x1="222.0" y1="883.5" x2="223.0" y2="883.5" stroke="#808080" stroke-width="0.5"/>
<text x="223.6" y="885.6" font-size="6.2" text-anchor="start" fill="#333" font-weight="bold" transform="translate(223.6 885.6) scale(0.46 1) translate(-223.6 -885.6)">0</text>
<line x1="222.0" y1="907.0" x2="223.0" y2="907.0" stroke="#808080" stroke-width="0.5"/>
<text x="223.6" y="909.1" font-size="6.2" text-anchor="start" fill="#333" font-weight="bold" transform="translate(223.6 909.1) scale(0.46 1) translate(-223.6 -909.1)">-1</text>
<line x1="222.0" y1="930.5" x2="223.0" y2="930.5" stroke="#808080" stroke-width="0.5"/>
<text x="223.6" y="932.6" font-size="6.2" text-anchor="start" fill="#333" font-weight="bold" transform="translate(223.6 932.6) scale(0.46 1) translate(-223.6 -932.6)">-2</text>
<line x1="222.0" y1="954.0" x2="223.0" y2="954.0" stroke="#808080" stroke-width="0.5"/>
<text x="223.6" y="956.1" font-size="6.2" text-anchor="start" fill="#333" font-weight="bold" transform="translate(223.6 956.1) scale(0.46 1) translate(-223.6 -956.1)">-3</text>
<line x1="222.0" y1="977.5" x2="223.0" y2="977.5" stroke="#808080" stroke-width="0.5"/>
<text x="223.6" y="979.6" font-size="6.2" text-anchor="start" fill="#333" font-weight="bold" transform="translate(223.6 979.6) scale(0.46 1) translate(-223.6 -979.6)">-4</text>
<line x1="222.0" y1="1001.0" x2="223.0" y2="1001.0" stroke="#808080" stroke-width="0.5"/>
<text x="223.6" y="1003.1" font-size="6.2" text-anchor="start" fill="#333" font-weight="bold" transform="translate(223.6 1003.1) scale(0.46 1) translate(-223.6 -1003.1)">-5</text>
<line x1="222.0" y1="1024.5" x2="223.0" y2="1024.5" stroke="#808080" stroke-width="0.5"/>
<text x="223.6" y="1026.6" font-size="6.2" text-anchor="start" fill="#333" font-weight="bold" transform="translate(223.6 1026.6) scale(0.46 1) translate(-223.6 -1026.6)">-6</text>
<line x1="345.5" y1="996.7" x2="464.5" y2="1024.2" stroke="#ececec" stroke-width="0.5"/>
<line x1="360.0" y1="988.0" x2="479.0" y2="1015.5" stroke="#ececec" stroke-width="0.5"/>
<line x1="374.6" y1="979.2" x2="493.6" y2="1006.7" stroke="#ececec" stroke-width="0.5"/>
<line x1="389.1" y1="970.5" x2="508.1" y2="998.0" stroke="#ececec" stroke-width="0.5"/>
<line x1="342.9" y1="1008.2" x2="415.5" y2="964.5" stroke="#ececec" stroke-width="0.5"/>
<line x1="354.8" y1="1011.0" x2="427.4" y2="967.2" stroke="#ececec" stroke-width="0.5"/>
<line x1="366.7" y1="1013.8" x2="439.3" y2="970.0" stroke="#ececec" stroke-width="0.5"/>
<line x1="378.6" y1="1016.5" x2="451.2" y2="972.7" stroke="#ececec" stroke-width="0.5"/>
<line x1="390.5" y1="1019.2" x2="463.1" y2="975.5" stroke="#ececec" stroke-width="0.5"/>
<line x1="402.4" y1="1022.0" x2="475.0" y2="978.2" stroke="#ececec" stroke-width="0.5"/>
<line x1="414.3" y1="1024.8" x2="486.9" y2="981.0" stroke="#ececec" stroke-width="0.5"/>
<line x1="426.2" y1="1027.5" x2="498.8" y2="983.7" stroke="#ececec" stroke-width="0.5"/>
<line x1="438.1" y1="1030.2" x2="510.7" y2="986.5" stroke="#ececec" stroke-width="0.5"/>
<line x1="331.0" y1="1005.5" x2="331.0" y2="907.5" stroke="#ececec" stroke-width="0.5"/>
<line x1="345.5" y1="996.7" x2="345.5" y2="898.7" stroke="#ececec" stroke-width="0.5"/>
<line x1="360.0" y1="988.0" x2="360.0" y2="890.0" stroke="#ececec" stroke-width="0.5"/>
<line x1="374.6" y1="979.2" x2="374.6" y2="881.2" stroke="#ececec" stroke-width="0.5"/>
<line x1="389.1" y1="970.5" x2="389.1" y2="872.5" stroke="#ececec" stroke-width="0.5"/>
<line x1="403.6" y1="961.7" x2="403.6" y2="863.7" stroke="#ececec" stroke-width="0.5"/>
<line x1="331.0" y1="1005.5" x2="403.6" y2="961.7" stroke="#ececec" stroke-width="0.5"/>
<line x1="331.0" y1="981.0" x2="403.6" y2="937.2" stroke="#ececec" stroke-width="0.5"/>
<line x1="331.0" y1="956.5" x2="403.6" y2="912.7" stroke="#ececec" stroke-width="0.5"/>
<line x1="331.0" y1="932.0" x2="403.6" y2="888.2" stroke="#ececec" stroke-width="0.5"/>
<line x1="331.0" y1="907.5" x2="403.6" y2="863.7" stroke="#ececec" stroke-width="0.5"/>
<line x1="403.6" y1="961.7" x2="403.6" y2="863.7" stroke="#ececec" stroke-width="0.5"/>
<line x1="415.5" y1="964.5" x2="415.5" y2="866.5" stroke="#ececec" stroke-width="0.5"/>
<line x1="427.4" y1="967.2" x2="427.4" y2="869.2" stroke="#ececec" stroke-width="0.5"/>
<line x1="439.3" y1="970.0" x2="439.3" y2="872.0" stroke="#ececec" stroke-width="0.5"/>
<line x1="451.2" y1="972.7" x2="451.2" y2="874.7" stroke="#ececec" stroke-width="0.5"/>
<line x1="463.1" y1="975.5" x2="463.1" y2="877.5" stroke="#ececec" stroke-width="0.5"/>
<line x1="475.0" y1="978.2" x2="475.0" y2="880.2" stroke="#ececec" stroke-width="0.5"/>
<line x1="486.9" y1="981.0" x2="486.9" y2="883.0" stroke="#ececec" stroke-width="0.5"/>
<line x1="498.8" y1="983.7" x2="498.8" y2="885.7" stroke="#ececec" stroke-width="0.5"/>
<line x1="510.7" y1="986.5" x2="510.7" y2="888.5" stroke="#ececec" stroke-width="0.5"/>
<line x1="522.6" y1="989.2" x2="522.6" y2="891.2" stroke="#ececec" stroke-width="0.5"/>
<line x1="403.6" y1="961.7" x2="522.6" y2="989.2" stroke="#ececec" stroke-width="0.5"/>
<line x1="403.6" y1="937.2" x2="522.6" y2="964.7" stroke="#ececec" stroke-width="0.5"/>
<line x1="403.6" y1="912.7" x2="522.6" y2="940.2" stroke="#ececec" stroke-width="0.5"/>
<line x1="403.6" y1="888.2" x2="522.6" y2="915.7" stroke="#ececec" stroke-width="0.5"/>
<line x1="403.6" y1="863.7" x2="522.6" y2="891.2" stroke="#ececec" stroke-width="0.5"/>
<line x1="331.0" y1="1005.5" x2="331.0" y2="907.5" stroke="#808080" stroke-width="0.7"/>
<line x1="331.0" y1="1005.5" x2="450.0" y2="1033.0" stroke="#808080" stroke-width="0.7"/>
<line x1="450.0" y1="1033.0" x2="522.6" y2="989.2" stroke="#808080" stroke-width="0.7"/>
<line x1="331.0" y1="1005.5" x2="329.5" y2="1005.5" stroke="#808080" stroke-width="0.6"/>
<text x="327.5" y="1007.7" font-size="6.3" text-anchor="end" fill="#333" font-weight="bold" transform="translate(327.5 1007.7) scale(0.50 1) translate(-327.5 -1007.7)">-4</text>
<line x1="331.0" y1="981.0" x2="329.5" y2="981.0" stroke="#808080" stroke-width="0.6"/>
<text x="327.5" y="983.2" font-size="6.3" text-anchor="end" fill="#333" font-weight="bold" transform="translate(327.5 983.2) scale(0.50 1) translate(-327.5 -983.2)">-2</text>
<line x1="331.0" y1="956.5" x2="329.5" y2="956.5" stroke="#808080" stroke-width="0.6"/>
<text x="327.5" y="958.7" font-size="6.3" text-anchor="end" fill="#333" font-weight="bold" transform="translate(327.5 958.7) scale(0.50 1) translate(-327.5 -958.7)">0</text>
<line x1="331.0" y1="932.0" x2="329.5" y2="932.0" stroke="#808080" stroke-width="0.6"/>
<text x="327.5" y="934.2" font-size="6.3" text-anchor="end" fill="#333" font-weight="bold" transform="translate(327.5 934.2) scale(0.50 1) translate(-327.5 -934.2)">2</text>
<line x1="331.0" y1="907.5" x2="329.5" y2="907.5" stroke="#808080" stroke-width="0.6"/>
<text x="327.5" y="909.7" font-size="6.3" text-anchor="end" fill="#333" font-weight="bold" transform="translate(327.5 909.7) scale(0.50 1) translate(-327.5 -909.7)">4</text>
<text x="324.0" y="1014.3" font-size="6.3" text-anchor="middle" fill="#333" font-weight="bold" transform="translate(324.0 1014.3) scale(0.50 1) translate(-324.0 -1014.3)">1</text>
<text x="335.9" y="1017.0" font-size="6.3" text-anchor="middle" fill="#333" font-weight="bold" transform="translate(335.9 1017.0) scale(0.50 1) translate(-335.9 -1017.0)">0.9</text>
<line x1="342.9" y1="1008.2" x2="340.7" y2="1009.6" stroke="#777" stroke-width="0.6"/>
<text x="347.8" y="1019.8" font-size="6.3" text-anchor="middle" fill="#333" font-weight="bold" transform="translate(347.8 1019.8) scale(0.50 1) translate(-347.8 -1019.8)">0.8</text>
<line x1="354.8" y1="1011.0" x2="352.6" y2="1012.3" stroke="#777" stroke-width="0.6"/>
<text x="359.7" y="1022.5" font-size="6.3" text-anchor="middle" fill="#333" font-weight="bold" transform="translate(359.7 1022.5) scale(0.50 1) translate(-359.7 -1022.5)">0.7</text>
<line x1="366.7" y1="1013.8" x2="364.5" y2="1015.1" stroke="#777" stroke-width="0.6"/>
<text x="371.6" y="1025.3" font-size="6.3" text-anchor="middle" fill="#333" font-weight="bold" transform="translate(371.6 1025.3) scale(0.50 1) translate(-371.6 -1025.3)">0.6</text>
<line x1="378.6" y1="1016.5" x2="376.4" y2="1017.8" stroke="#777" stroke-width="0.6"/>
<text x="383.5" y="1028.0" font-size="6.3" text-anchor="middle" fill="#333" font-weight="bold" transform="translate(383.5 1028.0) scale(0.50 1) translate(-383.5 -1028.0)">0.5</text>
<line x1="390.5" y1="1019.2" x2="388.3" y2="1020.6" stroke="#777" stroke-width="0.6"/>
<text x="395.4" y="1030.8" font-size="6.3" text-anchor="middle" fill="#333" font-weight="bold" transform="translate(395.4 1030.8) scale(0.50 1) translate(-395.4 -1030.8)">0.4</text>
<line x1="402.4" y1="1022.0" x2="400.2" y2="1023.3" stroke="#777" stroke-width="0.6"/>
<text x="407.3" y="1033.5" font-size="6.3" text-anchor="middle" fill="#333" font-weight="bold" transform="translate(407.3 1033.5) scale(0.50 1) translate(-407.3 -1033.5)">0.3</text>
<line x1="414.3" y1="1024.8" x2="412.1" y2="1026.1" stroke="#777" stroke-width="0.6"/>
<text x="419.2" y="1036.3" font-size="6.3" text-anchor="middle" fill="#333" font-weight="bold" transform="translate(419.2 1036.3) scale(0.50 1) translate(-419.2 -1036.3)">0.2</text>
<line x1="426.2" y1="1027.5" x2="424.0" y2="1028.8" stroke="#777" stroke-width="0.6"/>
<text x="431.1" y="1039.0" font-size="6.3" text-anchor="middle" fill="#333" font-weight="bold" transform="translate(431.1 1039.0) scale(0.50 1) translate(-431.1 -1039.0)">0.1</text>
<line x1="438.1" y1="1030.2" x2="435.9" y2="1031.6" stroke="#777" stroke-width="0.6"/>
<text x="443.0" y="1041.8" font-size="6.3" text-anchor="middle" fill="#333" font-weight="bold" transform="translate(443.0 1041.8) scale(0.50 1) translate(-443.0 -1041.8)">0</text>
<text x="455.6" y="1040.6" font-size="6.3" text-anchor="middle" fill="#333" font-weight="bold" transform="translate(455.6 1040.6) scale(0.50 1) translate(-455.6 -1040.6)">0</text>
<text x="470.1" y="1031.8" font-size="6.3" text-anchor="middle" fill="#333" font-weight="bold" transform="translate(470.1 1031.8) scale(0.50 1) translate(-470.1 -1031.8)">0.2</text>
<line x1="464.5" y1="1024.2" x2="467.1" y2="1024.8" stroke="#777" stroke-width="0.6"/>
<text x="484.6" y="1023.1" font-size="6.3" text-anchor="middle" fill="#333" font-weight="bold" transform="translate(484.6 1023.1) scale(0.50 1) translate(-484.6 -1023.1)">0.4</text>
<line x1="479.0" y1="1015.5" x2="481.6" y2="1016.1" stroke="#777" stroke-width="0.6"/>
<text x="499.2" y="1014.3" font-size="6.3" text-anchor="middle" fill="#333" font-weight="bold" transform="translate(499.2 1014.3) scale(0.50 1) translate(-499.2 -1014.3)">0.6</text>
<line x1="493.6" y1="1006.7" x2="496.1" y2="1007.3" stroke="#777" stroke-width="0.6"/>
<text x="513.7" y="1005.6" font-size="6.3" text-anchor="middle" fill="#333" font-weight="bold" transform="translate(513.7 1005.6) scale(0.50 1) translate(-513.7 -1005.6)">0.8</text>
<line x1="508.1" y1="998.0" x2="510.6" y2="998.5" stroke="#777" stroke-width="0.6"/>
<text x="528.2" y="996.8" font-size="6.3" text-anchor="middle" fill="#333" font-weight="bold" transform="translate(528.2 996.8) scale(0.50 1) translate(-528.2 -996.8)">1</text>
<text x="402.5" y="1050.0" font-size="10.5" text-anchor="middle" fill="#222" font-weight="bold" font-weight="bold" transform="translate(402.5 1050.0) scale(0.6 1) translate(-402.5 -1050.0)">CO2</text>
<text x="485.4" y="1046.5" font-size="10.5" text-anchor="middle" fill="#222" font-weight="bold" font-weight="bold" transform="translate(485.4 1046.5) scale(0.6 1) translate(-485.4 -1046.5)">PUN</text>
<defs><pattern id="m7f" patternUnits="userSpaceOnUse" width="100" height="100" patternTransform="matrix(0.0700 0.0162 0.0427 -0.0258 331.00 1005.50)"><path d="M0 0V100M100 0V100M0 0H100M0 100H100" stroke="#000" stroke-opacity="0.55" stroke-width="12" fill="none"/></pattern><pattern id="m7u" patternUnits="userSpaceOnUse" width="100" height="100" patternTransform="matrix(0.0700 0.0162 0.0000 0.0500 331.00 1005.50)"><path d="M0 0V100M100 0V100" stroke="#000" stroke-opacity="0.55" stroke-width="12" fill="none"/></pattern><pattern id="m7v" patternUnits="userSpaceOnUse" width="100" height="100" patternTransform="matrix(0.0427 -0.0258 0.0000 0.0500 331.00 1005.50)"><path d="M0 0V100M100 0V100" stroke="#000" stroke-opacity="0.55" stroke-width="12" fill="none"/></pattern><pattern id="m7w" patternUnits="userSpaceOnUse" width="100" height="100" patternTransform="matrix(0.0700 0.0162 0.0000 0.0600 331.00 1005.50)"><path d="M0 0V100M100 0V100M0 0H100M0 100H100" stroke="#000" stroke-opacity="0.55" stroke-width="12" fill="none"/></pattern></defs>
<polygon points="361.2,912.4 372.7,917.3 379.3,914.0 387.5,914.0 395.7,912.4 400.6,914.0 405.5,915.7 415.4,920.6 428.5,920.6 441.7,923.9 448.2,923.9 451.5,920.6 467.9,922.2 474.5,930.5 465.0,943.0 455.0,950.0 454.8,984.6 428.5,988.0 422.0,981.4 408.8,984.6 382.5,978.1 379.3,961.7 366.1,958.4" fill="#5ef2e0" stroke="#5ef2e0" stroke-width="0.6" stroke-linejoin="round"/>
<polygon points="361.2,912.4 372.7,917.3 379.3,914.0 387.5,914.0 395.7,912.4 400.6,914.0 405.5,915.7 415.4,920.6 428.5,920.6 441.7,923.9 448.2,923.9 451.5,920.6 467.9,922.2 474.5,930.5 465.0,943.0 455.0,950.0 454.8,984.6 428.5,988.0 422.0,981.4 408.8,984.6 382.5,978.1 379.3,961.7 366.1,958.4" fill="url(#m7f)"/>
<polygon points="376.7,957.0 395.0,957.0 410.0,952.0 430.0,950.0 451.1,952.2 442.0,954.5 435.1,972.9 428.2,977.5 419.0,982.1 408.8,984.6 382.5,978.1" fill="#2ee4f2" stroke="#2ee4f2" stroke-width="0.6" stroke-linejoin="round"/>
<polygon points="376.7,957.0 395.0,957.0 410.0,952.0 430.0,950.0 451.1,952.2 442.0,954.5 435.1,972.9 428.2,977.5 419.0,982.1 408.8,984.6 382.5,978.1" fill="url(#m7f)"/>
<polygon points="378.0,966.0 388.0,969.0 387.0,978.0 381.0,976.0" fill="#1a86ff" stroke="#1a86ff" stroke-width="0.6" stroke-linejoin="round"/>
<polygon points="378.0,966.0 388.0,969.0 387.0,978.0 381.0,976.0" fill="url(#m7f)"/>
<polygon points="430.0,948.0 446.0,949.0 451.0,953.0 442.0,954.5 437.0,968.0 433.0,960.0" fill="#1a86ff" stroke="#1a86ff" stroke-width="0.6" stroke-linejoin="round"/>
<polygon points="430.0,948.0 446.0,949.0 451.0,953.0 442.0,954.5 437.0,968.0 433.0,960.0" fill="url(#m7u)"/>
<polygon points="376.7,917.7 385.0,916.0 392.4,913.0 400.6,914.0 404.3,917.7 404.3,945.0 400.0,957.0 376.7,957.0" fill="#86f4a6" stroke="#86f4a6" stroke-width="0.6" stroke-linejoin="round"/>
<polygon points="376.7,917.7 385.0,916.0 392.4,913.0 400.6,914.0 404.3,917.7 404.3,945.0 400.0,957.0 376.7,957.0" fill="url(#m7u)"/>
<polygon points="392.0,930.0 404.3,925.0 404.3,950.0 396.0,955.0" fill="#5ef2e0" stroke="#5ef2e0" stroke-width="0.6" stroke-linejoin="round"/>
<polygon points="392.0,930.0 404.3,925.0 404.3,950.0 396.0,955.0" fill="url(#m7u)"/>
<polygon points="359.0,911.8 364.9,913.8 372.7,917.3 376.7,917.7 376.7,959.0 366.1,958.4 361.0,950.0" fill="#b8f060" stroke="#b8f060" stroke-width="0.6" stroke-linejoin="round"/>
<polygon points="359.0,911.8 364.9,913.8 372.7,917.3 376.7,917.7 376.7,959.0 366.1,958.4 361.0,950.0" fill="url(#m7u)"/>
<polygon points="377.7,915.8 385.0,914.5 390.5,916.0 388.0,921.7 379.0,921.0" fill="#ff9a10" stroke="#ff9a10" stroke-width="0.6" stroke-linejoin="round"/>
<polygon points="377.7,915.8 385.0,914.5 390.5,916.0 388.0,921.7 379.0,921.0" fill="url(#m7f)"/>
<polygon points="364.9,913.8 370.8,914.5 370.0,917.7 366.0,917.5" fill="#e81a0a" stroke="#e81a0a" stroke-width="0.6" stroke-linejoin="round"/>
<polygon points="364.9,913.8 370.8,914.5 370.0,917.7 366.0,917.5" fill="url(#m7f)"/>
<polygon points="392.4,912.8 400.6,914.0 404.3,917.7 404.0,925.6 397.0,925.0" fill="#f6ee10" stroke="#f6ee10" stroke-width="0.6" stroke-linejoin="round"/>
<polygon points="392.4,912.8 400.6,914.0 404.3,917.7 404.0,925.6 397.0,925.0" fill="url(#m7f)"/>
<polygon points="393.0,913.5 398.0,913.0 399.0,917.0 394.0,918.0" fill="#ff9a10" stroke="#ff9a10" stroke-width="0.6" stroke-linejoin="round"/>
<polygon points="393.0,913.5 398.0,913.0 399.0,917.0 394.0,918.0" fill="url(#m7f)"/>
<polygon points="404.0,938.0 420.0,940.0 443.7,944.0 447.0,949.0 430.0,950.0 410.0,948.0 402.0,945.0" fill="#b8f060" stroke="#b8f060" stroke-width="0.6" stroke-linejoin="round"/>
<polygon points="404.0,938.0 420.0,940.0 443.7,944.0 447.0,949.0 430.0,950.0 410.0,948.0 402.0,945.0" fill="url(#m7f)"/>
<polygon points="341.1,909.3 345.3,907.5 361.4,911.6 359.1,914.4 356.8,930.5 354.5,929.3 352.2,919.0 347.6,915.5" fill="#9c0404" stroke="#9c0404" stroke-width="0.6" stroke-linejoin="round"/>
<polygon points="341.1,909.3 345.3,907.5 361.4,911.6 359.1,914.4 356.8,930.5 354.5,929.3 352.2,919.0 347.6,915.5" fill="url(#m7u)"/>
<polygon points="350.0,917.0 356.0,916.0 357.0,930.0 354.5,929.3" fill="#e81a0a" stroke="#e81a0a" stroke-width="0.6" stroke-linejoin="round"/>
<polygon points="350.0,917.0 356.0,916.0 357.0,930.0 354.5,929.3" fill="url(#m7u)"/>
<polygon points="419.0,982.1 428.2,977.5 435.1,972.9 442.0,954.5 451.1,952.2 465.0,943.0 474.1,933.8 478.7,930.3 484.4,933.7 497.5,938.7 512.3,943.6 494.2,945.2 477.8,945.2 471.2,961.7 467.9,978.1 464.6,997.8 458.1,1014.2 448.2,1017.5 428.5,1014.2 425.2,987.9" fill="#0620f2" stroke="#0620f2" stroke-width="0.6" stroke-linejoin="round"/>
<polygon points="419.0,982.1 428.2,977.5 435.1,972.9 442.0,954.5 451.1,952.2 465.0,943.0 474.1,933.8 478.7,930.3 484.4,933.7 497.5,938.7 512.3,943.6 494.2,945.2 477.8,945.2 471.2,961.7 467.9,978.1 464.6,997.8 458.1,1014.2 448.2,1017.5 428.5,1014.2 425.2,987.9" fill="url(#m7f)"/>
<polygon points="425.2,987.9 440.0,985.0 455.0,980.0 467.9,978.1 464.6,997.8 458.1,1014.2 448.2,1017.5 428.5,1014.2" fill="#0620f2" stroke="#0620f2" stroke-width="0.6" stroke-linejoin="round"/>
<polygon points="425.2,987.9 440.0,985.0 455.0,980.0 467.9,978.1 464.6,997.8 458.1,1014.2 448.2,1017.5 428.5,1014.2" fill="url(#m7w)"/>
<polygon points="452.0,953.0 465.0,944.0 474.0,936.0 480.0,940.0 475.0,955.0 470.0,965.0 460.0,968.0 452.0,966.0" fill="#0414d8" stroke="#0414d8" stroke-width="0.6" stroke-linejoin="round"/>
<polygon points="452.0,953.0 465.0,944.0 474.0,936.0 480.0,940.0 475.0,955.0 470.0,965.0 460.0,968.0 452.0,966.0" fill="url(#m7f)"/>
<polygon points="446.6,938.4 448.9,924.6 451.5,920.6 467.9,922.2 474.5,930.5 465.0,943.0 451.1,952.2" fill="#86f4a6" stroke="#86f4a6" stroke-width="0.6" stroke-linejoin="round"/>
<polygon points="446.6,938.4 448.9,924.6 451.5,920.6 467.9,922.2 474.5,930.5 465.0,943.0 451.1,952.2" fill="url(#m7f)"/>
<rect x="529.9" y="863.1" width="5.100000000000023" height="170.4999999999999" fill="url(#jet)"/>
<line x1="535.0" y1="883.2" x2="536.0" y2="883.2" stroke="#808080" stroke-width="0.5"/>
<text x="536.6" y="885.3" font-size="6.2" text-anchor="start" fill="#333" font-weight="bold" transform="translate(536.6 885.3) scale(0.46 1) translate(-536.6 -885.3)">3</text>
<line x1="535.0" y1="906.7" x2="536.0" y2="906.7" stroke="#808080" stroke-width="0.5"/>
<text x="536.6" y="908.8" font-size="6.2" text-anchor="start" fill="#333" font-weight="bold" transform="translate(536.6 908.8) scale(0.46 1) translate(-536.6 -908.8)">2</text>
<line x1="535.0" y1="930.2" x2="536.0" y2="930.2" stroke="#808080" stroke-width="0.5"/>
<text x="536.6" y="932.3" font-size="6.2" text-anchor="start" fill="#333" font-weight="bold" transform="translate(536.6 932.3) scale(0.46 1) translate(-536.6 -932.3)">1</text>
<line x1="535.0" y1="953.7" x2="536.0" y2="953.7" stroke="#808080" stroke-width="0.5"/>
<text x="536.6" y="955.8" font-size="6.2" text-anchor="start" fill="#333" font-weight="bold" transform="translate(536.6 955.8) scale(0.46 1) translate(-536.6 -955.8)">0</text>
<line x1="535.0" y1="977.2" x2="536.0" y2="977.2" stroke="#808080" stroke-width="0.5"/>
<text x="536.6" y="979.3" font-size="6.2" text-anchor="start" fill="#333" font-weight="bold" transform="translate(536.6 979.3) scale(0.46 1) translate(-536.6 -979.3)">-1</text>
<line x1="535.0" y1="1000.7" x2="536.0" y2="1000.7" stroke="#808080" stroke-width="0.5"/>
<text x="536.6" y="1002.8" font-size="6.2" text-anchor="start" fill="#333" font-weight="bold" transform="translate(536.6 1002.8) scale(0.46 1) translate(-536.6 -1002.8)">-2</text>
<line x1="535.0" y1="1024.2" x2="536.0" y2="1024.2" stroke="#808080" stroke-width="0.5"/>
<text x="536.6" y="1026.3" font-size="6.2" text-anchor="start" fill="#333" font-weight="bold" transform="translate(536.6 1026.3) scale(0.46 1) translate(-536.6 -1026.3)">-3</text>
<line x1="50.2" y1="1224.4" x2="173.8" y2="1254.4" stroke="#ececec" stroke-width="0.5"/>
<line x1="67.1" y1="1215.5" x2="190.7" y2="1245.5" stroke="#ececec" stroke-width="0.5"/>
<line x1="84.1" y1="1206.6" x2="207.7" y2="1236.6" stroke="#ececec" stroke-width="0.5"/>
<line x1="101.0" y1="1197.7" x2="224.6" y2="1227.7" stroke="#ececec" stroke-width="0.5"/>
<line x1="45.6" y1="1236.3" x2="130.4" y2="1191.8" stroke="#ececec" stroke-width="0.5"/>
<line x1="57.9" y1="1239.3" x2="142.7" y2="1194.8" stroke="#ececec" stroke-width="0.5"/>
<line x1="70.3" y1="1242.3" x2="155.1" y2="1197.8" stroke="#ececec" stroke-width="0.5"/>
<line x1="82.6" y1="1245.3" x2="167.4" y2="1200.8" stroke="#ececec" stroke-width="0.5"/>
<line x1="95.0" y1="1248.3" x2="179.8" y2="1203.8" stroke="#ececec" stroke-width="0.5"/>
<line x1="107.4" y1="1251.3" x2="192.2" y2="1206.8" stroke="#ececec" stroke-width="0.5"/>
<line x1="119.7" y1="1254.3" x2="204.5" y2="1209.8" stroke="#ececec" stroke-width="0.5"/>
<line x1="132.1" y1="1257.3" x2="216.9" y2="1212.8" stroke="#ececec" stroke-width="0.5"/>
<line x1="144.4" y1="1260.3" x2="229.2" y2="1215.8" stroke="#ececec" stroke-width="0.5"/>
<line x1="33.2" y1="1233.3" x2="33.2" y2="1129.8" stroke="#ececec" stroke-width="0.5"/>
<line x1="50.2" y1="1224.4" x2="50.2" y2="1120.9" stroke="#ececec" stroke-width="0.5"/>
<line x1="67.1" y1="1215.5" x2="67.1" y2="1112.0" stroke="#ececec" stroke-width="0.5"/>
<line x1="84.1" y1="1206.6" x2="84.1" y2="1103.1" stroke="#ececec" stroke-width="0.5"/>
<line x1="101.0" y1="1197.7" x2="101.0" y2="1094.2" stroke="#ececec" stroke-width="0.5"/>
<line x1="118.0" y1="1188.8" x2="118.0" y2="1085.3" stroke="#ececec" stroke-width="0.5"/>
<line x1="33.2" y1="1233.3" x2="118.0" y2="1188.8" stroke="#ececec" stroke-width="0.5"/>
<line x1="33.2" y1="1212.6" x2="118.0" y2="1168.1" stroke="#ececec" stroke-width="0.5"/>
<line x1="33.2" y1="1191.9" x2="118.0" y2="1147.4" stroke="#ececec" stroke-width="0.5"/>
<line x1="33.2" y1="1171.2" x2="118.0" y2="1126.7" stroke="#ececec" stroke-width="0.5"/>
<line x1="33.2" y1="1150.5" x2="118.0" y2="1106.0" stroke="#ececec" stroke-width="0.5"/>
<line x1="33.2" y1="1129.8" x2="118.0" y2="1085.3" stroke="#ececec" stroke-width="0.5"/>
<line x1="118.0" y1="1188.8" x2="118.0" y2="1085.3" stroke="#ececec" stroke-width="0.5"/>
<line x1="130.4" y1="1191.8" x2="130.4" y2="1088.3" stroke="#ececec" stroke-width="0.5"/>
<line x1="142.7" y1="1194.8" x2="142.7" y2="1091.3" stroke="#ececec" stroke-width="0.5"/>
<line x1="155.1" y1="1197.8" x2="155.1" y2="1094.3" stroke="#ececec" stroke-width="0.5"/>
<line x1="167.4" y1="1200.8" x2="167.4" y2="1097.3" stroke="#ececec" stroke-width="0.5"/>
<line x1="179.8" y1="1203.8" x2="179.8" y2="1100.3" stroke="#ececec" stroke-width="0.5"/>
<line x1="192.2" y1="1206.8" x2="192.2" y2="1103.3" stroke="#ececec" stroke-width="0.5"/>
<line x1="204.5" y1="1209.8" x2="204.5" y2="1106.3" stroke="#ececec" stroke-width="0.5"/>
<line x1="216.9" y1="1212.8" x2="216.9" y2="1109.3" stroke="#ececec" stroke-width="0.5"/>
<line x1="229.2" y1="1215.8" x2="229.2" y2="1112.3" stroke="#ececec" stroke-width="0.5"/>
<line x1="241.6" y1="1218.8" x2="241.6" y2="1115.3" stroke="#ececec" stroke-width="0.5"/>
<line x1="118.0" y1="1188.8" x2="241.6" y2="1218.8" stroke="#ececec" stroke-width="0.5"/>
<line x1="118.0" y1="1168.1" x2="241.6" y2="1198.1" stroke="#ececec" stroke-width="0.5"/>
<line x1="118.0" y1="1147.4" x2="241.6" y2="1177.4" stroke="#ececec" stroke-width="0.5"/>
<line x1="118.0" y1="1126.7" x2="241.6" y2="1156.7" stroke="#ececec" stroke-width="0.5"/>
<line x1="118.0" y1="1106.0" x2="241.6" y2="1136.0" stroke="#ececec" stroke-width="0.5"/>
<line x1="118.0" y1="1085.3" x2="241.6" y2="1115.3" stroke="#ececec" stroke-width="0.5"/>
<line x1="33.2" y1="1233.3" x2="33.2" y2="1129.8" stroke="#808080" stroke-width="0.7"/>
<line x1="33.2" y1="1233.3" x2="156.8" y2="1263.3" stroke="#808080" stroke-width="0.7"/>
<line x1="156.8" y1="1263.3" x2="241.6" y2="1218.8" stroke="#808080" stroke-width="0.7"/>
<line x1="33.2" y1="1233.3" x2="31.7" y2="1233.3" stroke="#808080" stroke-width="0.6"/>
<text x="29.7" y="1235.5" font-size="6.3" text-anchor="end" fill="#333" font-weight="bold" transform="translate(29.7 1235.5) scale(0.50 1) translate(-29.7 -1235.5)">-4</text>
<line x1="33.2" y1="1212.6" x2="31.7" y2="1212.6" stroke="#808080" stroke-width="0.6"/>
<text x="29.7" y="1214.8" font-size="6.3" text-anchor="end" fill="#333" font-weight="bold" transform="translate(29.7 1214.8) scale(0.50 1) translate(-29.7 -1214.8)">-2</text>
<line x1="33.2" y1="1191.9" x2="31.7" y2="1191.9" stroke="#808080" stroke-width="0.6"/>
<text x="29.7" y="1194.1" font-size="6.3" text-anchor="end" fill="#333" font-weight="bold" transform="translate(29.7 1194.1) scale(0.50 1) translate(-29.7 -1194.1)">0</text>
<line x1="33.2" y1="1171.2" x2="31.7" y2="1171.2" stroke="#808080" stroke-width="0.6"/>
<text x="29.7" y="1173.4" font-size="6.3" text-anchor="end" fill="#333" font-weight="bold" transform="translate(29.7 1173.4) scale(0.50 1) translate(-29.7 -1173.4)">2</text>
<line x1="33.2" y1="1150.5" x2="31.7" y2="1150.5" stroke="#808080" stroke-width="0.6"/>
<text x="29.7" y="1152.7" font-size="6.3" text-anchor="end" fill="#333" font-weight="bold" transform="translate(29.7 1152.7) scale(0.50 1) translate(-29.7 -1152.7)">4</text>
<line x1="33.2" y1="1129.8" x2="31.7" y2="1129.8" stroke="#808080" stroke-width="0.6"/>
<text x="29.7" y="1132.0" font-size="6.3" text-anchor="end" fill="#333" font-weight="bold" transform="translate(29.7 1132.0) scale(0.50 1) translate(-29.7 -1132.0)">6</text>
<text x="26.2" y="1242.1" font-size="6.3" text-anchor="middle" fill="#333" font-weight="bold" transform="translate(26.2 1242.1) scale(0.50 1) translate(-26.2 -1242.1)">1</text>
<text x="38.6" y="1245.1" font-size="6.3" text-anchor="middle" fill="#333" font-weight="bold" transform="translate(38.6 1245.1) scale(0.50 1) translate(-38.6 -1245.1)">0.9</text>
<line x1="45.6" y1="1236.3" x2="43.3" y2="1237.5" stroke="#777" stroke-width="0.6"/>
<text x="50.9" y="1248.1" font-size="6.3" text-anchor="middle" fill="#333" font-weight="bold" transform="translate(50.9 1248.1) scale(0.50 1) translate(-50.9 -1248.1)">0.8</text>
<line x1="57.9" y1="1239.3" x2="55.6" y2="1240.5" stroke="#777" stroke-width="0.6"/>
<text x="63.3" y="1251.1" font-size="6.3" text-anchor="middle" fill="#333" font-weight="bold" transform="translate(63.3 1251.1) scale(0.50 1) translate(-63.3 -1251.1)">0.7</text>
<line x1="70.3" y1="1242.3" x2="68.0" y2="1243.5" stroke="#777" stroke-width="0.6"/>
<text x="75.6" y="1254.1" font-size="6.3" text-anchor="middle" fill="#333" font-weight="bold" transform="translate(75.6 1254.1) scale(0.50 1) translate(-75.6 -1254.1)">0.6</text>
<line x1="82.6" y1="1245.3" x2="80.3" y2="1246.5" stroke="#777" stroke-width="0.6"/>
<text x="88.0" y="1257.1" font-size="6.3" text-anchor="middle" fill="#333" font-weight="bold" transform="translate(88.0 1257.1) scale(0.50 1) translate(-88.0 -1257.1)">0.5</text>
<line x1="95.0" y1="1248.3" x2="92.7" y2="1249.5" stroke="#777" stroke-width="0.6"/>
<text x="100.4" y="1260.1" font-size="6.3" text-anchor="middle" fill="#333" font-weight="bold" transform="translate(100.4 1260.1) scale(0.50 1) translate(-100.4 -1260.1)">0.4</text>
<line x1="107.4" y1="1251.3" x2="105.1" y2="1252.5" stroke="#777" stroke-width="0.6"/>
<text x="112.7" y="1263.1" font-size="6.3" text-anchor="middle" fill="#333" font-weight="bold" transform="translate(112.7 1263.1) scale(0.50 1) translate(-112.7 -1263.1)">0.3</text>
<line x1="119.7" y1="1254.3" x2="117.4" y2="1255.5" stroke="#777" stroke-width="0.6"/>
<text x="125.1" y="1266.1" font-size="6.3" text-anchor="middle" fill="#333" font-weight="bold" transform="translate(125.1 1266.1) scale(0.50 1) translate(-125.1 -1266.1)">0.2</text>
<line x1="132.1" y1="1257.3" x2="129.8" y2="1258.5" stroke="#777" stroke-width="0.6"/>
<text x="137.4" y="1269.1" font-size="6.3" text-anchor="middle" fill="#333" font-weight="bold" transform="translate(137.4 1269.1) scale(0.50 1) translate(-137.4 -1269.1)">0.1</text>
<line x1="144.4" y1="1260.3" x2="142.1" y2="1261.5" stroke="#777" stroke-width="0.6"/>
<text x="149.8" y="1272.1" font-size="6.3" text-anchor="middle" fill="#333" font-weight="bold" transform="translate(149.8 1272.1) scale(0.50 1) translate(-149.8 -1272.1)">0</text>
<text x="162.4" y="1270.9" font-size="6.3" text-anchor="middle" fill="#333" font-weight="bold" transform="translate(162.4 1270.9) scale(0.50 1) translate(-162.4 -1270.9)">0</text>
<text x="179.4" y="1262.0" font-size="6.3" text-anchor="middle" fill="#333" font-weight="bold" transform="translate(179.4 1262.0) scale(0.50 1) translate(-179.4 -1262.0)">0.2</text>
<line x1="173.8" y1="1254.4" x2="176.3" y2="1255.0" stroke="#777" stroke-width="0.6"/>
<text x="196.3" y="1253.1" font-size="6.3" text-anchor="middle" fill="#333" font-weight="bold" transform="translate(196.3 1253.1) scale(0.50 1) translate(-196.3 -1253.1)">0.4</text>
<line x1="190.7" y1="1245.5" x2="193.2" y2="1246.1" stroke="#777" stroke-width="0.6"/>
<text x="213.3" y="1244.2" font-size="6.3" text-anchor="middle" fill="#333" font-weight="bold" transform="translate(213.3 1244.2) scale(0.50 1) translate(-213.3 -1244.2)">0.6</text>
<line x1="207.7" y1="1236.6" x2="210.2" y2="1237.2" stroke="#777" stroke-width="0.6"/>
<text x="230.2" y="1235.3" font-size="6.3" text-anchor="middle" fill="#333" font-weight="bold" transform="translate(230.2 1235.3) scale(0.50 1) translate(-230.2 -1235.3)">0.8</text>
<line x1="224.6" y1="1227.7" x2="227.2" y2="1228.3" stroke="#777" stroke-width="0.6"/>
<text x="247.2" y="1226.4" font-size="6.3" text-anchor="middle" fill="#333" font-weight="bold" transform="translate(247.2 1226.4) scale(0.50 1) translate(-247.2 -1226.4)">1</text>
<text x="107.9" y="1280.5" font-size="10.5" text-anchor="middle" fill="#222" font-weight="bold" font-weight="bold" transform="translate(107.9 1280.5) scale(0.6 1) translate(-107.9 -1280.5)">CO2</text>
<text x="196.0" y="1277.0" font-size="10.5" text-anchor="middle" fill="#222" font-weight="bold" font-weight="bold" transform="translate(196.0 1277.0) scale(0.6 1) translate(-196.0 -1277.0)">PUN</text>
<defs><pattern id="m8f" patternUnits="userSpaceOnUse" width="100" height="100" patternTransform="matrix(0.0727 0.0176 0.0499 -0.0262 33.20 1233.30)"><path d="M0 0V100M100 0V100M0 0H100M0 100H100" stroke="#000" stroke-opacity="0.55" stroke-width="12" fill="none"/></pattern><pattern id="m8u" patternUnits="userSpaceOnUse" width="100" height="100" patternTransform="matrix(0.0727 0.0176 0.0000 0.0500 33.20 1233.30)"><path d="M0 0V100M100 0V100" stroke="#000" stroke-opacity="0.55" stroke-width="12" fill="none"/></pattern><pattern id="m8v" patternUnits="userSpaceOnUse" width="100" height="100" patternTransform="matrix(0.0499 -0.0262 0.0000 0.0500 33.20 1233.30)"><path d="M0 0V100M100 0V100" stroke="#000" stroke-opacity="0.55" stroke-width="12" fill="none"/></pattern><pattern id="m8w" patternUnits="userSpaceOnUse" width="100" height="100" patternTransform="matrix(0.0727 0.0176 0.0000 0.0600 33.20 1233.30)"><path d="M0 0V100M100 0V100M0 0H100M0 100H100" stroke="#000" stroke-opacity="0.55" stroke-width="12" fill="none"/></pattern></defs>
<polygon points="44.1,1195.8 57.5,1190.3 61.0,1136.3 64.4,1139.8 69.0,1140.9 73.6,1141.6 79.4,1146.7 88.6,1151.3 93.2,1154.7 100.1,1152.4 113.9,1153.6 120.7,1151.3 139.1,1153.6 140.0,1157.6 153.8,1159.9 165.3,1162.2 169.9,1161.0 181.4,1163.3 192.9,1165.6 206.7,1162.2 215.9,1164.5 229.7,1167.9 221.6,1174.8 218.2,1185.2 213.6,1190.9 204.4,1195.5 202.1,1208.2 195.2,1215.1 192.9,1222.0 188.3,1217.4 181.4,1215.1 167.6,1219.7 153.8,1226.6 95.9,1204.4" fill="#0620f2" stroke="#0620f2" stroke-width="0.6" stroke-linejoin="round"/>
<polygon points="44.1,1195.8 57.5,1190.3 61.0,1136.3 64.4,1139.8 69.0,1140.9 73.6,1141.6 79.4,1146.7 88.6,1151.3 93.2,1154.7 100.1,1152.4 113.9,1153.6 120.7,1151.3 139.1,1153.6 140.0,1157.6 153.8,1159.9 165.3,1162.2 169.9,1161.0 181.4,1163.3 192.9,1165.6 206.7,1162.2 215.9,1164.5 229.7,1167.9 221.6,1174.8 218.2,1185.2 213.6,1190.9 204.4,1195.5 202.1,1208.2 195.2,1215.1 192.9,1222.0 188.3,1217.4 181.4,1215.1 167.6,1219.7 153.8,1226.6 95.9,1204.4" fill="url(#m8f)"/>
<polygon points="57.5,1190.3 61.0,1136.3 64.4,1139.8 69.0,1140.9 73.6,1141.6 79.4,1146.7 88.6,1151.3 94.3,1155.9 100.1,1162.8 104.7,1188.0 102.4,1192.6 60.0,1193.0" fill="#0620f2" stroke="#0620f2" stroke-width="0.6" stroke-linejoin="round"/>
<polygon points="57.5,1190.3 61.0,1136.3 64.4,1139.8 69.0,1140.9 73.6,1141.6 79.4,1146.7 88.6,1151.3 94.3,1155.9 100.1,1162.8 104.7,1188.0 102.4,1192.6 60.0,1193.0" fill="url(#m8u)"/>
<polygon points="44.1,1195.8 102.4,1194.1 138.4,1201.3 185.3,1208.5 190.8,1217.5 181.4,1215.1 167.6,1219.7 153.8,1226.6 95.9,1204.4" fill="#0414d8" stroke="#0414d8" stroke-width="0.6" stroke-linejoin="round"/>
<polygon points="44.1,1195.8 102.4,1194.1 138.4,1201.3 185.3,1208.5 190.8,1217.5 181.4,1215.1 167.6,1219.7 153.8,1226.6 95.9,1204.4" fill="url(#m8f)"/>
<polygon points="98.0,1160.0 113.1,1172.0 127.5,1185.0 149.2,1183.2 167.3,1179.6 181.7,1183.2 199.8,1186.8 217.9,1185.0 221.0,1180.0 213.6,1190.9 204.4,1195.5 203.4,1206.7 185.3,1206.7 167.3,1204.9 138.4,1201.3 105.9,1195.9 104.0,1188.6" fill="#1a86ff" stroke="#1a86ff" stroke-width="0.6" stroke-linejoin="round"/>
<polygon points="98.0,1160.0 113.1,1172.0 127.5,1185.0 149.2,1183.2 167.3,1179.6 181.7,1183.2 199.8,1186.8 217.9,1185.0 221.0,1180.0 213.6,1190.9 204.4,1195.5 203.4,1206.7 185.3,1206.7 167.3,1204.9 138.4,1201.3 105.9,1195.9 104.0,1188.6" fill="url(#m8u)"/>
<polygon points="98.9,1153.1 100.1,1152.4 113.9,1153.6 120.7,1151.3 138.4,1152.5 163.7,1156.1 189.0,1162.6 203.4,1163.4 228.7,1167.0 221.6,1174.8 217.9,1180.0 199.8,1182.0 181.7,1180.0 167.3,1176.0 163.7,1168.8 138.4,1163.4 113.1,1159.7" fill="#2ee4f2" stroke="#2ee4f2" stroke-width="0.6" stroke-linejoin="round"/>
<polygon points="98.9,1153.1 100.1,1152.4 113.9,1153.6 120.7,1151.3 138.4,1152.5 163.7,1156.1 189.0,1162.6 203.4,1163.4 228.7,1167.0 221.6,1174.8 217.9,1180.0 199.8,1182.0 181.7,1180.0 167.3,1176.0 163.7,1168.8 138.4,1163.4 113.1,1159.7" fill="url(#m8f)"/>
<polygon points="100.4,1159.7 120.3,1163.4 145.6,1168.8 160.0,1170.6 167.3,1179.6 149.2,1183.2 127.5,1185.0 113.1,1177.8 102.3,1170.6" fill="#2ee4f2" stroke="#2ee4f2" stroke-width="0.6" stroke-linejoin="round"/>
<polygon points="100.4,1159.7 120.3,1163.4 145.6,1168.8 160.0,1170.6 167.3,1179.6 149.2,1183.2 127.5,1185.0 113.1,1177.8 102.3,1170.6" fill="url(#m8f)"/>
<polygon points="93.2,1154.3 98.9,1153.1 107.0,1156.5 120.3,1160.0 145.6,1164.8 163.7,1168.3 172.7,1172.0 170.0,1174.5 163.7,1171.5 145.6,1168.3 120.3,1163.6 107.0,1160.2 99.0,1157.5 95.0,1158.0" fill="#b8f060" stroke="#b8f060" stroke-width="0.6" stroke-linejoin="round"/>
<polygon points="93.2,1154.3 98.9,1153.1 107.0,1156.5 120.3,1160.0 145.6,1164.8 163.7,1168.3 172.7,1172.0 170.0,1174.5 163.7,1171.5 145.6,1168.3 120.3,1163.6 107.0,1160.2 99.0,1157.5 95.0,1158.0" fill="url(#m8f)"/>
<polygon points="192.9,1165.6 206.7,1162.2 215.9,1164.5 229.7,1167.9 221.6,1174.8 209.0,1173.7 197.5,1171.4" fill="#86f4a6" stroke="#86f4a6" stroke-width="0.6" stroke-linejoin="round"/>
<polygon points="192.9,1165.6 206.7,1162.2 215.9,1164.5 229.7,1167.9 221.6,1174.8 209.0,1173.7 197.5,1171.4" fill="url(#m8f)"/>
<polygon points="160.0,1170.6 165.3,1164.5 174.5,1176.0 172.0,1183.0 163.0,1182.9" fill="#86f4a6" stroke="#86f4a6" stroke-width="0.6" stroke-linejoin="round"/>
<polygon points="160.0,1170.6 165.3,1164.5 174.5,1176.0 172.0,1183.0 163.0,1182.9" fill="url(#m8f)"/>
<polygon points="183.7,1196.7 204.4,1195.5 202.1,1208.2 192.9,1222.0 186.0,1205.9" fill="#0208c0" stroke="#0208c0" stroke-width="0.6" stroke-linejoin="round"/>
<polygon points="183.7,1196.7 204.4,1195.5 202.1,1208.2 192.9,1222.0 186.0,1205.9" fill="url(#m8u)"/>
<rect x="248.8" y="1085" width="5.199999999999989" height="178.29999999999995" fill="url(#jet)"/>
<line x1="254.0" y1="1098.4" x2="255.0" y2="1098.4" stroke="#808080" stroke-width="0.5"/>
<text x="255.6" y="1100.5" font-size="6.2" text-anchor="start" fill="#333" font-weight="bold" transform="translate(255.6 1100.5) scale(0.46 1) translate(-255.6 -1100.5)">4</text>
<line x1="254.0" y1="1124.6" x2="255.0" y2="1124.6" stroke="#808080" stroke-width="0.5"/>
<text x="255.6" y="1126.7" font-size="6.2" text-anchor="start" fill="#333" font-weight="bold" transform="translate(255.6 1126.7) scale(0.46 1) translate(-255.6 -1126.7)">3</text>
<line x1="254.0" y1="1150.8" x2="255.0" y2="1150.8" stroke="#808080" stroke-width="0.5"/>
<text x="255.6" y="1152.9" font-size="6.2" text-anchor="start" fill="#333" font-weight="bold" transform="translate(255.6 1152.9) scale(0.46 1) translate(-255.6 -1152.9)">2</text>
<line x1="254.0" y1="1177.0" x2="255.0" y2="1177.0" stroke="#808080" stroke-width="0.5"/>
<text x="255.6" y="1179.1" font-size="6.2" text-anchor="start" fill="#333" font-weight="bold" transform="translate(255.6 1179.1) scale(0.46 1) translate(-255.6 -1179.1)">1</text>
<line x1="254.0" y1="1203.2" x2="255.0" y2="1203.2" stroke="#808080" stroke-width="0.5"/>
<text x="255.6" y="1205.3" font-size="6.2" text-anchor="start" fill="#333" font-weight="bold" transform="translate(255.6 1205.3) scale(0.46 1) translate(-255.6 -1205.3)">0</text>
<line x1="254.0" y1="1229.4" x2="255.0" y2="1229.4" stroke="#808080" stroke-width="0.5"/>
<text x="255.6" y="1231.5" font-size="6.2" text-anchor="start" fill="#333" font-weight="bold" transform="translate(255.6 1231.5) scale(0.46 1) translate(-255.6 -1231.5)">-1</text>
<line x1="254.0" y1="1255.6" x2="255.0" y2="1255.6" stroke="#808080" stroke-width="0.5"/>
<text x="255.6" y="1257.7" font-size="6.2" text-anchor="start" fill="#333" font-weight="bold" transform="translate(255.6 1257.7) scale(0.46 1) translate(-255.6 -1257.7)">-2</text>
<line x1="349.3" y1="1233.3" x2="475.9" y2="1253.8" stroke="#ececec" stroke-width="0.5"/>
<line x1="365.2" y1="1226.9" x2="491.8" y2="1247.4" stroke="#ececec" stroke-width="0.5"/>
<line x1="381.1" y1="1220.5" x2="507.7" y2="1241.0" stroke="#ececec" stroke-width="0.5"/>
<line x1="397.0" y1="1214.1" x2="523.6" y2="1234.6" stroke="#ececec" stroke-width="0.5"/>
<line x1="346.1" y1="1241.8" x2="425.6" y2="1209.8" stroke="#ececec" stroke-width="0.5"/>
<line x1="358.7" y1="1243.8" x2="438.2" y2="1211.8" stroke="#ececec" stroke-width="0.5"/>
<line x1="371.4" y1="1245.9" x2="450.9" y2="1213.9" stroke="#ececec" stroke-width="0.5"/>
<line x1="384.0" y1="1247.9" x2="463.5" y2="1215.9" stroke="#ececec" stroke-width="0.5"/>
<line x1="396.7" y1="1250.0" x2="476.2" y2="1218.0" stroke="#ececec" stroke-width="0.5"/>
<line x1="409.4" y1="1252.0" x2="488.9" y2="1220.0" stroke="#ececec" stroke-width="0.5"/>
<line x1="422.0" y1="1254.0" x2="501.5" y2="1222.0" stroke="#ececec" stroke-width="0.5"/>
<line x1="434.7" y1="1256.1" x2="514.2" y2="1224.1" stroke="#ececec" stroke-width="0.5"/>
<line x1="447.3" y1="1258.2" x2="526.8" y2="1226.2" stroke="#ececec" stroke-width="0.5"/>
<line x1="333.4" y1="1239.7" x2="333.4" y2="1135.7" stroke="#ececec" stroke-width="0.5"/>
<line x1="349.3" y1="1233.3" x2="349.3" y2="1129.3" stroke="#ececec" stroke-width="0.5"/>
<line x1="365.2" y1="1226.9" x2="365.2" y2="1122.9" stroke="#ececec" stroke-width="0.5"/>
<line x1="381.1" y1="1220.5" x2="381.1" y2="1116.5" stroke="#ececec" stroke-width="0.5"/>
<line x1="397.0" y1="1214.1" x2="397.0" y2="1110.1" stroke="#ececec" stroke-width="0.5"/>
<line x1="412.9" y1="1207.7" x2="412.9" y2="1103.7" stroke="#ececec" stroke-width="0.5"/>
<line x1="333.4" y1="1239.7" x2="412.9" y2="1207.7" stroke="#ececec" stroke-width="0.5"/>
<line x1="333.4" y1="1213.7" x2="412.9" y2="1181.7" stroke="#ececec" stroke-width="0.5"/>
<line x1="333.4" y1="1187.7" x2="412.9" y2="1155.7" stroke="#ececec" stroke-width="0.5"/>
<line x1="333.4" y1="1161.7" x2="412.9" y2="1129.7" stroke="#ececec" stroke-width="0.5"/>
<line x1="333.4" y1="1135.7" x2="412.9" y2="1103.7" stroke="#ececec" stroke-width="0.5"/>
<line x1="412.9" y1="1207.7" x2="412.9" y2="1103.7" stroke="#ececec" stroke-width="0.5"/>
<line x1="425.6" y1="1209.8" x2="425.6" y2="1105.8" stroke="#ececec" stroke-width="0.5"/>
<line x1="438.2" y1="1211.8" x2="438.2" y2="1107.8" stroke="#ececec" stroke-width="0.5"/>
<line x1="450.9" y1="1213.9" x2="450.9" y2="1109.9" stroke="#ececec" stroke-width="0.5"/>
<line x1="463.5" y1="1215.9" x2="463.5" y2="1111.9" stroke="#ececec" stroke-width="0.5"/>
<line x1="476.2" y1="1218.0" x2="476.2" y2="1114.0" stroke="#ececec" stroke-width="0.5"/>
<line x1="488.9" y1="1220.0" x2="488.9" y2="1116.0" stroke="#ececec" stroke-width="0.5"/>
<line x1="501.5" y1="1222.0" x2="501.5" y2="1118.0" stroke="#ececec" stroke-width="0.5"/>
<line x1="514.2" y1="1224.1" x2="514.2" y2="1120.1" stroke="#ececec" stroke-width="0.5"/>
<line x1="526.8" y1="1226.2" x2="526.8" y2="1122.2" stroke="#ececec" stroke-width="0.5"/>
<line x1="539.5" y1="1228.2" x2="539.5" y2="1124.2" stroke="#ececec" stroke-width="0.5"/>
<line x1="412.9" y1="1207.7" x2="539.5" y2="1228.2" stroke="#ececec" stroke-width="0.5"/>
<line x1="412.9" y1="1181.7" x2="539.5" y2="1202.2" stroke="#ececec" stroke-width="0.5"/>
<line x1="412.9" y1="1155.7" x2="539.5" y2="1176.2" stroke="#ececec" stroke-width="0.5"/>
<line x1="412.9" y1="1129.7" x2="539.5" y2="1150.2" stroke="#ececec" stroke-width="0.5"/>
<line x1="412.9" y1="1103.7" x2="539.5" y2="1124.2" stroke="#ececec" stroke-width="0.5"/>
<line x1="333.4" y1="1239.7" x2="333.4" y2="1135.7" stroke="#808080" stroke-width="0.7"/>
<line x1="333.4" y1="1239.7" x2="460.0" y2="1260.2" stroke="#808080" stroke-width="0.7"/>
<line x1="460.0" y1="1260.2" x2="539.5" y2="1228.2" stroke="#808080" stroke-width="0.7"/>
<line x1="333.4" y1="1239.7" x2="331.9" y2="1239.7" stroke="#808080" stroke-width="0.6"/>
<text x="329.9" y="1241.9" font-size="6.3" text-anchor="end" fill="#333" font-weight="bold" transform="translate(329.9 1241.9) scale(0.50 1) translate(-329.9 -1241.9)">0.05</text>
<line x1="333.4" y1="1213.7" x2="331.9" y2="1213.7" stroke="#808080" stroke-width="0.6"/>
<text x="329.9" y="1215.9" font-size="6.3" text-anchor="end" fill="#333" font-weight="bold" transform="translate(329.9 1215.9) scale(0.50 1) translate(-329.9 -1215.9)">0.1</text>
<line x1="333.4" y1="1187.7" x2="331.9" y2="1187.7" stroke="#808080" stroke-width="0.6"/>
<text x="329.9" y="1189.9" font-size="6.3" text-anchor="end" fill="#333" font-weight="bold" transform="translate(329.9 1189.9) scale(0.50 1) translate(-329.9 -1189.9)">0.15</text>
<line x1="333.4" y1="1161.7" x2="331.9" y2="1161.7" stroke="#808080" stroke-width="0.6"/>
<text x="329.9" y="1163.9" font-size="6.3" text-anchor="end" fill="#333" font-weight="bold" transform="translate(329.9 1163.9) scale(0.50 1) translate(-329.9 -1163.9)">0.2</text>
<line x1="333.4" y1="1135.7" x2="331.9" y2="1135.7" stroke="#808080" stroke-width="0.6"/>
<text x="329.9" y="1137.9" font-size="6.3" text-anchor="end" fill="#333" font-weight="bold" transform="translate(329.9 1137.9) scale(0.50 1) translate(-329.9 -1137.9)">0.25</text>
<text x="326.4" y="1248.5" font-size="6.3" text-anchor="middle" fill="#333" font-weight="bold" transform="translate(326.4 1248.5) scale(0.50 1) translate(-326.4 -1248.5)">1</text>
<text x="339.1" y="1250.5" font-size="6.3" text-anchor="middle" fill="#333" font-weight="bold" transform="translate(339.1 1250.5) scale(0.50 1) translate(-339.1 -1250.5)">0.9</text>
<line x1="346.1" y1="1241.8" x2="343.6" y2="1242.7" stroke="#777" stroke-width="0.6"/>
<text x="351.7" y="1252.6" font-size="6.3" text-anchor="middle" fill="#333" font-weight="bold" transform="translate(351.7 1252.6) scale(0.50 1) translate(-351.7 -1252.6)">0.8</text>
<line x1="358.7" y1="1243.8" x2="356.3" y2="1244.8" stroke="#777" stroke-width="0.6"/>
<text x="364.4" y="1254.7" font-size="6.3" text-anchor="middle" fill="#333" font-weight="bold" transform="translate(364.4 1254.7) scale(0.50 1) translate(-364.4 -1254.7)">0.7</text>
<line x1="371.4" y1="1245.9" x2="369.0" y2="1246.8" stroke="#777" stroke-width="0.6"/>
<text x="377.0" y="1256.7" font-size="6.3" text-anchor="middle" fill="#333" font-weight="bold" transform="translate(377.0 1256.7) scale(0.50 1) translate(-377.0 -1256.7)">0.6</text>
<line x1="384.0" y1="1247.9" x2="381.6" y2="1248.9" stroke="#777" stroke-width="0.6"/>
<text x="389.7" y="1258.8" font-size="6.3" text-anchor="middle" fill="#333" font-weight="bold" transform="translate(389.7 1258.8) scale(0.50 1) translate(-389.7 -1258.8)">0.5</text>
<line x1="396.7" y1="1250.0" x2="394.3" y2="1250.9" stroke="#777" stroke-width="0.6"/>
<text x="402.4" y="1260.8" font-size="6.3" text-anchor="middle" fill="#333" font-weight="bold" transform="translate(402.4 1260.8) scale(0.50 1) translate(-402.4 -1260.8)">0.4</text>
<line x1="409.4" y1="1252.0" x2="406.9" y2="1253.0" stroke="#777" stroke-width="0.6"/>
<text x="415.0" y="1262.8" font-size="6.3" text-anchor="middle" fill="#333" font-weight="bold" transform="translate(415.0 1262.8) scale(0.50 1) translate(-415.0 -1262.8)">0.3</text>
<line x1="422.0" y1="1254.0" x2="419.6" y2="1255.0" stroke="#777" stroke-width="0.6"/>
<text x="427.7" y="1264.9" font-size="6.3" text-anchor="middle" fill="#333" font-weight="bold" transform="translate(427.7 1264.9) scale(0.50 1) translate(-427.7 -1264.9)">0.2</text>
<line x1="434.7" y1="1256.1" x2="432.3" y2="1257.1" stroke="#777" stroke-width="0.6"/>
<text x="440.3" y="1267.0" font-size="6.3" text-anchor="middle" fill="#333" font-weight="bold" transform="translate(440.3 1267.0) scale(0.50 1) translate(-440.3 -1267.0)">0.1</text>
<line x1="447.3" y1="1258.2" x2="444.9" y2="1259.1" stroke="#777" stroke-width="0.6"/>
<text x="453.0" y="1269.0" font-size="6.3" text-anchor="middle" fill="#333" font-weight="bold" transform="translate(453.0 1269.0) scale(0.50 1) translate(-453.0 -1269.0)">0</text>
<text x="465.6" y="1267.8" font-size="6.3" text-anchor="middle" fill="#333" font-weight="bold" transform="translate(465.6 1267.8) scale(0.50 1) translate(-465.6 -1267.8)">0</text>
<text x="481.5" y="1261.4" font-size="6.3" text-anchor="middle" fill="#333" font-weight="bold" transform="translate(481.5 1261.4) scale(0.50 1) translate(-481.5 -1261.4)">0.2</text>
<line x1="475.9" y1="1253.8" x2="478.5" y2="1254.2" stroke="#777" stroke-width="0.6"/>
<text x="497.4" y="1255.0" font-size="6.3" text-anchor="middle" fill="#333" font-weight="bold" transform="translate(497.4 1255.0) scale(0.50 1) translate(-497.4 -1255.0)">0.4</text>
<line x1="491.8" y1="1247.4" x2="494.4" y2="1247.8" stroke="#777" stroke-width="0.6"/>
<text x="513.3" y="1248.6" font-size="6.3" text-anchor="middle" fill="#333" font-weight="bold" transform="translate(513.3 1248.6) scale(0.50 1) translate(-513.3 -1248.6)">0.6</text>
<line x1="507.7" y1="1241.0" x2="510.3" y2="1241.4" stroke="#777" stroke-width="0.6"/>
<text x="529.2" y="1242.2" font-size="6.3" text-anchor="middle" fill="#333" font-weight="bold" transform="translate(529.2 1242.2) scale(0.50 1) translate(-529.2 -1242.2)">0.8</text>
<line x1="523.6" y1="1234.6" x2="526.2" y2="1235.0" stroke="#777" stroke-width="0.6"/>
<text x="545.1" y="1235.8" font-size="6.3" text-anchor="middle" fill="#333" font-weight="bold" transform="translate(545.1 1235.8) scale(0.50 1) translate(-545.1 -1235.8)">1</text>
<text x="408.7" y="1276.5" font-size="10.5" text-anchor="middle" fill="#222" font-weight="bold" font-weight="bold" transform="translate(408.7 1276.5) scale(0.6 1) translate(-408.7 -1276.5)">CO2</text>
<text x="498.1" y="1273.5" font-size="10.5" text-anchor="middle" fill="#222" font-weight="bold" font-weight="bold" transform="translate(498.1 1273.5) scale(0.6 1) translate(-498.1 -1273.5)">PUN</text>
<defs><pattern id="m9f" patternUnits="userSpaceOnUse" width="100" height="100" patternTransform="matrix(0.0745 0.0121 0.0468 -0.0188 333.40 1239.70)"><path d="M0 0V100M100 0V100M0 0H100M0 100H100" stroke="#000" stroke-opacity="0.55" stroke-width="12" fill="none"/></pattern><pattern id="m9u" patternUnits="userSpaceOnUse" width="100" height="100" patternTransform="matrix(0.0745 0.0121 0.0000 0.0500 333.40 1239.70)"><path d="M0 0V100M100 0V100" stroke="#000" stroke-opacity="0.55" stroke-width="12" fill="none"/></pattern><pattern id="m9v" patternUnits="userSpaceOnUse" width="100" height="100" patternTransform="matrix(0.0468 -0.0188 0.0000 0.0500 333.40 1239.70)"><path d="M0 0V100M100 0V100" stroke="#000" stroke-opacity="0.55" stroke-width="12" fill="none"/></pattern><pattern id="m9w" patternUnits="userSpaceOnUse" width="100" height="100" patternTransform="matrix(0.0745 0.0121 0.0000 0.0600 333.40 1239.70)"><path d="M0 0V100M100 0V100M0 0H100M0 100H100" stroke="#000" stroke-opacity="0.55" stroke-width="12" fill="none"/></pattern></defs>
<polygon points="345.6,1229.4 359.4,1211.7 378.0,1212.0 386.2,1205.5 388.6,1182.0 397.8,1183.1 403.4,1185.8 406.9,1159.0 421.8,1160.0 424.1,1128.6 480.5,1137.1 479.3,1169.3 494.3,1171.6 494.3,1191.1 492.0,1215.3 485.5,1217.6 481.0,1236.0 470.0,1239.0 461.9,1241.2 456.0,1247.1" fill="#0620f2" stroke="#0620f2" stroke-width="0.6" stroke-linejoin="round"/>
<polygon points="345.6,1229.4 359.4,1211.7 378.0,1212.0 386.2,1205.5 388.6,1182.0 397.8,1183.1 403.4,1185.8 406.9,1159.0 421.8,1160.0 424.1,1128.6 480.5,1137.1 479.3,1169.3 494.3,1171.6 494.3,1191.1 492.0,1215.3 485.5,1217.6 481.0,1236.0 470.0,1239.0 461.9,1241.2 456.0,1247.1" fill="url(#m9u)"/>
<polygon points="474.0,1221.0 481.0,1236.0 467.0,1238.5" fill="#1a86ff" stroke="#1a86ff" stroke-width="0.6" stroke-linejoin="round"/>
<polygon points="474.0,1221.0 481.0,1236.0 467.0,1238.5" fill="url(#m9u)"/>
<polygon points="345.6,1229.4 359.4,1221.0 470.0,1235.0 456.0,1247.1" fill="#0414d8" stroke="#0414d8" stroke-width="0.6" stroke-linejoin="round"/>
<polygon points="345.6,1229.4 359.4,1221.0 470.0,1235.0 456.0,1247.1" fill="url(#m9u)"/>
<polygon points="359.4,1211.7 470.0,1219.6 470.0,1224.0 359.4,1216.0" fill="#0414d8" stroke="#0414d8" stroke-width="0.6" stroke-linejoin="round"/>
<polygon points="359.4,1211.7 470.0,1219.6 470.0,1224.0 359.4,1216.0" fill="url(#m9u)"/>
<polygon points="388.6,1182.0 435.0,1188.0 435.0,1192.0 388.6,1186.0" fill="#0414d8" stroke="#0414d8" stroke-width="0.6" stroke-linejoin="round"/>
<polygon points="388.6,1182.0 435.0,1188.0 435.0,1192.0 388.6,1186.0" fill="url(#m9u)"/>
<polygon points="406.9,1159.0 470.0,1169.0 470.0,1173.0 406.9,1163.0" fill="#0414d8" stroke="#0414d8" stroke-width="0.6" stroke-linejoin="round"/>
<polygon points="406.9,1159.0 470.0,1169.0 470.0,1173.0 406.9,1163.0" fill="url(#m9u)"/>
<polygon points="379.1,1205.8 396.8,1203.8 396.8,1217.6 379.1,1215.6" fill="#0208c0" stroke="#0208c0" stroke-width="0.6" stroke-linejoin="round"/>
<polygon points="379.1,1205.8 396.8,1203.8 396.8,1217.6 379.1,1215.6" fill="url(#m9u)"/>
<polygon points="436.8,1184.3 494.3,1191.1 492.0,1215.3 431.0,1207.2" fill="#1a86ff" stroke="#1a86ff" stroke-width="0.6" stroke-linejoin="round"/>
<polygon points="436.8,1184.3 494.3,1191.1 492.0,1215.3 431.0,1207.2" fill="url(#m9u)"/>
<polygon points="418.5,1213.6 477.6,1219.6 477.6,1229.4 418.5,1219.0" fill="#1a86ff" stroke="#1a86ff" stroke-width="0.6" stroke-linejoin="round"/>
<polygon points="418.5,1213.6 477.6,1219.6 477.6,1229.4 418.5,1219.0" fill="url(#m9u)"/>
<polygon points="469.0,1169.3 494.3,1171.6 494.3,1184.3 469.0,1182.0" fill="#2ee4f2" stroke="#2ee4f2" stroke-width="0.6" stroke-linejoin="round"/>
<polygon points="469.0,1169.3 494.3,1171.6 494.3,1184.3 469.0,1182.0" fill="url(#m9u)"/>
<polygon points="448.0,1181.0 494.3,1183.5 501.1,1198.0 494.3,1190.0 446.0,1186.0" fill="#2ee4f2" stroke="#2ee4f2" stroke-width="0.6" stroke-linejoin="round"/>
<polygon points="448.0,1181.0 494.3,1183.5 501.1,1198.0 494.3,1190.0 446.0,1186.0" fill="url(#m9u)"/>
<polygon points="480.5,1137.1 525.3,1144.0 522.0,1160.0 515.0,1154.4 497.7,1152.1 496.6,1169.3 479.3,1169.3" fill="#b8f060" stroke="#b8f060" stroke-width="0.6" stroke-linejoin="round"/>
<polygon points="480.5,1137.1 525.3,1144.0 522.0,1160.0 515.0,1154.4 497.7,1152.1 496.6,1169.3 479.3,1169.3" fill="url(#m9u)"/>
<polygon points="497.7,1152.1 515.0,1154.4 512.6,1188.9 496.6,1186.6" fill="#86f4a6" stroke="#86f4a6" stroke-width="0.6" stroke-linejoin="round"/>
<polygon points="497.7,1152.1 515.0,1154.4 512.6,1188.9 496.6,1186.6" fill="url(#m9u)"/>
<polygon points="490.8,1126.8 528.7,1132.5 525.3,1144.0 487.4,1138.3" fill="#e81a0a" stroke="#e81a0a" stroke-width="0.6" stroke-linejoin="round"/>
<polygon points="490.8,1126.8 528.7,1132.5 525.3,1144.0 487.4,1138.3" fill="url(#m9u)"/>
<polygon points="515.0,1154.4 524.1,1144.0 520.7,1176.2" fill="#e81a0a" stroke="#e81a0a" stroke-width="0.6" stroke-linejoin="round"/>
<polygon points="515.0,1154.4 524.1,1144.0 520.7,1176.2" fill="url(#m9u)"/>
<rect x="547.1" y="1104" width="5.899999999999977" height="156.0999999999999" fill="url(#jet)"/>
<line x1="553.0" y1="1119.3" x2="554.0" y2="1119.3" stroke="#808080" stroke-width="0.5"/>
<text x="554.6" y="1121.4" font-size="6.2" text-anchor="start" fill="#333" font-weight="bold" transform="translate(554.6 1121.4) scale(0.46 1) translate(-554.6 -1121.4)">0.22</text>
<line x1="553.0" y1="1136.3" x2="554.0" y2="1136.3" stroke="#808080" stroke-width="0.5"/>
<text x="554.6" y="1138.4" font-size="6.2" text-anchor="start" fill="#333" font-weight="bold" transform="translate(554.6 1138.4) scale(0.46 1) translate(-554.6 -1138.4)">0.2</text>
<line x1="553.0" y1="1153.3" x2="554.0" y2="1153.3" stroke="#808080" stroke-width="0.5"/>
<text x="554.6" y="1155.4" font-size="6.2" text-anchor="start" fill="#333" font-weight="bold" transform="translate(554.6 1155.4) scale(0.46 1) translate(-554.6 -1155.4)">0.18</text>
<line x1="553.0" y1="1170.3" x2="554.0" y2="1170.3" stroke="#808080" stroke-width="0.5"/>
<text x="554.6" y="1172.4" font-size="6.2" text-anchor="start" fill="#333" font-weight="bold" transform="translate(554.6 1172.4) scale(0.46 1) translate(-554.6 -1172.4)">0.16</text>
<line x1="553.0" y1="1187.8" x2="554.0" y2="1187.8" stroke="#808080" stroke-width="0.5"/>
<text x="554.6" y="1189.9" font-size="6.2" text-anchor="start" fill="#333" font-weight="bold" transform="translate(554.6 1189.9) scale(0.46 1) translate(-554.6 -1189.9)">0.14</text>
<line x1="553.0" y1="1205.3" x2="554.0" y2="1205.3" stroke="#808080" stroke-width="0.5"/>
<text x="554.6" y="1207.4" font-size="6.2" text-anchor="start" fill="#333" font-weight="bold" transform="translate(554.6 1207.4) scale(0.46 1) translate(-554.6 -1207.4)">0.12</text>
<line x1="553.0" y1="1222.8" x2="554.0" y2="1222.8" stroke="#808080" stroke-width="0.5"/>
<text x="554.6" y="1224.9" font-size="6.2" text-anchor="start" fill="#333" font-weight="bold" transform="translate(554.6 1224.9) scale(0.46 1) translate(-554.6 -1224.9)">0.1</text>
<line x1="553.0" y1="1240.3" x2="554.0" y2="1240.3" stroke="#808080" stroke-width="0.5"/>
<text x="554.6" y="1242.4" font-size="6.2" text-anchor="start" fill="#333" font-weight="bold" transform="translate(554.6 1242.4) scale(0.46 1) translate(-554.6 -1242.4)">0.08</text>
<line x1="553.0" y1="1257.8" x2="554.0" y2="1257.8" stroke="#808080" stroke-width="0.5"/>
<text x="554.6" y="1259.9" font-size="6.2" text-anchor="start" fill="#333" font-weight="bold" transform="translate(554.6 1259.9) scale(0.46 1) translate(-554.6 -1259.9)">0.06</text></svg>
</body></html>
